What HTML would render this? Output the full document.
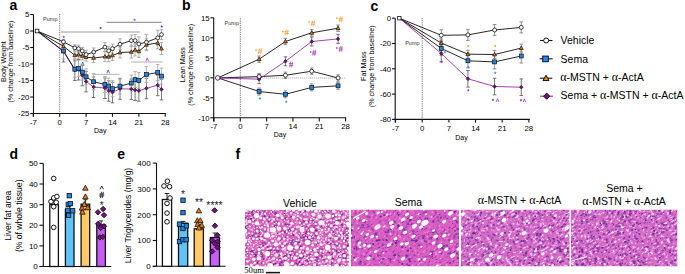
<!DOCTYPE html>
<html><head><meta charset="utf-8"><style>
html,body{margin:0;padding:0;background:#fff;font-family:"Liberation Sans",sans-serif;}
svg{display:block;}
</style></head><body>
<svg width="685" height="274" viewBox="0 0 685 274" font-family="Liberation Sans, sans-serif">
<defs><filter id="soft" x="-2%" y="-2%" width="104%" height="104%"><feGaussianBlur stdDeviation="0.3"/></filter>
<filter id="h11" x="0" y="0" width="100%" height="100%" color-interpolation-filters="sRGB"><feTurbulence type="fractalNoise" baseFrequency="0.3 0.55" numOctaves="3" seed="11"/><feColorMatrix type="matrix" values="1 0 0 0 0  1 0 0 0 0  1 0 0 0 0  0 0 0 0 1"/><feComponentTransfer><feFuncR type="table" tableValues="0.4 0.41 0.42 0.43 0.44 0.45 0.46 0.617 0.76 0.845 0.857 0.87 0.906 0.94 0.962 0.969 0.975 0.981 0.988 0.994 1"/><feFuncG type="table" tableValues="0.14 0.145 0.15 0.155 0.16 0.165 0.17 0.263 0.335 0.375 0.388 0.4 0.529 0.68 0.791 0.819 0.848 0.876 0.904 0.932 0.96"/><feFuncB type="table" tableValues="0.5 0.51 0.52 0.53 0.54 0.55 0.56 0.646 0.695 0.715 0.727 0.74 0.819 0.89 0.934 0.945 0.956 0.967 0.978 0.989 1"/></feComponentTransfer></filter>
<clipPath id="c11"><rect x="245" y="209.8" width="104" height="56.5"/></clipPath>
<filter id="h12" x="0" y="0" width="100%" height="100%" color-interpolation-filters="sRGB"><feTurbulence type="fractalNoise" baseFrequency="0.3 0.55" numOctaves="3" seed="12"/><feColorMatrix type="matrix" values="1 0 0 0 0  1 0 0 0 0  1 0 0 0 0  0 0 0 0 1"/><feComponentTransfer><feFuncR type="table" tableValues="0.42 0.434 0.449 0.463 0.477 0.491 0.557 0.7 0.8 0.845 0.852 0.86 0.867 0.888 0.918 0.949 0.98 0.985 0.99 0.995 1"/><feFuncG type="table" tableValues="0.15 0.159 0.168 0.177 0.186 0.195 0.229 0.3 0.336 0.356 0.366 0.376 0.386 0.447 0.542 0.67 0.82 0.855 0.89 0.925 0.96"/><feFuncB type="table" tableValues="0.54 0.551 0.561 0.572 0.583 0.594 0.634 0.72 0.741 0.755 0.762 0.77 0.777 0.81 0.86 0.91 0.96 0.97 0.98 0.99 1"/></feComponentTransfer></filter>
<clipPath id="c12"><rect x="351" y="209.8" width="108" height="56.5"/></clipPath>
<filter id="h13" x="0" y="0" width="100%" height="100%" color-interpolation-filters="sRGB"><feTurbulence type="fractalNoise" baseFrequency="0.3 0.55" numOctaves="3" seed="13"/><feColorMatrix type="matrix" values="1 0 0 0 0  1 0 0 0 0  1 0 0 0 0  0 0 0 0 1"/><feComponentTransfer><feFuncR type="table" tableValues="0.44 0.453 0.467 0.48 0.493 0.507 0.52 0.649 0.76 0.825 0.837 0.85 0.893 0.935 0.962 0.969 0.975 0.981 0.988 0.994 1"/><feFuncG type="table" tableValues="0.18 0.187 0.193 0.2 0.207 0.213 0.22 0.306 0.375 0.415 0.427 0.44 0.554 0.7 0.81 0.835 0.86 0.885 0.91 0.935 0.96"/><feFuncB type="table" tableValues="0.56 0.57 0.58 0.59 0.6 0.61 0.62 0.699 0.75 0.773 0.782 0.79 0.854 0.915 0.953 0.961 0.969 0.977 0.984 0.992 1"/></feComponentTransfer></filter>
<clipPath id="c13"><rect x="461" y="209.8" width="108.5" height="56.5"/></clipPath>
<filter id="h14" x="0" y="0" width="100%" height="100%" color-interpolation-filters="sRGB"><feTurbulence type="fractalNoise" baseFrequency="0.3 0.55" numOctaves="3" seed="14"/><feColorMatrix type="matrix" values="1 0 0 0 0  1 0 0 0 0  1 0 0 0 0  0 0 0 0 1"/><feComponentTransfer><feFuncR type="table" tableValues="0.44 0.453 0.467 0.48 0.493 0.507 0.52 0.649 0.76 0.825 0.837 0.85 0.893 0.935 0.962 0.969 0.975 0.981 0.988 0.994 1"/><feFuncG type="table" tableValues="0.18 0.187 0.193 0.2 0.207 0.213 0.22 0.306 0.375 0.415 0.427 0.44 0.554 0.7 0.81 0.835 0.86 0.885 0.91 0.935 0.96"/><feFuncB type="table" tableValues="0.56 0.57 0.58 0.59 0.6 0.61 0.62 0.699 0.75 0.773 0.782 0.79 0.854 0.915 0.953 0.961 0.969 0.977 0.984 0.992 1"/></feComponentTransfer></filter>
<clipPath id="c14"><rect x="571" y="209.8" width="106.3" height="56.5"/></clipPath></defs>
<text x="9.4" y="9.9" font-size="14" font-weight="bold">a</text>
<line x1="33.5" y1="14.4" x2="33.5" y2="116.8" stroke="#111" stroke-width="1.1"/>
<line x1="33" y1="113.5" x2="165.9" y2="113.5" stroke="#111" stroke-width="1.1"/>
<line x1="30.2" y1="14.5" x2="33.5" y2="14.5" stroke="#111" stroke-width="1.1"/>
<text x="29.4" y="17.3" font-size="7.8" text-anchor="end">5</text>
<line x1="30.2" y1="31" x2="33.5" y2="31" stroke="#111" stroke-width="1.1"/>
<text x="29.4" y="33.8" font-size="7.8" text-anchor="end">0</text>
<line x1="30.2" y1="47.5" x2="33.5" y2="47.5" stroke="#111" stroke-width="1.1"/>
<text x="29.4" y="50.3" font-size="7.8" text-anchor="end">-5</text>
<line x1="30.2" y1="64" x2="33.5" y2="64" stroke="#111" stroke-width="1.1"/>
<text x="29.4" y="66.8" font-size="7.8" text-anchor="end">-10</text>
<line x1="30.2" y1="80.5" x2="33.5" y2="80.5" stroke="#111" stroke-width="1.1"/>
<text x="29.4" y="83.3" font-size="7.8" text-anchor="end">-15</text>
<line x1="30.2" y1="97" x2="33.5" y2="97" stroke="#111" stroke-width="1.1"/>
<text x="29.4" y="99.8" font-size="7.8" text-anchor="end">-20</text>
<line x1="30.2" y1="113.5" x2="33.5" y2="113.5" stroke="#111" stroke-width="1.1"/>
<text x="29.4" y="116.3" font-size="7.8" text-anchor="end">-25</text>
<line x1="33.3" y1="113.5" x2="33.3" y2="116.8" stroke="#111" stroke-width="1.1"/>
<text x="33.3" y="124.9" font-size="7.8" text-anchor="middle">-7</text>
<line x1="59.69" y1="113.5" x2="59.69" y2="116.8" stroke="#111" stroke-width="1.1"/>
<text x="59.69" y="124.9" font-size="7.8" text-anchor="middle">0</text>
<line x1="86.08" y1="113.5" x2="86.08" y2="116.8" stroke="#111" stroke-width="1.1"/>
<text x="86.08" y="124.9" font-size="7.8" text-anchor="middle">7</text>
<line x1="112.47" y1="113.5" x2="112.47" y2="116.8" stroke="#111" stroke-width="1.1"/>
<text x="112.47" y="124.9" font-size="7.8" text-anchor="middle">14</text>
<line x1="138.86" y1="113.5" x2="138.86" y2="116.8" stroke="#111" stroke-width="1.1"/>
<text x="138.86" y="124.9" font-size="7.8" text-anchor="middle">21</text>
<line x1="165.25" y1="113.5" x2="165.25" y2="116.8" stroke="#111" stroke-width="1.1"/>
<text x="165.25" y="124.9" font-size="7.8" text-anchor="middle">28</text>
<text x="100.2" y="132.9" font-size="7" text-anchor="middle">Day</text>
<text x="5.6" y="61.6" font-size="7.2" text-anchor="middle" transform="rotate(-90 5.6 61.6)">Body Weight</text>
<text x="13.4" y="61.6" font-size="7.2" text-anchor="middle" transform="rotate(-90 13.4 61.6)">(% change from baseline)</text>
<line x1="59.7" y1="14" x2="59.7" y2="113.5" stroke="#333" stroke-width="0.75" stroke-dasharray="0.9 0.9"/>
<text x="43.1" y="20.9" font-size="5.5" fill="#333">Pump</text>
<line x1="60.7" y1="32" x2="140.2" y2="32" stroke="#999" stroke-width="1.1"/>
<line x1="106.6" y1="22.4" x2="161.8" y2="22.4" stroke="#999" stroke-width="1.1"/>
<line x1="92.5" y1="74.4" x2="119.7" y2="74.4" stroke="#bbb" stroke-width="1.1"/>
<line x1="131" y1="62" x2="162.6" y2="62" stroke="#bbb" stroke-width="1.1"/>
<polygon points="100.6,26.5 101.04,27.39 102.03,27.54 101.31,28.23 101.48,29.21 100.6,28.75 99.72,29.21 99.89,28.23 99.17,27.54 100.16,27.39" fill="#3d3dff"/>
<polygon points="161.7,25.1 162.14,25.99 163.13,26.14 162.41,26.83 162.58,27.81 161.7,27.35 160.82,27.81 160.99,26.83 160.27,26.14 161.26,25.99" fill="#3d3dff"/>
<polygon points="63.7,35.4 64.14,36.29 65.13,36.44 64.41,37.13 64.58,38.11 63.7,37.65 62.82,38.11 62.99,37.13 62.27,36.44 63.26,36.29" fill="#a040f0"/>
<polygon points="134.6,18.3 135.04,19.19 136.03,19.34 135.31,20.03 135.48,21.01 134.6,20.55 133.72,21.01 133.89,20.03 133.17,19.34 134.16,19.19" fill="#a040f0"/>
<path d="M81.4 65.4L82.7 62L84 65.4" fill="none" stroke="#3d55ff" stroke-width="0.9"/>
<path d="M106.9 73.3L108.2 69.9L109.5 73.3" fill="none" stroke="#3d55ff" stroke-width="0.9"/>
<path d="M145.9 61.3L147.2 57.9L148.5 61.3" fill="none" stroke="#b048f0" stroke-width="0.9"/>
<line x1="63.46" y1="41.5" x2="63.46" y2="62" stroke="#555" stroke-width="0.8"/>
<line x1="61.66" y1="41.5" x2="65.26" y2="41.5" stroke="#555" stroke-width="0.8"/>
<line x1="61.66" y1="62" x2="65.26" y2="62" stroke="#555" stroke-width="0.8"/>
<line x1="74.77" y1="60" x2="74.77" y2="80.5" stroke="#555" stroke-width="0.8"/>
<line x1="72.97" y1="60" x2="76.57" y2="60" stroke="#555" stroke-width="0.8"/>
<line x1="72.97" y1="80.5" x2="76.57" y2="80.5" stroke="#555" stroke-width="0.8"/>
<line x1="78.54" y1="59.5" x2="78.54" y2="80" stroke="#555" stroke-width="0.8"/>
<line x1="76.74" y1="59.5" x2="80.34" y2="59.5" stroke="#555" stroke-width="0.8"/>
<line x1="76.74" y1="80" x2="80.34" y2="80" stroke="#555" stroke-width="0.8"/>
<line x1="82.31" y1="65.3" x2="82.31" y2="85.8" stroke="#555" stroke-width="0.8"/>
<line x1="80.51" y1="65.3" x2="84.11" y2="65.3" stroke="#555" stroke-width="0.8"/>
<line x1="80.51" y1="85.8" x2="84.11" y2="85.8" stroke="#555" stroke-width="0.8"/>
<line x1="86.08" y1="71.4" x2="86.08" y2="91.9" stroke="#555" stroke-width="0.8"/>
<line x1="84.28" y1="71.4" x2="87.88" y2="71.4" stroke="#555" stroke-width="0.8"/>
<line x1="84.28" y1="91.9" x2="87.88" y2="91.9" stroke="#555" stroke-width="0.8"/>
<line x1="93.62" y1="77" x2="93.62" y2="97.5" stroke="#555" stroke-width="0.8"/>
<line x1="91.82" y1="77" x2="95.42" y2="77" stroke="#555" stroke-width="0.8"/>
<line x1="91.82" y1="97.5" x2="95.42" y2="97.5" stroke="#555" stroke-width="0.8"/>
<line x1="104.93" y1="78" x2="104.93" y2="98.5" stroke="#555" stroke-width="0.8"/>
<line x1="103.13" y1="78" x2="106.73" y2="78" stroke="#555" stroke-width="0.8"/>
<line x1="103.13" y1="98.5" x2="106.73" y2="98.5" stroke="#555" stroke-width="0.8"/>
<line x1="108.7" y1="80.8" x2="108.7" y2="101.3" stroke="#555" stroke-width="0.8"/>
<line x1="106.9" y1="80.8" x2="110.5" y2="80.8" stroke="#555" stroke-width="0.8"/>
<line x1="106.9" y1="101.3" x2="110.5" y2="101.3" stroke="#555" stroke-width="0.8"/>
<line x1="112.47" y1="82.3" x2="112.47" y2="102.8" stroke="#555" stroke-width="0.8"/>
<line x1="110.67" y1="82.3" x2="114.27" y2="82.3" stroke="#555" stroke-width="0.8"/>
<line x1="110.67" y1="102.8" x2="114.27" y2="102.8" stroke="#555" stroke-width="0.8"/>
<line x1="120.01" y1="78.8" x2="120.01" y2="99.3" stroke="#555" stroke-width="0.8"/>
<line x1="118.21" y1="78.8" x2="121.81" y2="78.8" stroke="#555" stroke-width="0.8"/>
<line x1="118.21" y1="99.3" x2="121.81" y2="99.3" stroke="#555" stroke-width="0.8"/>
<line x1="131.32" y1="79" x2="131.32" y2="99.5" stroke="#555" stroke-width="0.8"/>
<line x1="129.52" y1="79" x2="133.12" y2="79" stroke="#555" stroke-width="0.8"/>
<line x1="129.52" y1="99.5" x2="133.12" y2="99.5" stroke="#555" stroke-width="0.8"/>
<line x1="135.09" y1="80" x2="135.09" y2="100.5" stroke="#555" stroke-width="0.8"/>
<line x1="133.29" y1="80" x2="136.89" y2="80" stroke="#555" stroke-width="0.8"/>
<line x1="133.29" y1="100.5" x2="136.89" y2="100.5" stroke="#555" stroke-width="0.8"/>
<line x1="138.86" y1="80.7" x2="138.86" y2="101.2" stroke="#555" stroke-width="0.8"/>
<line x1="137.06" y1="80.7" x2="140.66" y2="80.7" stroke="#555" stroke-width="0.8"/>
<line x1="137.06" y1="101.2" x2="140.66" y2="101.2" stroke="#555" stroke-width="0.8"/>
<line x1="146.4" y1="78.3" x2="146.4" y2="98.8" stroke="#555" stroke-width="0.8"/>
<line x1="144.6" y1="78.3" x2="148.2" y2="78.3" stroke="#555" stroke-width="0.8"/>
<line x1="144.6" y1="98.8" x2="148.2" y2="98.8" stroke="#555" stroke-width="0.8"/>
<line x1="157.71" y1="75.2" x2="157.71" y2="95.7" stroke="#555" stroke-width="0.8"/>
<line x1="155.91" y1="75.2" x2="159.51" y2="75.2" stroke="#555" stroke-width="0.8"/>
<line x1="155.91" y1="95.7" x2="159.51" y2="95.7" stroke="#555" stroke-width="0.8"/>
<line x1="161.48" y1="79.4" x2="161.48" y2="99.9" stroke="#555" stroke-width="0.8"/>
<line x1="159.68" y1="79.4" x2="163.28" y2="79.4" stroke="#555" stroke-width="0.8"/>
<line x1="159.68" y1="99.9" x2="163.28" y2="99.9" stroke="#555" stroke-width="0.8"/>
<line x1="63.46" y1="43" x2="63.46" y2="59" stroke="#aaa" stroke-width="0.9"/>
<line x1="61.66" y1="43" x2="65.26" y2="43" stroke="#aaa" stroke-width="0.9"/>
<line x1="61.66" y1="59" x2="65.26" y2="59" stroke="#aaa" stroke-width="0.9"/>
<line x1="74.77" y1="61.2" x2="74.77" y2="77.2" stroke="#aaa" stroke-width="0.9"/>
<line x1="72.97" y1="61.2" x2="76.57" y2="61.2" stroke="#aaa" stroke-width="0.9"/>
<line x1="72.97" y1="77.2" x2="76.57" y2="77.2" stroke="#aaa" stroke-width="0.9"/>
<line x1="78.54" y1="60.3" x2="78.54" y2="76.3" stroke="#aaa" stroke-width="0.9"/>
<line x1="76.74" y1="60.3" x2="80.34" y2="60.3" stroke="#aaa" stroke-width="0.9"/>
<line x1="76.74" y1="76.3" x2="80.34" y2="76.3" stroke="#aaa" stroke-width="0.9"/>
<line x1="82.31" y1="64.1" x2="82.31" y2="80.1" stroke="#aaa" stroke-width="0.9"/>
<line x1="80.51" y1="64.1" x2="84.11" y2="64.1" stroke="#aaa" stroke-width="0.9"/>
<line x1="80.51" y1="80.1" x2="84.11" y2="80.1" stroke="#aaa" stroke-width="0.9"/>
<line x1="86.08" y1="68.8" x2="86.08" y2="84.8" stroke="#aaa" stroke-width="0.9"/>
<line x1="84.28" y1="68.8" x2="87.88" y2="68.8" stroke="#aaa" stroke-width="0.9"/>
<line x1="84.28" y1="84.8" x2="87.88" y2="84.8" stroke="#aaa" stroke-width="0.9"/>
<line x1="93.62" y1="73.7" x2="93.62" y2="89.7" stroke="#aaa" stroke-width="0.9"/>
<line x1="91.82" y1="73.7" x2="95.42" y2="73.7" stroke="#aaa" stroke-width="0.9"/>
<line x1="91.82" y1="89.7" x2="95.42" y2="89.7" stroke="#aaa" stroke-width="0.9"/>
<line x1="104.93" y1="76.5" x2="104.93" y2="92.5" stroke="#aaa" stroke-width="0.9"/>
<line x1="103.13" y1="76.5" x2="106.73" y2="76.5" stroke="#aaa" stroke-width="0.9"/>
<line x1="103.13" y1="92.5" x2="106.73" y2="92.5" stroke="#aaa" stroke-width="0.9"/>
<line x1="108.7" y1="78.1" x2="108.7" y2="94.1" stroke="#aaa" stroke-width="0.9"/>
<line x1="106.9" y1="78.1" x2="110.5" y2="78.1" stroke="#aaa" stroke-width="0.9"/>
<line x1="106.9" y1="94.1" x2="110.5" y2="94.1" stroke="#aaa" stroke-width="0.9"/>
<line x1="112.47" y1="80.7" x2="112.47" y2="96.7" stroke="#aaa" stroke-width="0.9"/>
<line x1="110.67" y1="80.7" x2="114.27" y2="80.7" stroke="#aaa" stroke-width="0.9"/>
<line x1="110.67" y1="96.7" x2="114.27" y2="96.7" stroke="#aaa" stroke-width="0.9"/>
<line x1="120.01" y1="78.1" x2="120.01" y2="94.1" stroke="#aaa" stroke-width="0.9"/>
<line x1="118.21" y1="78.1" x2="121.81" y2="78.1" stroke="#aaa" stroke-width="0.9"/>
<line x1="118.21" y1="94.1" x2="121.81" y2="94.1" stroke="#aaa" stroke-width="0.9"/>
<line x1="131.32" y1="75.1" x2="131.32" y2="91.1" stroke="#aaa" stroke-width="0.9"/>
<line x1="129.52" y1="75.1" x2="133.12" y2="75.1" stroke="#aaa" stroke-width="0.9"/>
<line x1="129.52" y1="91.1" x2="133.12" y2="91.1" stroke="#aaa" stroke-width="0.9"/>
<line x1="135.09" y1="71.6" x2="135.09" y2="87.6" stroke="#aaa" stroke-width="0.9"/>
<line x1="133.29" y1="71.6" x2="136.89" y2="71.6" stroke="#aaa" stroke-width="0.9"/>
<line x1="133.29" y1="87.6" x2="136.89" y2="87.6" stroke="#aaa" stroke-width="0.9"/>
<line x1="138.86" y1="72.5" x2="138.86" y2="88.5" stroke="#aaa" stroke-width="0.9"/>
<line x1="137.06" y1="72.5" x2="140.66" y2="72.5" stroke="#aaa" stroke-width="0.9"/>
<line x1="137.06" y1="88.5" x2="140.66" y2="88.5" stroke="#aaa" stroke-width="0.9"/>
<line x1="146.4" y1="66.5" x2="146.4" y2="82.5" stroke="#aaa" stroke-width="0.9"/>
<line x1="144.6" y1="66.5" x2="148.2" y2="66.5" stroke="#aaa" stroke-width="0.9"/>
<line x1="144.6" y1="82.5" x2="148.2" y2="82.5" stroke="#aaa" stroke-width="0.9"/>
<line x1="157.71" y1="64.5" x2="157.71" y2="80.5" stroke="#aaa" stroke-width="0.9"/>
<line x1="155.91" y1="64.5" x2="159.51" y2="64.5" stroke="#aaa" stroke-width="0.9"/>
<line x1="155.91" y1="80.5" x2="159.51" y2="80.5" stroke="#aaa" stroke-width="0.9"/>
<line x1="161.48" y1="68.1" x2="161.48" y2="84.1" stroke="#aaa" stroke-width="0.9"/>
<line x1="159.68" y1="68.1" x2="163.28" y2="68.1" stroke="#aaa" stroke-width="0.9"/>
<line x1="159.68" y1="84.1" x2="163.28" y2="84.1" stroke="#aaa" stroke-width="0.9"/>
<line x1="63.46" y1="43.8" x2="63.46" y2="48.8" stroke="#999" stroke-width="0.8"/>
<line x1="61.66" y1="43.8" x2="65.26" y2="43.8" stroke="#999" stroke-width="0.8"/>
<line x1="61.66" y1="48.8" x2="65.26" y2="48.8" stroke="#999" stroke-width="0.8"/>
<line x1="74.77" y1="51.8" x2="74.77" y2="58.8" stroke="#999" stroke-width="0.8"/>
<line x1="72.97" y1="51.8" x2="76.57" y2="51.8" stroke="#999" stroke-width="0.8"/>
<line x1="72.97" y1="58.8" x2="76.57" y2="58.8" stroke="#999" stroke-width="0.8"/>
<line x1="78.54" y1="51.2" x2="78.54" y2="58.2" stroke="#999" stroke-width="0.8"/>
<line x1="76.74" y1="51.2" x2="80.34" y2="51.2" stroke="#999" stroke-width="0.8"/>
<line x1="76.74" y1="58.2" x2="80.34" y2="58.2" stroke="#999" stroke-width="0.8"/>
<line x1="82.31" y1="52" x2="82.31" y2="60" stroke="#999" stroke-width="0.8"/>
<line x1="80.51" y1="52" x2="84.11" y2="52" stroke="#999" stroke-width="0.8"/>
<line x1="80.51" y1="60" x2="84.11" y2="60" stroke="#999" stroke-width="0.8"/>
<line x1="86.08" y1="53.1" x2="86.08" y2="61.1" stroke="#999" stroke-width="0.8"/>
<line x1="84.28" y1="53.1" x2="87.88" y2="53.1" stroke="#999" stroke-width="0.8"/>
<line x1="84.28" y1="61.1" x2="87.88" y2="61.1" stroke="#999" stroke-width="0.8"/>
<line x1="93.62" y1="53.5" x2="93.62" y2="62.5" stroke="#999" stroke-width="0.8"/>
<line x1="91.82" y1="53.5" x2="95.42" y2="53.5" stroke="#999" stroke-width="0.8"/>
<line x1="91.82" y1="62.5" x2="95.42" y2="62.5" stroke="#999" stroke-width="0.8"/>
<line x1="104.93" y1="51.6" x2="104.93" y2="61.6" stroke="#999" stroke-width="0.8"/>
<line x1="103.13" y1="51.6" x2="106.73" y2="51.6" stroke="#999" stroke-width="0.8"/>
<line x1="103.13" y1="61.6" x2="106.73" y2="61.6" stroke="#999" stroke-width="0.8"/>
<line x1="108.7" y1="51.8" x2="108.7" y2="61.8" stroke="#999" stroke-width="0.8"/>
<line x1="106.9" y1="51.8" x2="110.5" y2="51.8" stroke="#999" stroke-width="0.8"/>
<line x1="106.9" y1="61.8" x2="110.5" y2="61.8" stroke="#999" stroke-width="0.8"/>
<line x1="112.47" y1="50.5" x2="112.47" y2="60.5" stroke="#999" stroke-width="0.8"/>
<line x1="110.67" y1="50.5" x2="114.27" y2="50.5" stroke="#999" stroke-width="0.8"/>
<line x1="110.67" y1="60.5" x2="114.27" y2="60.5" stroke="#999" stroke-width="0.8"/>
<line x1="120.01" y1="47" x2="120.01" y2="58" stroke="#999" stroke-width="0.8"/>
<line x1="118.21" y1="47" x2="121.81" y2="47" stroke="#999" stroke-width="0.8"/>
<line x1="118.21" y1="58" x2="121.81" y2="58" stroke="#999" stroke-width="0.8"/>
<line x1="131.32" y1="46" x2="131.32" y2="58" stroke="#999" stroke-width="0.8"/>
<line x1="129.52" y1="46" x2="133.12" y2="46" stroke="#999" stroke-width="0.8"/>
<line x1="129.52" y1="58" x2="133.12" y2="58" stroke="#999" stroke-width="0.8"/>
<line x1="135.09" y1="43.9" x2="135.09" y2="55.9" stroke="#999" stroke-width="0.8"/>
<line x1="133.29" y1="43.9" x2="136.89" y2="43.9" stroke="#999" stroke-width="0.8"/>
<line x1="133.29" y1="55.9" x2="136.89" y2="55.9" stroke="#999" stroke-width="0.8"/>
<line x1="138.86" y1="45.4" x2="138.86" y2="57.4" stroke="#999" stroke-width="0.8"/>
<line x1="137.06" y1="45.4" x2="140.66" y2="45.4" stroke="#999" stroke-width="0.8"/>
<line x1="137.06" y1="57.4" x2="140.66" y2="57.4" stroke="#999" stroke-width="0.8"/>
<line x1="146.4" y1="38.8" x2="146.4" y2="50.8" stroke="#999" stroke-width="0.8"/>
<line x1="144.6" y1="38.8" x2="148.2" y2="38.8" stroke="#999" stroke-width="0.8"/>
<line x1="144.6" y1="50.8" x2="148.2" y2="50.8" stroke="#999" stroke-width="0.8"/>
<line x1="157.71" y1="36.9" x2="157.71" y2="48.9" stroke="#999" stroke-width="0.8"/>
<line x1="155.91" y1="36.9" x2="159.51" y2="36.9" stroke="#999" stroke-width="0.8"/>
<line x1="155.91" y1="48.9" x2="159.51" y2="48.9" stroke="#999" stroke-width="0.8"/>
<line x1="161.48" y1="42.6" x2="161.48" y2="54.6" stroke="#999" stroke-width="0.8"/>
<line x1="159.68" y1="42.6" x2="163.28" y2="42.6" stroke="#999" stroke-width="0.8"/>
<line x1="159.68" y1="54.6" x2="163.28" y2="54.6" stroke="#999" stroke-width="0.8"/>
<line x1="63.46" y1="39.3" x2="63.46" y2="44.3" stroke="#999" stroke-width="0.8"/>
<line x1="61.66" y1="39.3" x2="65.26" y2="39.3" stroke="#999" stroke-width="0.8"/>
<line x1="61.66" y1="44.3" x2="65.26" y2="44.3" stroke="#999" stroke-width="0.8"/>
<line x1="74.77" y1="44.9" x2="74.77" y2="50.9" stroke="#999" stroke-width="0.8"/>
<line x1="72.97" y1="44.9" x2="76.57" y2="44.9" stroke="#999" stroke-width="0.8"/>
<line x1="72.97" y1="50.9" x2="76.57" y2="50.9" stroke="#999" stroke-width="0.8"/>
<line x1="78.54" y1="45.2" x2="78.54" y2="52.2" stroke="#999" stroke-width="0.8"/>
<line x1="76.74" y1="45.2" x2="80.34" y2="45.2" stroke="#999" stroke-width="0.8"/>
<line x1="76.74" y1="52.2" x2="80.34" y2="52.2" stroke="#999" stroke-width="0.8"/>
<line x1="82.31" y1="47.4" x2="82.31" y2="54.4" stroke="#999" stroke-width="0.8"/>
<line x1="80.51" y1="47.4" x2="84.11" y2="47.4" stroke="#999" stroke-width="0.8"/>
<line x1="80.51" y1="54.4" x2="84.11" y2="54.4" stroke="#999" stroke-width="0.8"/>
<line x1="86.08" y1="50.6" x2="86.08" y2="58.6" stroke="#999" stroke-width="0.8"/>
<line x1="84.28" y1="50.6" x2="87.88" y2="50.6" stroke="#999" stroke-width="0.8"/>
<line x1="84.28" y1="58.6" x2="87.88" y2="58.6" stroke="#999" stroke-width="0.8"/>
<line x1="93.62" y1="48" x2="93.62" y2="56" stroke="#999" stroke-width="0.8"/>
<line x1="91.82" y1="48" x2="95.42" y2="48" stroke="#999" stroke-width="0.8"/>
<line x1="91.82" y1="56" x2="95.42" y2="56" stroke="#999" stroke-width="0.8"/>
<line x1="104.93" y1="42.6" x2="104.93" y2="51.6" stroke="#999" stroke-width="0.8"/>
<line x1="103.13" y1="42.6" x2="106.73" y2="42.6" stroke="#999" stroke-width="0.8"/>
<line x1="103.13" y1="51.6" x2="106.73" y2="51.6" stroke="#999" stroke-width="0.8"/>
<line x1="108.7" y1="46.3" x2="108.7" y2="55.3" stroke="#999" stroke-width="0.8"/>
<line x1="106.9" y1="46.3" x2="110.5" y2="46.3" stroke="#999" stroke-width="0.8"/>
<line x1="106.9" y1="55.3" x2="110.5" y2="55.3" stroke="#999" stroke-width="0.8"/>
<line x1="112.47" y1="44.1" x2="112.47" y2="53.1" stroke="#999" stroke-width="0.8"/>
<line x1="110.67" y1="44.1" x2="114.27" y2="44.1" stroke="#999" stroke-width="0.8"/>
<line x1="110.67" y1="53.1" x2="114.27" y2="53.1" stroke="#999" stroke-width="0.8"/>
<line x1="120.01" y1="38.7" x2="120.01" y2="49.7" stroke="#999" stroke-width="0.8"/>
<line x1="118.21" y1="38.7" x2="121.81" y2="38.7" stroke="#999" stroke-width="0.8"/>
<line x1="118.21" y1="49.7" x2="121.81" y2="49.7" stroke="#999" stroke-width="0.8"/>
<line x1="131.32" y1="35.1" x2="131.32" y2="46.1" stroke="#999" stroke-width="0.8"/>
<line x1="129.52" y1="35.1" x2="133.12" y2="35.1" stroke="#999" stroke-width="0.8"/>
<line x1="129.52" y1="46.1" x2="133.12" y2="46.1" stroke="#999" stroke-width="0.8"/>
<line x1="135.09" y1="34.6" x2="135.09" y2="46.6" stroke="#999" stroke-width="0.8"/>
<line x1="133.29" y1="34.6" x2="136.89" y2="34.6" stroke="#999" stroke-width="0.8"/>
<line x1="133.29" y1="46.6" x2="136.89" y2="46.6" stroke="#999" stroke-width="0.8"/>
<line x1="138.86" y1="36.9" x2="138.86" y2="50.9" stroke="#999" stroke-width="0.8"/>
<line x1="137.06" y1="36.9" x2="140.66" y2="36.9" stroke="#999" stroke-width="0.8"/>
<line x1="137.06" y1="50.9" x2="140.66" y2="50.9" stroke="#999" stroke-width="0.8"/>
<line x1="146.4" y1="34.7" x2="146.4" y2="49.7" stroke="#999" stroke-width="0.8"/>
<line x1="144.6" y1="34.7" x2="148.2" y2="34.7" stroke="#999" stroke-width="0.8"/>
<line x1="144.6" y1="49.7" x2="148.2" y2="49.7" stroke="#999" stroke-width="0.8"/>
<line x1="157.71" y1="30.3" x2="157.71" y2="45.3" stroke="#999" stroke-width="0.8"/>
<line x1="155.91" y1="30.3" x2="159.51" y2="30.3" stroke="#999" stroke-width="0.8"/>
<line x1="155.91" y1="45.3" x2="159.51" y2="45.3" stroke="#999" stroke-width="0.8"/>
<line x1="161.48" y1="29.6" x2="161.48" y2="39.6" stroke="#999" stroke-width="0.8"/>
<line x1="159.68" y1="29.6" x2="163.28" y2="29.6" stroke="#999" stroke-width="0.8"/>
<line x1="159.68" y1="39.6" x2="163.28" y2="39.6" stroke="#999" stroke-width="0.8"/>
<polyline points="37.07,31 63.46,51.5 74.77,70 78.54,69.5 82.31,75.3 86.08,81.4 93.62,87 104.93,88 108.7,90.8 112.47,92.3 120.01,88.8 131.32,89 135.09,90 138.86,90.7 146.4,88.3 157.71,85.2 161.48,89.4" fill="none" stroke="#9a2fa8" stroke-width="0.9" stroke-linejoin="round"/>
<polyline points="37.07,31 63.46,51 74.77,69.2 78.54,68.3 82.31,72.1 86.08,76.8 93.62,81.7 104.93,84.5 108.7,86.1 112.47,88.7 120.01,86.1 131.32,83.1 135.09,79.6 138.86,80.5 146.4,74.5 157.71,72.5 161.48,76.1" fill="none" stroke="#111" stroke-width="0.9" stroke-linejoin="round"/>
<polyline points="37.07,31 63.46,46.3 74.77,55.3 78.54,54.7 82.31,56 86.08,57.1 93.62,58 104.93,56.6 108.7,56.8 112.47,55.5 120.01,52.5 131.32,52 135.09,49.9 138.86,51.4 146.4,44.8 157.71,42.9 161.48,48.6" fill="none" stroke="#111" stroke-width="0.9" stroke-linejoin="round"/>
<polyline points="37.07,31 63.46,41.8 74.77,47.9 78.54,48.7 82.31,50.9 86.08,54.6 93.62,52 104.93,47.1 108.7,50.8 112.47,48.6 120.01,44.2 131.32,40.6 135.09,40.6 138.86,43.9 146.4,42.2 157.71,37.8 161.48,34.6" fill="none" stroke="#111" stroke-width="0.9" stroke-linejoin="round"/>
<polygon points="63.46,49.7 65.26,51.5 63.46,53.3 61.66,51.5" fill="#7a0a88" stroke="#111" stroke-width="0.6"/>
<polygon points="74.77,68.2 76.57,70 74.77,71.8 72.97,70" fill="#7a0a88" stroke="#111" stroke-width="0.6"/>
<polygon points="78.54,67.7 80.34,69.5 78.54,71.3 76.74,69.5" fill="#7a0a88" stroke="#111" stroke-width="0.6"/>
<polygon points="82.31,73.5 84.11,75.3 82.31,77.1 80.51,75.3" fill="#7a0a88" stroke="#111" stroke-width="0.6"/>
<polygon points="86.08,79.6 87.88,81.4 86.08,83.2 84.28,81.4" fill="#7a0a88" stroke="#111" stroke-width="0.6"/>
<polygon points="93.62,85.2 95.42,87 93.62,88.8 91.82,87" fill="#7a0a88" stroke="#111" stroke-width="0.6"/>
<polygon points="104.93,86.2 106.73,88 104.93,89.8 103.13,88" fill="#7a0a88" stroke="#111" stroke-width="0.6"/>
<polygon points="108.7,89 110.5,90.8 108.7,92.6 106.9,90.8" fill="#7a0a88" stroke="#111" stroke-width="0.6"/>
<polygon points="112.47,90.5 114.27,92.3 112.47,94.1 110.67,92.3" fill="#7a0a88" stroke="#111" stroke-width="0.6"/>
<polygon points="120.01,87 121.81,88.8 120.01,90.6 118.21,88.8" fill="#7a0a88" stroke="#111" stroke-width="0.6"/>
<polygon points="131.32,87.2 133.12,89 131.32,90.8 129.52,89" fill="#7a0a88" stroke="#111" stroke-width="0.6"/>
<polygon points="135.09,88.2 136.89,90 135.09,91.8 133.29,90" fill="#7a0a88" stroke="#111" stroke-width="0.6"/>
<polygon points="138.86,88.9 140.66,90.7 138.86,92.5 137.06,90.7" fill="#7a0a88" stroke="#111" stroke-width="0.6"/>
<polygon points="146.4,86.5 148.2,88.3 146.4,90.1 144.6,88.3" fill="#7a0a88" stroke="#111" stroke-width="0.6"/>
<polygon points="157.71,83.4 159.51,85.2 157.71,87 155.91,85.2" fill="#7a0a88" stroke="#111" stroke-width="0.6"/>
<polygon points="161.48,87.6 163.28,89.4 161.48,91.2 159.68,89.4" fill="#7a0a88" stroke="#111" stroke-width="0.6"/>
<rect x="61.51" y="49.05" width="3.9" height="3.9" fill="#1f86e8" stroke="#111" stroke-width="0.7"/>
<rect x="72.82" y="67.25" width="3.9" height="3.9" fill="#1f86e8" stroke="#111" stroke-width="0.7"/>
<rect x="76.59" y="66.35" width="3.9" height="3.9" fill="#1f86e8" stroke="#111" stroke-width="0.7"/>
<rect x="80.36" y="70.15" width="3.9" height="3.9" fill="#1f86e8" stroke="#111" stroke-width="0.7"/>
<rect x="84.13" y="74.85" width="3.9" height="3.9" fill="#1f86e8" stroke="#111" stroke-width="0.7"/>
<rect x="91.67" y="79.75" width="3.9" height="3.9" fill="#1f86e8" stroke="#111" stroke-width="0.7"/>
<rect x="102.98" y="82.55" width="3.9" height="3.9" fill="#1f86e8" stroke="#111" stroke-width="0.7"/>
<rect x="106.75" y="84.15" width="3.9" height="3.9" fill="#1f86e8" stroke="#111" stroke-width="0.7"/>
<rect x="110.52" y="86.75" width="3.9" height="3.9" fill="#1f86e8" stroke="#111" stroke-width="0.7"/>
<rect x="118.06" y="84.15" width="3.9" height="3.9" fill="#1f86e8" stroke="#111" stroke-width="0.7"/>
<rect x="129.37" y="81.15" width="3.9" height="3.9" fill="#1f86e8" stroke="#111" stroke-width="0.7"/>
<rect x="133.14" y="77.65" width="3.9" height="3.9" fill="#1f86e8" stroke="#111" stroke-width="0.7"/>
<rect x="136.91" y="78.55" width="3.9" height="3.9" fill="#1f86e8" stroke="#111" stroke-width="0.7"/>
<rect x="144.45" y="72.55" width="3.9" height="3.9" fill="#1f86e8" stroke="#111" stroke-width="0.7"/>
<rect x="155.76" y="70.55" width="3.9" height="3.9" fill="#1f86e8" stroke="#111" stroke-width="0.7"/>
<rect x="159.53" y="74.15" width="3.9" height="3.9" fill="#1f86e8" stroke="#111" stroke-width="0.7"/>
<polygon points="63.46,44.25 61.56,47.67 65.36,47.67" fill="#e8780e" stroke="#111" stroke-width="0.7"/>
<polygon points="74.77,53.25 72.87,56.67 76.67,56.67" fill="#e8780e" stroke="#111" stroke-width="0.7"/>
<polygon points="78.54,52.65 76.64,56.07 80.44,56.07" fill="#e8780e" stroke="#111" stroke-width="0.7"/>
<polygon points="82.31,53.95 80.41,57.37 84.21,57.37" fill="#e8780e" stroke="#111" stroke-width="0.7"/>
<polygon points="86.08,55.05 84.18,58.47 87.98,58.47" fill="#e8780e" stroke="#111" stroke-width="0.7"/>
<polygon points="93.62,55.95 91.72,59.37 95.52,59.37" fill="#e8780e" stroke="#111" stroke-width="0.7"/>
<polygon points="104.93,54.55 103.03,57.97 106.83,57.97" fill="#e8780e" stroke="#111" stroke-width="0.7"/>
<polygon points="108.7,54.75 106.8,58.17 110.6,58.17" fill="#e8780e" stroke="#111" stroke-width="0.7"/>
<polygon points="112.47,53.45 110.57,56.87 114.37,56.87" fill="#e8780e" stroke="#111" stroke-width="0.7"/>
<polygon points="120.01,50.45 118.11,53.87 121.91,53.87" fill="#e8780e" stroke="#111" stroke-width="0.7"/>
<polygon points="131.32,49.95 129.42,53.37 133.22,53.37" fill="#e8780e" stroke="#111" stroke-width="0.7"/>
<polygon points="135.09,47.85 133.19,51.27 136.99,51.27" fill="#e8780e" stroke="#111" stroke-width="0.7"/>
<polygon points="138.86,49.35 136.96,52.77 140.76,52.77" fill="#e8780e" stroke="#111" stroke-width="0.7"/>
<polygon points="146.4,42.75 144.5,46.17 148.3,46.17" fill="#e8780e" stroke="#111" stroke-width="0.7"/>
<polygon points="157.71,40.85 155.81,44.27 159.61,44.27" fill="#e8780e" stroke="#111" stroke-width="0.7"/>
<polygon points="161.48,46.55 159.58,49.97 163.38,49.97" fill="#e8780e" stroke="#111" stroke-width="0.7"/>
<circle cx="63.46" cy="41.8" r="1.9" fill="#fff" stroke="#111" stroke-width="0.8"/>
<circle cx="74.77" cy="47.9" r="1.9" fill="#fff" stroke="#111" stroke-width="0.8"/>
<circle cx="78.54" cy="48.7" r="1.9" fill="#fff" stroke="#111" stroke-width="0.8"/>
<circle cx="82.31" cy="50.9" r="1.9" fill="#fff" stroke="#111" stroke-width="0.8"/>
<circle cx="86.08" cy="54.6" r="1.9" fill="#fff" stroke="#111" stroke-width="0.8"/>
<circle cx="93.62" cy="52" r="1.9" fill="#fff" stroke="#111" stroke-width="0.8"/>
<circle cx="104.93" cy="47.1" r="1.9" fill="#fff" stroke="#111" stroke-width="0.8"/>
<circle cx="108.7" cy="50.8" r="1.9" fill="#fff" stroke="#111" stroke-width="0.8"/>
<circle cx="112.47" cy="48.6" r="1.9" fill="#fff" stroke="#111" stroke-width="0.8"/>
<circle cx="120.01" cy="44.2" r="1.9" fill="#fff" stroke="#111" stroke-width="0.8"/>
<circle cx="131.32" cy="40.6" r="1.9" fill="#fff" stroke="#111" stroke-width="0.8"/>
<circle cx="135.09" cy="40.6" r="1.9" fill="#fff" stroke="#111" stroke-width="0.8"/>
<circle cx="138.86" cy="43.9" r="1.9" fill="#fff" stroke="#111" stroke-width="0.8"/>
<circle cx="146.4" cy="42.2" r="1.9" fill="#fff" stroke="#111" stroke-width="0.8"/>
<circle cx="157.71" cy="37.8" r="1.9" fill="#fff" stroke="#111" stroke-width="0.8"/>
<circle cx="161.48" cy="34.6" r="1.9" fill="#fff" stroke="#111" stroke-width="0.8"/>
<rect x="35.27" y="29.2" width="3.6" height="3.6" fill="#fff" stroke="#111" stroke-width="0.8"/>
<text x="182" y="9.85" font-size="14" font-weight="bold">b</text>
<line x1="213.7" y1="17.8" x2="213.7" y2="121.5" stroke="#111" stroke-width="1.1"/>
<line x1="213.2" y1="117.8" x2="346.1" y2="117.8" stroke="#111" stroke-width="1.1"/>
<line x1="210.4" y1="17.8" x2="213.7" y2="17.8" stroke="#111" stroke-width="1.1"/>
<text x="209.6" y="20.6" font-size="7.8" text-anchor="end">15</text>
<line x1="210.4" y1="37.8" x2="213.7" y2="37.8" stroke="#111" stroke-width="1.1"/>
<text x="209.6" y="40.6" font-size="7.8" text-anchor="end">10</text>
<line x1="210.4" y1="57.8" x2="213.7" y2="57.8" stroke="#111" stroke-width="1.1"/>
<text x="209.6" y="60.6" font-size="7.8" text-anchor="end">5</text>
<line x1="210.4" y1="77.8" x2="213.7" y2="77.8" stroke="#111" stroke-width="1.1"/>
<text x="209.6" y="80.6" font-size="7.8" text-anchor="end">0</text>
<line x1="210.4" y1="97.8" x2="213.7" y2="97.8" stroke="#111" stroke-width="1.1"/>
<text x="209.6" y="100.6" font-size="7.8" text-anchor="end">-5</text>
<line x1="210.4" y1="117.8" x2="213.7" y2="117.8" stroke="#111" stroke-width="1.1"/>
<text x="209.6" y="120.6" font-size="7.8" text-anchor="end">-10</text>
<line x1="213.98" y1="117.8" x2="213.98" y2="121.5" stroke="#111" stroke-width="1.1"/>
<text x="213.98" y="129.2" font-size="7.8" text-anchor="middle">-7</text>
<line x1="240.3" y1="117.8" x2="240.3" y2="121.5" stroke="#111" stroke-width="1.1"/>
<text x="240.3" y="129.2" font-size="7.8" text-anchor="middle">0</text>
<line x1="266.62" y1="117.8" x2="266.62" y2="121.5" stroke="#111" stroke-width="1.1"/>
<text x="266.62" y="129.2" font-size="7.8" text-anchor="middle">7</text>
<line x1="292.94" y1="117.8" x2="292.94" y2="121.5" stroke="#111" stroke-width="1.1"/>
<text x="292.94" y="129.2" font-size="7.8" text-anchor="middle">14</text>
<line x1="319.26" y1="117.8" x2="319.26" y2="121.5" stroke="#111" stroke-width="1.1"/>
<text x="319.26" y="129.2" font-size="7.8" text-anchor="middle">21</text>
<line x1="345.58" y1="117.8" x2="345.58" y2="121.5" stroke="#111" stroke-width="1.1"/>
<text x="345.58" y="129.2" font-size="7.8" text-anchor="middle">28</text>
<text x="280" y="137.3" font-size="7" text-anchor="middle">Day</text>
<text x="185.4" y="64.75" font-size="7.2" text-anchor="middle" transform="rotate(-90 185.4 64.75)">Lean Mass</text>
<text x="193.2" y="64.75" font-size="7.2" text-anchor="middle" transform="rotate(-90 193.2 64.75)">(% change from baseline)</text>
<line x1="240.3" y1="17.8" x2="240.3" y2="117.8" stroke="#333" stroke-width="0.75" stroke-dasharray="0.9 0.9"/>
<text x="224.6" y="24.9" font-size="5.5" fill="#333">Pump</text>
<line x1="213.7" y1="78" x2="346" y2="78" stroke="#999" stroke-width="1" stroke-dasharray="1 1"/>
<line x1="259.1" y1="74.7" x2="259.1" y2="83.7" stroke="#555" stroke-width="0.8"/>
<line x1="257.3" y1="74.7" x2="260.9" y2="74.7" stroke="#555" stroke-width="0.8"/>
<line x1="257.3" y1="83.7" x2="260.9" y2="83.7" stroke="#555" stroke-width="0.8"/>
<line x1="259.1" y1="88" x2="259.1" y2="95" stroke="#777" stroke-width="0.8"/>
<line x1="257.3" y1="88" x2="260.9" y2="88" stroke="#777" stroke-width="0.8"/>
<line x1="257.3" y1="95" x2="260.9" y2="95" stroke="#777" stroke-width="0.8"/>
<line x1="259.1" y1="56" x2="259.1" y2="62.4" stroke="#777" stroke-width="0.8"/>
<line x1="257.3" y1="56" x2="260.9" y2="56" stroke="#777" stroke-width="0.8"/>
<line x1="257.3" y1="62.4" x2="260.9" y2="62.4" stroke="#777" stroke-width="0.8"/>
<line x1="259.1" y1="73.4" x2="259.1" y2="79.8" stroke="#777" stroke-width="0.8"/>
<line x1="257.3" y1="73.4" x2="260.9" y2="73.4" stroke="#777" stroke-width="0.8"/>
<line x1="257.3" y1="79.8" x2="260.9" y2="79.8" stroke="#777" stroke-width="0.8"/>
<line x1="285.42" y1="56.8" x2="285.42" y2="65.8" stroke="#555" stroke-width="0.8"/>
<line x1="283.62" y1="56.8" x2="287.22" y2="56.8" stroke="#555" stroke-width="0.8"/>
<line x1="283.62" y1="65.8" x2="287.22" y2="65.8" stroke="#555" stroke-width="0.8"/>
<line x1="285.42" y1="90.8" x2="285.42" y2="97.8" stroke="#777" stroke-width="0.8"/>
<line x1="283.62" y1="90.8" x2="287.22" y2="90.8" stroke="#777" stroke-width="0.8"/>
<line x1="283.62" y1="97.8" x2="287.22" y2="97.8" stroke="#777" stroke-width="0.8"/>
<line x1="285.42" y1="38.3" x2="285.42" y2="44.7" stroke="#777" stroke-width="0.8"/>
<line x1="283.62" y1="38.3" x2="287.22" y2="38.3" stroke="#777" stroke-width="0.8"/>
<line x1="283.62" y1="44.7" x2="287.22" y2="44.7" stroke="#777" stroke-width="0.8"/>
<line x1="285.42" y1="72.1" x2="285.42" y2="78.5" stroke="#777" stroke-width="0.8"/>
<line x1="283.62" y1="72.1" x2="287.22" y2="72.1" stroke="#777" stroke-width="0.8"/>
<line x1="283.62" y1="78.5" x2="287.22" y2="78.5" stroke="#777" stroke-width="0.8"/>
<line x1="311.74" y1="37" x2="311.74" y2="46" stroke="#555" stroke-width="0.8"/>
<line x1="309.94" y1="37" x2="313.54" y2="37" stroke="#555" stroke-width="0.8"/>
<line x1="309.94" y1="46" x2="313.54" y2="46" stroke="#555" stroke-width="0.8"/>
<line x1="311.74" y1="83.9" x2="311.74" y2="90.9" stroke="#777" stroke-width="0.8"/>
<line x1="309.94" y1="83.9" x2="313.54" y2="83.9" stroke="#777" stroke-width="0.8"/>
<line x1="309.94" y1="90.9" x2="313.54" y2="90.9" stroke="#777" stroke-width="0.8"/>
<line x1="311.74" y1="29.6" x2="311.74" y2="36" stroke="#777" stroke-width="0.8"/>
<line x1="309.94" y1="29.6" x2="313.54" y2="29.6" stroke="#777" stroke-width="0.8"/>
<line x1="309.94" y1="36" x2="313.54" y2="36" stroke="#777" stroke-width="0.8"/>
<line x1="311.74" y1="68" x2="311.74" y2="74.4" stroke="#777" stroke-width="0.8"/>
<line x1="309.94" y1="68" x2="313.54" y2="68" stroke="#777" stroke-width="0.8"/>
<line x1="309.94" y1="74.4" x2="313.54" y2="74.4" stroke="#777" stroke-width="0.8"/>
<line x1="338.06" y1="34.4" x2="338.06" y2="43.4" stroke="#555" stroke-width="0.8"/>
<line x1="336.26" y1="34.4" x2="339.86" y2="34.4" stroke="#555" stroke-width="0.8"/>
<line x1="336.26" y1="43.4" x2="339.86" y2="43.4" stroke="#555" stroke-width="0.8"/>
<line x1="338.06" y1="82.3" x2="338.06" y2="89.3" stroke="#777" stroke-width="0.8"/>
<line x1="336.26" y1="82.3" x2="339.86" y2="82.3" stroke="#777" stroke-width="0.8"/>
<line x1="336.26" y1="89.3" x2="339.86" y2="89.3" stroke="#777" stroke-width="0.8"/>
<line x1="338.06" y1="25" x2="338.06" y2="31.4" stroke="#777" stroke-width="0.8"/>
<line x1="336.26" y1="25" x2="339.86" y2="25" stroke="#777" stroke-width="0.8"/>
<line x1="336.26" y1="31.4" x2="339.86" y2="31.4" stroke="#777" stroke-width="0.8"/>
<line x1="338.06" y1="74.8" x2="338.06" y2="81.2" stroke="#777" stroke-width="0.8"/>
<line x1="336.26" y1="74.8" x2="339.86" y2="74.8" stroke="#777" stroke-width="0.8"/>
<line x1="336.26" y1="81.2" x2="339.86" y2="81.2" stroke="#777" stroke-width="0.8"/>
<polyline points="217.74,77.9 259.1,91.5 285.42,94.3 311.74,87.4 338.06,85.8" fill="none" stroke="#111" stroke-width="0.9" stroke-linejoin="round"/>
<polyline points="217.74,77.9 259.1,59.2 285.42,41.5 311.74,32.8 338.06,28.2" fill="none" stroke="#111" stroke-width="0.9" stroke-linejoin="round"/>
<polyline points="217.74,77.9 259.1,76.6 285.42,75.3 311.74,71.2 338.06,78" fill="none" stroke="#111" stroke-width="0.9" stroke-linejoin="round"/>
<polyline points="217.74,77.9 259.1,79.2 285.42,61.3 311.74,41.5 338.06,38.9" fill="none" stroke="#9a2fa8" stroke-width="0.9" stroke-linejoin="round"/>
<polygon points="259.1,77.4 260.9,79.2 259.1,81 257.3,79.2" fill="#7a0a88" stroke="#111" stroke-width="0.6"/>
<polygon points="285.42,59.5 287.22,61.3 285.42,63.1 283.62,61.3" fill="#7a0a88" stroke="#111" stroke-width="0.6"/>
<polygon points="311.74,39.7 313.54,41.5 311.74,43.3 309.94,41.5" fill="#7a0a88" stroke="#111" stroke-width="0.6"/>
<polygon points="338.06,37.1 339.86,38.9 338.06,40.7 336.26,38.9" fill="#7a0a88" stroke="#111" stroke-width="0.6"/>
<rect x="257.15" y="89.55" width="3.9" height="3.9" fill="#1f86e8" stroke="#111" stroke-width="0.7"/>
<rect x="283.47" y="92.35" width="3.9" height="3.9" fill="#1f86e8" stroke="#111" stroke-width="0.7"/>
<rect x="309.79" y="85.45" width="3.9" height="3.9" fill="#1f86e8" stroke="#111" stroke-width="0.7"/>
<rect x="336.11" y="83.85" width="3.9" height="3.9" fill="#1f86e8" stroke="#111" stroke-width="0.7"/>
<polygon points="259.1,57.04 257.1,60.64 261.1,60.64" fill="#e8780e" stroke="#111" stroke-width="0.7"/>
<polygon points="285.42,39.34 283.42,42.94 287.42,42.94" fill="#e8780e" stroke="#111" stroke-width="0.7"/>
<polygon points="311.74,30.64 309.74,34.24 313.74,34.24" fill="#e8780e" stroke="#111" stroke-width="0.7"/>
<polygon points="338.06,26.04 336.06,29.64 340.06,29.64" fill="#e8780e" stroke="#111" stroke-width="0.7"/>
<circle cx="259.1" cy="76.6" r="2" fill="#fff" stroke="#111" stroke-width="0.8"/>
<circle cx="285.42" cy="75.3" r="2" fill="#fff" stroke="#111" stroke-width="0.8"/>
<circle cx="311.74" cy="71.2" r="2" fill="#fff" stroke="#111" stroke-width="0.8"/>
<circle cx="338.06" cy="78" r="2" fill="#fff" stroke="#111" stroke-width="0.8"/>
<circle cx="217.74" cy="77.9" r="2.3" fill="#fff" stroke="#111" stroke-width="0.8"/>
<polygon points="256.1,49 256.45,49.71 257.24,49.83 256.67,50.39 256.81,51.17 256.1,50.8 255.39,51.17 255.53,50.39 254.96,49.83 255.75,49.71" fill="#ff9a30"/>
<path d="M259.6 48.35L258.5 54.05M261.4 48.35L260.3 54.05M257.8 50.25H262M257.8 52.15H262" fill="none" stroke="#ff9a30" stroke-width="0.7"/>
<polygon points="282.8,30.4 283.15,31.11 283.94,31.23 283.37,31.79 283.51,32.57 282.8,32.2 282.09,32.57 282.23,31.79 281.66,31.23 282.45,31.11" fill="#ff9a30"/>
<path d="M286.3 29.65L285.2 35.35M288.1 29.65L287 35.35M284.5 31.55H288.7M284.5 33.45H288.7" fill="none" stroke="#ff9a30" stroke-width="0.7"/>
<polygon points="309.1,20.8 309.45,21.51 310.24,21.63 309.67,22.19 309.81,22.97 309.1,22.6 308.39,22.97 308.53,22.19 307.96,21.63 308.75,21.51" fill="#ff9a30"/>
<path d="M312.7 20.45L311.6 26.15M314.5 20.45L313.4 26.15M310.9 22.35H315.1M310.9 24.25H315.1" fill="none" stroke="#ff9a30" stroke-width="0.7"/>
<polygon points="336.8,17 337.15,17.71 337.94,17.83 337.37,18.39 337.51,19.17 336.8,18.8 336.09,19.17 336.23,18.39 335.66,17.83 336.45,17.71" fill="#ff9a30"/>
<path d="M340.4 16.45L339.3 22.15M342.2 16.45L341.1 22.15M338.6 18.35H342.8M338.6 20.25H342.8" fill="none" stroke="#ff9a30" stroke-width="0.7"/>
<path d="M290.8 61.65L289.7 67.35M292.6 61.65L291.5 67.35M289 63.55H293.2M289 65.45H293.2" fill="none" stroke="#a030c0" stroke-width="0.7"/>
<polygon points="310.7,50.8 311.05,51.51 311.84,51.63 311.27,52.19 311.41,52.97 310.7,52.6 309.99,52.97 310.13,52.19 309.56,51.63 310.35,51.51" fill="#a030c0"/>
<path d="M313.9 50.05L312.8 55.75M315.7 50.05L314.6 55.75M312.1 51.95H316.3M312.1 53.85H316.3" fill="none" stroke="#a030c0" stroke-width="0.7"/>
<polygon points="336.8,46.9 337.15,47.61 337.94,47.73 337.37,48.29 337.51,49.07 336.8,48.7 336.09,49.07 336.23,48.29 335.66,47.73 336.45,47.61" fill="#a030c0"/>
<path d="M340.4 46.15L339.3 51.85M342.2 46.15L341.1 51.85M338.6 48.05H342.8M338.6 49.95H342.8" fill="none" stroke="#a030c0" stroke-width="0.7"/>
<polygon points="259.9,96.9 260.34,97.79 261.33,97.94 260.61,98.63 260.78,99.61 259.9,99.15 259.02,99.61 259.19,98.63 258.47,97.94 259.46,97.79" fill="#3a8cff"/>
<polygon points="286.2,100.3 286.64,101.19 287.63,101.34 286.91,102.03 287.08,103.01 286.2,102.55 285.32,103.01 285.49,102.03 284.77,101.34 285.76,101.19" fill="#3a8cff"/>
<text x="370.6" y="10.6" font-size="14" font-weight="bold">c</text>
<line x1="395.2" y1="18.2" x2="395.2" y2="122.6" stroke="#111" stroke-width="1.1"/>
<line x1="394.7" y1="119.4" x2="529.8" y2="119.4" stroke="#111" stroke-width="1.1"/>
<line x1="392" y1="18.2" x2="395.2" y2="18.2" stroke="#111" stroke-width="1.1"/>
<text x="391.2" y="21" font-size="7.8" text-anchor="end">0</text>
<line x1="392" y1="43.5" x2="395.2" y2="43.5" stroke="#111" stroke-width="1.1"/>
<text x="391.2" y="46.3" font-size="7.8" text-anchor="end">-20</text>
<line x1="392" y1="68.8" x2="395.2" y2="68.8" stroke="#111" stroke-width="1.1"/>
<text x="391.2" y="71.6" font-size="7.8" text-anchor="end">-40</text>
<line x1="392" y1="94.1" x2="395.2" y2="94.1" stroke="#111" stroke-width="1.1"/>
<text x="391.2" y="96.9" font-size="7.8" text-anchor="end">-60</text>
<line x1="392" y1="119.4" x2="395.2" y2="119.4" stroke="#111" stroke-width="1.1"/>
<text x="391.2" y="122.2" font-size="7.8" text-anchor="end">-80</text>
<line x1="395.53" y1="119.4" x2="395.53" y2="122.6" stroke="#111" stroke-width="1.1"/>
<text x="395.53" y="130.9" font-size="7.8" text-anchor="middle">-7</text>
<line x1="422.2" y1="119.4" x2="422.2" y2="122.6" stroke="#111" stroke-width="1.1"/>
<text x="422.2" y="130.9" font-size="7.8" text-anchor="middle">0</text>
<line x1="448.87" y1="119.4" x2="448.87" y2="122.6" stroke="#111" stroke-width="1.1"/>
<text x="448.87" y="130.9" font-size="7.8" text-anchor="middle">7</text>
<line x1="475.54" y1="119.4" x2="475.54" y2="122.6" stroke="#111" stroke-width="1.1"/>
<text x="475.54" y="130.9" font-size="7.8" text-anchor="middle">14</text>
<line x1="502.21" y1="119.4" x2="502.21" y2="122.6" stroke="#111" stroke-width="1.1"/>
<text x="502.21" y="130.9" font-size="7.8" text-anchor="middle">21</text>
<line x1="528.88" y1="119.4" x2="528.88" y2="122.6" stroke="#111" stroke-width="1.1"/>
<text x="528.88" y="130.9" font-size="7.8" text-anchor="middle">28</text>
<text x="461.5" y="139.6" font-size="7" text-anchor="middle">Day</text>
<text x="366.3" y="66.2" font-size="7.2" text-anchor="middle" transform="rotate(-90 366.3 66.2)">Fat Mass</text>
<text x="374.2" y="66.2" font-size="7.2" text-anchor="middle" transform="rotate(-90 374.2 66.2)">(% change from baseline)</text>
<line x1="422.2" y1="18.2" x2="422.2" y2="119.4" stroke="#333" stroke-width="0.75" stroke-dasharray="0.9 0.9"/>
<text x="405.2" y="45.4" font-size="5.5" fill="#333">Pump</text>
<line x1="441.25" y1="45.1" x2="441.25" y2="61.7" stroke="#555" stroke-width="0.8"/>
<line x1="439.45" y1="45.1" x2="443.05" y2="45.1" stroke="#555" stroke-width="0.8"/>
<line x1="439.45" y1="61.7" x2="443.05" y2="61.7" stroke="#555" stroke-width="0.8"/>
<line x1="441.25" y1="41.4" x2="441.25" y2="55.4" stroke="#777" stroke-width="0.8"/>
<line x1="439.45" y1="41.4" x2="443.05" y2="41.4" stroke="#777" stroke-width="0.8"/>
<line x1="439.45" y1="55.4" x2="443.05" y2="55.4" stroke="#777" stroke-width="0.8"/>
<line x1="441.25" y1="39" x2="441.25" y2="47" stroke="#777" stroke-width="0.8"/>
<line x1="439.45" y1="39" x2="443.05" y2="39" stroke="#777" stroke-width="0.8"/>
<line x1="439.45" y1="47" x2="443.05" y2="47" stroke="#777" stroke-width="0.8"/>
<line x1="441.25" y1="29.8" x2="441.25" y2="40.8" stroke="#777" stroke-width="0.8"/>
<line x1="439.45" y1="29.8" x2="443.05" y2="29.8" stroke="#777" stroke-width="0.8"/>
<line x1="439.45" y1="40.8" x2="443.05" y2="40.8" stroke="#777" stroke-width="0.8"/>
<line x1="467.92" y1="70.5" x2="467.92" y2="87.1" stroke="#555" stroke-width="0.8"/>
<line x1="466.12" y1="70.5" x2="469.72" y2="70.5" stroke="#555" stroke-width="0.8"/>
<line x1="466.12" y1="87.1" x2="469.72" y2="87.1" stroke="#555" stroke-width="0.8"/>
<line x1="467.92" y1="53.8" x2="467.92" y2="67.8" stroke="#777" stroke-width="0.8"/>
<line x1="466.12" y1="53.8" x2="469.72" y2="53.8" stroke="#777" stroke-width="0.8"/>
<line x1="466.12" y1="67.8" x2="469.72" y2="67.8" stroke="#777" stroke-width="0.8"/>
<line x1="467.92" y1="50.2" x2="467.92" y2="58.2" stroke="#777" stroke-width="0.8"/>
<line x1="466.12" y1="50.2" x2="469.72" y2="50.2" stroke="#777" stroke-width="0.8"/>
<line x1="466.12" y1="58.2" x2="469.72" y2="58.2" stroke="#777" stroke-width="0.8"/>
<line x1="467.92" y1="29.4" x2="467.92" y2="40.4" stroke="#777" stroke-width="0.8"/>
<line x1="466.12" y1="29.4" x2="469.72" y2="29.4" stroke="#777" stroke-width="0.8"/>
<line x1="466.12" y1="40.4" x2="469.72" y2="40.4" stroke="#777" stroke-width="0.8"/>
<line x1="494.59" y1="78.2" x2="494.59" y2="94.8" stroke="#555" stroke-width="0.8"/>
<line x1="492.79" y1="78.2" x2="496.39" y2="78.2" stroke="#555" stroke-width="0.8"/>
<line x1="492.79" y1="94.8" x2="496.39" y2="94.8" stroke="#555" stroke-width="0.8"/>
<line x1="494.59" y1="54.9" x2="494.59" y2="68.9" stroke="#777" stroke-width="0.8"/>
<line x1="492.79" y1="54.9" x2="496.39" y2="54.9" stroke="#777" stroke-width="0.8"/>
<line x1="492.79" y1="68.9" x2="496.39" y2="68.9" stroke="#777" stroke-width="0.8"/>
<line x1="494.59" y1="50.5" x2="494.59" y2="58.5" stroke="#777" stroke-width="0.8"/>
<line x1="492.79" y1="50.5" x2="496.39" y2="50.5" stroke="#777" stroke-width="0.8"/>
<line x1="492.79" y1="58.5" x2="496.39" y2="58.5" stroke="#777" stroke-width="0.8"/>
<line x1="494.59" y1="24.5" x2="494.59" y2="35.5" stroke="#777" stroke-width="0.8"/>
<line x1="492.79" y1="24.5" x2="496.39" y2="24.5" stroke="#777" stroke-width="0.8"/>
<line x1="492.79" y1="35.5" x2="496.39" y2="35.5" stroke="#777" stroke-width="0.8"/>
<line x1="521.26" y1="78.9" x2="521.26" y2="95.5" stroke="#555" stroke-width="0.8"/>
<line x1="519.46" y1="78.9" x2="523.06" y2="78.9" stroke="#555" stroke-width="0.8"/>
<line x1="519.46" y1="95.5" x2="523.06" y2="95.5" stroke="#555" stroke-width="0.8"/>
<line x1="521.26" y1="49" x2="521.26" y2="63" stroke="#777" stroke-width="0.8"/>
<line x1="519.46" y1="49" x2="523.06" y2="49" stroke="#777" stroke-width="0.8"/>
<line x1="519.46" y1="63" x2="523.06" y2="63" stroke="#777" stroke-width="0.8"/>
<line x1="521.26" y1="44.1" x2="521.26" y2="52.1" stroke="#777" stroke-width="0.8"/>
<line x1="519.46" y1="44.1" x2="523.06" y2="44.1" stroke="#777" stroke-width="0.8"/>
<line x1="519.46" y1="52.1" x2="523.06" y2="52.1" stroke="#777" stroke-width="0.8"/>
<line x1="521.26" y1="21.9" x2="521.26" y2="32.9" stroke="#777" stroke-width="0.8"/>
<line x1="519.46" y1="21.9" x2="523.06" y2="21.9" stroke="#777" stroke-width="0.8"/>
<line x1="519.46" y1="32.9" x2="523.06" y2="32.9" stroke="#777" stroke-width="0.8"/>
<polyline points="399.34,18.2 441.25,48.4 467.92,60.8 494.59,61.9 521.26,56" fill="none" stroke="#111" stroke-width="0.9" stroke-linejoin="round"/>
<polyline points="399.34,18.2 441.25,43 467.92,54.2 494.59,54.5 521.26,48.1" fill="none" stroke="#111" stroke-width="0.9" stroke-linejoin="round"/>
<polyline points="399.34,18.2 441.25,35.3 467.92,34.9 494.59,30 521.26,27.4" fill="none" stroke="#111" stroke-width="0.9" stroke-linejoin="round"/>
<polyline points="399.34,18.2 441.25,53.4 467.92,78.8 494.59,86.5 521.26,87.2" fill="none" stroke="#9a2fa8" stroke-width="0.9" stroke-linejoin="round"/>
<polygon points="441.25,51.6 443.05,53.4 441.25,55.2 439.45,53.4" fill="#7a0a88" stroke="#111" stroke-width="0.6"/>
<polygon points="467.92,77 469.72,78.8 467.92,80.6 466.12,78.8" fill="#7a0a88" stroke="#111" stroke-width="0.6"/>
<polygon points="494.59,84.7 496.39,86.5 494.59,88.3 492.79,86.5" fill="#7a0a88" stroke="#111" stroke-width="0.6"/>
<polygon points="521.26,85.4 523.06,87.2 521.26,89 519.46,87.2" fill="#7a0a88" stroke="#111" stroke-width="0.6"/>
<rect x="439.3" y="46.45" width="3.9" height="3.9" fill="#1f86e8" stroke="#111" stroke-width="0.7"/>
<rect x="465.97" y="58.85" width="3.9" height="3.9" fill="#1f86e8" stroke="#111" stroke-width="0.7"/>
<rect x="492.64" y="59.95" width="3.9" height="3.9" fill="#1f86e8" stroke="#111" stroke-width="0.7"/>
<rect x="519.31" y="54.05" width="3.9" height="3.9" fill="#1f86e8" stroke="#111" stroke-width="0.7"/>
<polygon points="441.25,40.84 439.25,44.44 443.25,44.44" fill="#e8780e" stroke="#111" stroke-width="0.7"/>
<polygon points="467.92,52.04 465.92,55.64 469.92,55.64" fill="#e8780e" stroke="#111" stroke-width="0.7"/>
<polygon points="494.59,52.34 492.59,55.94 496.59,55.94" fill="#e8780e" stroke="#111" stroke-width="0.7"/>
<polygon points="521.26,45.94 519.26,49.54 523.26,49.54" fill="#e8780e" stroke="#111" stroke-width="0.7"/>
<circle cx="441.25" cy="35.3" r="2" fill="#fff" stroke="#111" stroke-width="0.8"/>
<circle cx="467.92" cy="34.9" r="2" fill="#fff" stroke="#111" stroke-width="0.8"/>
<circle cx="494.59" cy="30" r="2" fill="#fff" stroke="#111" stroke-width="0.8"/>
<circle cx="521.26" cy="27.4" r="2" fill="#fff" stroke="#111" stroke-width="0.8"/>
<rect x="397.64" y="16.5" width="3.4" height="3.4" fill="#fff" stroke="#111" stroke-width="0.8"/>
<polygon points="468.3,44.6 468.74,45.49 469.73,45.64 469.01,46.33 469.18,47.31 468.3,46.85 467.42,47.31 467.59,46.33 466.87,45.64 467.86,45.49" fill="#ff9a30"/>
<polygon points="495.2,44.6 495.64,45.49 496.63,45.64 495.91,46.33 496.08,47.31 495.2,46.85 494.32,47.31 494.49,46.33 493.77,45.64 494.76,45.49" fill="#ff9a30"/>
<polygon points="445,50.7 445.44,51.59 446.43,51.74 445.71,52.43 445.88,53.41 445,52.95 444.12,53.41 444.29,52.43 443.57,51.74 444.56,51.59" fill="#3a8cff"/>
<polygon points="468.3,65.7 468.74,66.59 469.73,66.74 469.01,67.43 469.18,68.41 468.3,67.95 467.42,68.41 467.59,67.43 466.87,66.74 467.86,66.59" fill="#3a8cff"/>
<polygon points="495.2,71.4 495.64,72.29 496.63,72.44 495.91,73.13 496.08,74.11 495.2,73.65 494.32,74.11 494.49,73.13 493.77,72.44 494.76,72.29" fill="#3a8cff"/>
<polygon points="441.5,60.4 441.94,61.29 442.93,61.44 442.21,62.13 442.38,63.11 441.5,62.65 440.62,63.11 440.79,62.13 440.07,61.44 441.06,61.29" fill="#a030c0"/>
<polygon points="468.3,88.8 468.74,89.69 469.73,89.84 469.01,90.53 469.18,91.51 468.3,91.05 467.42,91.51 467.59,90.53 466.87,89.84 467.86,89.69" fill="#a030c0"/>
<polygon points="492.9,98.4 493.34,99.29 494.33,99.44 493.61,100.13 493.78,101.11 492.9,100.65 492.02,101.11 492.19,100.13 491.47,99.44 492.46,99.29" fill="#a030c0"/>
<path d="M496.25 101.9L497.5 98.7L498.75 101.9" fill="none" stroke="#a030c0" stroke-width="0.8"/>
<polygon points="520.9,98.7 521.34,99.59 522.33,99.74 521.61,100.43 521.78,101.41 520.9,100.95 520.02,101.41 520.19,100.43 519.47,99.74 520.46,99.59" fill="#a030c0"/>
<path d="M523.25 102L524.5 98.8L525.75 102" fill="none" stroke="#a030c0" stroke-width="0.8"/>
<line x1="540.1" y1="40.5" x2="552.5" y2="40.5" stroke="#111" stroke-width="1.1"/>
<circle cx="546.2" cy="40.5" r="2.5" fill="#fff" stroke="#111" stroke-width="1"/>
<text x="560.6" y="43.9" font-size="10.5">Vehicle</text>
<line x1="539.6" y1="58.8" x2="552.6" y2="58.8" stroke="#111" stroke-width="1.1"/>
<rect x="542.7" y="56.1" width="5.6" height="5.6" fill="#1a8cff" stroke="#111" stroke-width="1"/>
<text x="560.6" y="62.8" font-size="10.5">Sema</text>
<line x1="539.7" y1="78.2" x2="552.3" y2="78.2" stroke="#111" stroke-width="1.1"/>
<polygon points="546,75.16 543,80.56 549,80.56" fill="#f08020" stroke="#111" stroke-width="1"/>
<text x="560.2" y="80.5" font-size="10.5"><tspan font-family="Liberation Serif" font-size="12">&#945;</tspan>-MSTN + <tspan font-family="Liberation Serif" font-size="12">&#945;</tspan>-ActA</text>
<line x1="540" y1="96.2" x2="553" y2="96.2" stroke="#a020b0" stroke-width="1.1"/>
<polygon points="546.7,93.1 549.8,96.2 546.7,99.3 543.6,96.2" fill="#7a0a8a" stroke="#111" stroke-width="1"/>
<text x="560.6" y="99.3" font-size="10.5">Sema + <tspan font-family="Liberation Serif" font-size="12">&#945;</tspan>-MSTN + <tspan font-family="Liberation Serif" font-size="12">&#945;</tspan>-ActA</text>
<text x="9.5" y="158.7" font-size="14" font-weight="bold">d</text>
<line x1="43.3" y1="163.4" x2="43.3" y2="266.5" stroke="#111" stroke-width="1.1"/>
<line x1="39.5" y1="266.5" x2="111.3" y2="266.5" stroke="#111" stroke-width="1.1"/>
<line x1="39.5" y1="266.5" x2="43.3" y2="266.5" stroke="#111" stroke-width="1.1"/>
<text x="37.8" y="269.4" font-size="8" text-anchor="end">0</text>
<line x1="39.5" y1="245.88" x2="43.3" y2="245.88" stroke="#111" stroke-width="1.1"/>
<text x="37.8" y="248.78" font-size="8" text-anchor="end">10</text>
<line x1="39.5" y1="225.26" x2="43.3" y2="225.26" stroke="#111" stroke-width="1.1"/>
<text x="37.8" y="228.16" font-size="8" text-anchor="end">20</text>
<line x1="39.5" y1="204.64" x2="43.3" y2="204.64" stroke="#111" stroke-width="1.1"/>
<text x="37.8" y="207.54" font-size="8" text-anchor="end">30</text>
<line x1="39.5" y1="184.02" x2="43.3" y2="184.02" stroke="#111" stroke-width="1.1"/>
<text x="37.8" y="186.92" font-size="8" text-anchor="end">40</text>
<line x1="39.5" y1="163.4" x2="43.3" y2="163.4" stroke="#111" stroke-width="1.1"/>
<text x="37.8" y="166.3" font-size="8" text-anchor="end">50</text>
<text x="11.4" y="215.8" font-size="8.6" text-anchor="middle" transform="rotate(-90 11.4 215.8)">Liver fat area</text>
<text x="21.8" y="215.8" font-size="8.6" text-anchor="middle" transform="rotate(-90 21.8 215.8)">(% of whole tissue)</text>
<rect x="49.8" y="204.6" width="8.6" height="61.9" fill="#ffffff" stroke="#111" stroke-width="1.3"/>
<rect x="65.4" y="209.6" width="8.6" height="56.9" fill="#5ec4f9" stroke="#111" stroke-width="1.3"/>
<rect x="81.1" y="204.2" width="8.6" height="62.3" fill="#ffc966" stroke="#111" stroke-width="1.3"/>
<rect x="96.8" y="224.9" width="8.6" height="41.6" fill="#c65ef5" stroke="#111" stroke-width="1.3"/>
<line x1="54.1" y1="199.6" x2="54.1" y2="204.6" stroke="#111" stroke-width="0.9"/>
<line x1="52.1" y1="199.6" x2="56.1" y2="199.6" stroke="#111" stroke-width="0.9"/>
<line x1="69.7" y1="205.6" x2="69.7" y2="209.6" stroke="#111" stroke-width="0.9"/>
<line x1="67.7" y1="205.6" x2="71.7" y2="205.6" stroke="#111" stroke-width="0.9"/>
<line x1="85.4" y1="199.7" x2="85.4" y2="204.2" stroke="#111" stroke-width="0.9"/>
<line x1="83.4" y1="199.7" x2="87.4" y2="199.7" stroke="#111" stroke-width="0.9"/>
<line x1="101.1" y1="220.9" x2="101.1" y2="224.9" stroke="#111" stroke-width="0.9"/>
<line x1="99.1" y1="220.9" x2="103.1" y2="220.9" stroke="#111" stroke-width="0.9"/>
<circle cx="53.7" cy="178.5" r="2.3" fill="#fff" stroke="#111" stroke-width="1"/>
<circle cx="51" cy="201.6" r="2.3" fill="#fff" stroke="#111" stroke-width="1"/>
<circle cx="53.7" cy="197.9" r="2.3" fill="#fff" stroke="#111" stroke-width="1"/>
<circle cx="56.2" cy="202.3" r="2.3" fill="#fff" stroke="#111" stroke-width="1"/>
<circle cx="53.7" cy="206.7" r="2.3" fill="#fff" stroke="#111" stroke-width="1"/>
<circle cx="56.9" cy="196.5" r="2.3" fill="#fff" stroke="#111" stroke-width="1"/>
<circle cx="53.7" cy="227.4" r="2.3" fill="#fff" stroke="#111" stroke-width="1"/>
<rect x="67.1" y="193.5" width="4.4" height="4.4" fill="#1f86e8" stroke="#111" stroke-width="0.8"/>
<rect x="66.1" y="202.3" width="4.4" height="4.4" fill="#1f86e8" stroke="#111" stroke-width="0.8"/>
<rect x="68.1" y="201.4" width="4.4" height="4.4" fill="#1f86e8" stroke="#111" stroke-width="0.8"/>
<rect x="65.6" y="208.1" width="4.4" height="4.4" fill="#1f86e8" stroke="#111" stroke-width="0.8"/>
<rect x="70.5" y="208.6" width="4.4" height="4.4" fill="#1f86e8" stroke="#111" stroke-width="0.8"/>
<rect x="66.4" y="213.2" width="4.4" height="4.4" fill="#1f86e8" stroke="#111" stroke-width="0.8"/>
<polygon points="85.4,185.23 82.65,190.18 88.15,190.18" fill="#e8780e" stroke="#111" stroke-width="0.8"/>
<polygon points="85.4,193.83 82.65,198.78 88.15,198.78" fill="#e8780e" stroke="#111" stroke-width="0.8"/>
<polygon points="84.3,201.53 81.55,206.48 87.05,206.48" fill="#e8780e" stroke="#111" stroke-width="0.8"/>
<polygon points="82,205.13 79.25,210.08 84.75,210.08" fill="#e8780e" stroke="#111" stroke-width="0.8"/>
<polygon points="87.8,204.83 85.05,209.78 90.55,209.78" fill="#e8780e" stroke="#111" stroke-width="0.8"/>
<polygon points="82.4,209.23 79.65,214.18 85.15,214.18" fill="#e8780e" stroke="#111" stroke-width="0.8"/>
<polygon points="103.1,206.3 105.8,209 103.1,211.7 100.4,209" fill="#7a0a88" stroke="#111" stroke-width="0.9"/>
<polygon points="97.9,209.6 100.6,212.3 97.9,215 95.2,212.3" fill="#7a0a88" stroke="#111" stroke-width="0.9"/>
<polygon points="104,212.4 106.7,215.1 104,217.8 101.3,215.1" fill="#7a0a88" stroke="#111" stroke-width="0.9"/>
<polygon points="98.2,221.1 100.9,223.8 98.2,226.5 95.5,223.8" fill="#7a0a88" stroke="#111" stroke-width="0.9"/>
<polygon points="104,223.6 106.7,226.3 104,229 101.3,226.3" fill="#7a0a88" stroke="#111" stroke-width="0.9"/>
<polygon points="100.7,225.2 103.4,227.9 100.7,230.6 98,227.9" fill="#7a0a88" stroke="#111" stroke-width="0.9"/>
<polygon points="99.9,234.7 102.6,237.4 99.9,240.1 97.2,237.4" fill="#7a0a88" stroke="#111" stroke-width="0.9"/>
<polygon points="102.8,234.2 105.5,236.9 102.8,239.6 100.1,236.9" fill="#7a0a88" stroke="#111" stroke-width="0.9"/>
<path d="M100 189.2L101.7 186L103.4 189.2" fill="none" stroke="#222" stroke-width="0.9"/>
<path d="M101.5 191.85L100.3 198.15M103.3 191.85L102.1 198.15M99.3 194.05H104.2M99.3 195.95H104.2" fill="none" stroke="#222" stroke-width="0.9"/>
<text x="101.7" y="209.2" font-size="10" text-anchor="middle" fill="#222">*</text>
<text x="117.2" y="159" font-size="14" font-weight="bold">e</text>
<line x1="156.5" y1="163" x2="156.5" y2="266.3" stroke="#111" stroke-width="1.1"/>
<line x1="152.8" y1="266.3" x2="225.6" y2="266.3" stroke="#111" stroke-width="1.1"/>
<line x1="152.8" y1="266.3" x2="156.5" y2="266.3" stroke="#111" stroke-width="1.1"/>
<text x="150.6" y="269.2" font-size="8" text-anchor="end">0</text>
<line x1="152.8" y1="240.5" x2="156.5" y2="240.5" stroke="#111" stroke-width="1.1"/>
<text x="150.6" y="243.4" font-size="8" text-anchor="end">100</text>
<line x1="152.8" y1="214.7" x2="156.5" y2="214.7" stroke="#111" stroke-width="1.1"/>
<text x="150.6" y="217.6" font-size="8" text-anchor="end">200</text>
<line x1="152.8" y1="188.9" x2="156.5" y2="188.9" stroke="#111" stroke-width="1.1"/>
<text x="150.6" y="191.8" font-size="8" text-anchor="end">300</text>
<line x1="152.8" y1="163.1" x2="156.5" y2="163.1" stroke="#111" stroke-width="1.1"/>
<text x="150.6" y="166" font-size="8" text-anchor="end">400</text>
<text x="131" y="215.5" font-size="8.5" text-anchor="middle" transform="rotate(-90 131 215.5)">Liver Triglycerides (mg/g)</text>
<rect x="162.4" y="199.5" width="9.2" height="66.8" fill="#ffffff" stroke="#111" stroke-width="1.3"/>
<rect x="178.5" y="223.2" width="9.2" height="43.1" fill="#5ec4f9" stroke="#111" stroke-width="1.3"/>
<rect x="194.2" y="228.8" width="9.2" height="37.5" fill="#ffc966" stroke="#111" stroke-width="1.3"/>
<rect x="210.3" y="237.5" width="9.2" height="28.8" fill="#c65ef5" stroke="#111" stroke-width="1.3"/>
<line x1="167" y1="193.5" x2="167" y2="199.5" stroke="#111" stroke-width="0.9"/>
<line x1="164.7" y1="193.5" x2="169.3" y2="193.5" stroke="#111" stroke-width="0.9"/>
<line x1="183.1" y1="221.4" x2="183.1" y2="223.2" stroke="#111" stroke-width="0.9"/>
<line x1="180.8" y1="221.4" x2="185.4" y2="221.4" stroke="#111" stroke-width="0.9"/>
<line x1="198.8" y1="224.8" x2="198.8" y2="228.8" stroke="#111" stroke-width="0.9"/>
<line x1="196.5" y1="224.8" x2="201.1" y2="224.8" stroke="#111" stroke-width="0.9"/>
<line x1="214.9" y1="233" x2="214.9" y2="237.5" stroke="#111" stroke-width="0.9"/>
<line x1="212.6" y1="233" x2="217.2" y2="233" stroke="#111" stroke-width="0.9"/>
<circle cx="167.4" cy="181.2" r="2.3" fill="#fff" stroke="#111" stroke-width="1"/>
<circle cx="164" cy="186" r="2.3" fill="#fff" stroke="#111" stroke-width="1"/>
<circle cx="169.6" cy="186.7" r="2.3" fill="#fff" stroke="#111" stroke-width="1"/>
<circle cx="170" cy="198" r="2.3" fill="#fff" stroke="#111" stroke-width="1"/>
<circle cx="167" cy="203.4" r="2.3" fill="#fff" stroke="#111" stroke-width="1"/>
<circle cx="167" cy="213.1" r="2.3" fill="#fff" stroke="#111" stroke-width="1"/>
<circle cx="167" cy="221.8" r="2.3" fill="#fff" stroke="#111" stroke-width="1"/>
<rect x="180.8" y="198" width="4.4" height="4.4" fill="#1f86e8" stroke="#111" stroke-width="0.8"/>
<rect x="180.8" y="210.4" width="4.4" height="4.4" fill="#1f86e8" stroke="#111" stroke-width="0.8"/>
<rect x="177.3" y="221.9" width="4.4" height="4.4" fill="#1f86e8" stroke="#111" stroke-width="0.8"/>
<rect x="180.8" y="226.3" width="4.4" height="4.4" fill="#1f86e8" stroke="#111" stroke-width="0.8"/>
<rect x="184.2" y="223.6" width="4.4" height="4.4" fill="#1f86e8" stroke="#111" stroke-width="0.8"/>
<rect x="177.3" y="239.4" width="4.4" height="4.4" fill="#1f86e8" stroke="#111" stroke-width="0.8"/>
<rect x="180.8" y="237.5" width="4.4" height="4.4" fill="#1f86e8" stroke="#111" stroke-width="0.8"/>
<rect x="183.9" y="237.5" width="4.4" height="4.4" fill="#1f86e8" stroke="#111" stroke-width="0.8"/>
<polygon points="198.8,207.93 196.05,212.88 201.55,212.88" fill="#e8780e" stroke="#111" stroke-width="0.8"/>
<polygon points="197.3,217.73 194.55,222.68 200.05,222.68" fill="#e8780e" stroke="#111" stroke-width="0.8"/>
<polygon points="200.3,217.73 197.55,222.68 203.05,222.68" fill="#e8780e" stroke="#111" stroke-width="0.8"/>
<polygon points="197.6,221.43 194.85,226.38 200.35,226.38" fill="#e8780e" stroke="#111" stroke-width="0.8"/>
<polygon points="201.7,222.53 198.95,227.48 204.45,227.48" fill="#e8780e" stroke="#111" stroke-width="0.8"/>
<polygon points="199,225.03 196.25,229.98 201.75,229.98" fill="#e8780e" stroke="#111" stroke-width="0.8"/>
<polygon points="214.6,207.7 217.3,210.4 214.6,213.1 211.9,210.4" fill="#7a0a88" stroke="#111" stroke-width="0.9"/>
<polygon points="214.9,223.1 217.6,225.8 214.9,228.5 212.2,225.8" fill="#7a0a88" stroke="#111" stroke-width="0.9"/>
<polygon points="217.5,232.6 220.2,235.3 217.5,238 214.8,235.3" fill="#7a0a88" stroke="#111" stroke-width="0.9"/>
<polygon points="212.2,237.7 214.9,240.4 212.2,243.1 209.5,240.4" fill="#7a0a88" stroke="#111" stroke-width="0.9"/>
<polygon points="217.5,238.9 220.2,241.6 217.5,244.3 214.8,241.6" fill="#7a0a88" stroke="#111" stroke-width="0.9"/>
<polygon points="214.6,240.7 217.3,243.4 214.6,246.1 211.9,243.4" fill="#7a0a88" stroke="#111" stroke-width="0.9"/>
<polygon points="217.5,244.7 220.2,247.4 217.5,250.1 214.8,247.4" fill="#7a0a88" stroke="#111" stroke-width="0.9"/>
<polygon points="212.2,248.7 214.9,251.4 212.2,254.1 209.5,251.4" fill="#7a0a88" stroke="#111" stroke-width="0.9"/>
<text x="183.1" y="197.7" font-size="10.5" text-anchor="middle" fill="#222">*</text>
<text x="199" y="205.9" font-size="10.5" text-anchor="middle" fill="#222">**</text>
<text x="214.5" y="208.9" font-size="10.5" text-anchor="middle" fill="#222">****</text>
<text x="235.6" y="159" font-size="14" font-weight="bold">f</text>
<text x="300" y="206.6" font-size="10.5" text-anchor="middle">Vehicle</text>
<text x="408.4" y="206.2" font-size="10.5" text-anchor="middle">Sema</text>
<text x="519.4" y="204.3" font-size="10.5" text-anchor="middle"><tspan font-family="Liberation Serif" font-size="12">&#945;</tspan>-MSTN + <tspan font-family="Liberation Serif" font-size="12">&#945;</tspan>-ActA</text>
<text x="624.4" y="191.5" font-size="10.5" text-anchor="middle">Sema +</text>
<text x="624.1" y="205" font-size="10.5" text-anchor="middle"><tspan font-family="Liberation Serif" font-size="12">&#945;</tspan>-MSTN + <tspan font-family="Liberation Serif" font-size="12">&#945;</tspan>-ActA</text>
<g clip-path="url(#c11)"><g filter="url(#soft)">
<rect x="222" y="178.05" width="150" height="120" filter="url(#h11)" transform="rotate(-30 297 238.05)"/>
<ellipse cx="292.05" cy="241.43" rx="1.29" ry="1.26" fill="#8e4eae"/>
<ellipse cx="333.92" cy="220.53" rx="1.34" ry="1.2" fill="#8e4eae"/>
<ellipse cx="327.47" cy="215.12" rx="1.02" ry="0.95" fill="#74359a"/>
<ellipse cx="337.6" cy="245.65" rx="1.41" ry="1.1" fill="#8e4eae"/>
<ellipse cx="313.01" cy="244.58" rx="1.07" ry="0.88" fill="#74359a"/>
<ellipse cx="251.57" cy="211.81" rx="1.01" ry="1.24" fill="#6e3096"/>
<ellipse cx="293.25" cy="234.69" rx="1.12" ry="1.22" fill="#6e3096"/>
<ellipse cx="275.59" cy="210.06" rx="0.85" ry="0.84" fill="#8242a6"/>
<ellipse cx="302.33" cy="262.44" rx="0.81" ry="0.84" fill="#8242a6"/>
<ellipse cx="268.89" cy="226.13" rx="0.84" ry="0.84" fill="#74359a"/>
<ellipse cx="333.04" cy="231.64" rx="1.16" ry="1.28" fill="#74359a"/>
<ellipse cx="341.41" cy="212.76" rx="1" ry="0.99" fill="#8e4eae"/>
<ellipse cx="303.89" cy="221.01" rx="0.96" ry="1.14" fill="#8242a6"/>
<ellipse cx="279.59" cy="264.27" rx="1.02" ry="1.18" fill="#74359a"/>
<ellipse cx="318.53" cy="210.42" rx="0.92" ry="1.03" fill="#8e4eae"/>
<ellipse cx="303.17" cy="235.08" rx="0.9" ry="0.9" fill="#682c90"/>
<ellipse cx="284.91" cy="232.11" rx="1.21" ry="1.3" fill="#74359a"/>
<ellipse cx="345.98" cy="255.19" rx="0.86" ry="0.95" fill="#74359a"/>
<ellipse cx="286" cy="258.07" rx="0.92" ry="1.12" fill="#74359a"/>
<ellipse cx="260.22" cy="234.75" rx="0.78" ry="0.8" fill="#6e3096"/>
<ellipse cx="275.82" cy="213.95" rx="0.95" ry="0.85" fill="#6e3096"/>
<ellipse cx="246.61" cy="230.63" rx="1.42" ry="1.11" fill="#682c90"/>
<ellipse cx="295.31" cy="242.26" rx="1.37" ry="1.23" fill="#682c90"/>
<ellipse cx="277.32" cy="222.7" rx="0.97" ry="1.11" fill="#682c90"/>
<ellipse cx="310.41" cy="241.1" rx="1.42" ry="1.14" fill="#8e4eae"/>
<ellipse cx="307.77" cy="233.61" rx="0.9" ry="0.85" fill="#74359a"/>
<ellipse cx="271.54" cy="251.6" rx="1.21" ry="1" fill="#8e4eae"/>
<ellipse cx="307.03" cy="226.38" rx="0.77" ry="0.89" fill="#74359a"/>
<ellipse cx="294.85" cy="246.72" rx="1.04" ry="1.11" fill="#74359a"/>
<ellipse cx="340.41" cy="221.32" rx="0.81" ry="0.81" fill="#8242a6"/>
<ellipse cx="270.9" cy="212.43" rx="1.02" ry="0.94" fill="#6e3096"/>
<ellipse cx="258.68" cy="230.26" rx="1.41" ry="1.25" fill="#8242a6"/>
<ellipse cx="316.89" cy="242.82" rx="1.1" ry="0.87" fill="#74359a"/>
<ellipse cx="294.38" cy="230" rx="0.77" ry="0.96" fill="#74359a"/>
<ellipse cx="311.16" cy="237.05" rx="1.01" ry="1.17" fill="#8242a6"/>
<ellipse cx="252.53" cy="235.4" rx="1.23" ry="0.98" fill="#74359a"/>
<ellipse cx="321.66" cy="249.56" rx="1.17" ry="1.2" fill="#8242a6"/>
<ellipse cx="316.26" cy="260.7" rx="1.57" ry="1.24" fill="#8e4eae"/>
<ellipse cx="248.15" cy="238.05" rx="0.8" ry="0.81" fill="#8e4eae"/>
<ellipse cx="246.29" cy="213.88" rx="1.1" ry="0.85" fill="#74359a"/>
<ellipse cx="336.5" cy="250.94" rx="1.02" ry="0.99" fill="#6e3096"/>
<ellipse cx="293.11" cy="240.38" rx="0.86" ry="1.06" fill="#6e3096"/>
<ellipse cx="307.53" cy="236.97" rx="0.96" ry="0.92" fill="#74359a"/>
<ellipse cx="308.91" cy="261.81" rx="0.91" ry="0.93" fill="#74359a"/>
<ellipse cx="259.89" cy="244.36" rx="1.2" ry="1.06" fill="#8242a6"/>
<ellipse cx="290.96" cy="260.18" rx="0.87" ry="0.96" fill="#8242a6"/>
<ellipse cx="289.81" cy="255.34" rx="1.25" ry="1.26" fill="#682c90"/>
<ellipse cx="305.64" cy="227.68" rx="0.85" ry="0.87" fill="#8e4eae"/>
<ellipse cx="338.15" cy="212.09" rx="1.01" ry="0.83" fill="#8242a6"/>
<ellipse cx="256.73" cy="236.43" rx="1.25" ry="1.26" fill="#8e4eae"/>
<ellipse cx="299.08" cy="247.78" rx="1.19" ry="1.16" fill="#6e3096"/>
<ellipse cx="252.77" cy="211.58" rx="1.41" ry="1.24" fill="#74359a"/>
<ellipse cx="274.23" cy="229.81" rx="0.91" ry="1.12" fill="#6e3096"/>
<ellipse cx="259.13" cy="235.5" rx="0.75" ry="0.81" fill="#8242a6"/>
<ellipse cx="259.65" cy="212.45" rx="0.95" ry="1.11" fill="#8e4eae"/>
<ellipse cx="300.68" cy="245.96" rx="1.12" ry="0.98" fill="#74359a"/>
<ellipse cx="265.73" cy="236.65" rx="1.05" ry="0.89" fill="#74359a"/>
<ellipse cx="300.62" cy="211.84" rx="0.98" ry="0.91" fill="#8242a6"/>
<ellipse cx="343.47" cy="238.07" rx="1.29" ry="1.3" fill="#682c90"/>
<ellipse cx="327.36" cy="261" rx="0.73" ry="0.84" fill="#8e4eae"/>
<ellipse cx="292.17" cy="245.14" rx="1.35" ry="1.25" fill="#8e4eae"/>
<ellipse cx="312.88" cy="238.2" rx="1.25" ry="1.21" fill="#8242a6"/>
<ellipse cx="312.74" cy="221.38" rx="1.05" ry="1.16" fill="#74359a"/>
<ellipse cx="338.6" cy="265.2" rx="1.66" ry="1.29" fill="#6e3096"/>
<ellipse cx="341.96" cy="224.6" rx="1.13" ry="1.16" fill="#74359a"/>
<ellipse cx="253.61" cy="234.71" rx="1.12" ry="1.08" fill="#8242a6"/>
<ellipse cx="247.95" cy="255.52" rx="0.74" ry="0.83" fill="#74359a"/>
<ellipse cx="279.84" cy="254.32" rx="1.13" ry="0.87" fill="#682c90"/>
<ellipse cx="338.66" cy="239.08" rx="1.45" ry="1.14" fill="#8e4eae"/>
<ellipse cx="296.23" cy="263.43" rx="0.86" ry="0.84" fill="#682c90"/>
<ellipse cx="303.11" cy="256.76" rx="1.15" ry="1.08" fill="#682c90"/>
<ellipse cx="332.74" cy="241.44" rx="1.22" ry="0.96" fill="#8e4eae"/>
<ellipse cx="335.49" cy="244.23" rx="1.22" ry="0.95" fill="#682c90"/>
<ellipse cx="299.52" cy="242.17" rx="0.77" ry="0.9" fill="#6e3096"/>
<ellipse cx="245.51" cy="231.1" rx="1.13" ry="1.07" fill="#74359a"/>
<ellipse cx="286.66" cy="255.06" rx="0.92" ry="1.08" fill="#8e4eae"/>
<ellipse cx="262.34" cy="262.39" rx="0.96" ry="1.03" fill="#8e4eae"/>
<ellipse cx="294.21" cy="216.97" rx="1.08" ry="1.02" fill="#8e4eae"/>
<ellipse cx="256.3" cy="233.5" rx="0.7" ry="0.81" fill="#8242a6"/>
<ellipse cx="326.05" cy="211.09" rx="0.72" ry="0.9" fill="#682c90"/>
<ellipse cx="274.54" cy="250.68" rx="0.79" ry="0.92" fill="#8e4eae"/>
<ellipse cx="321.01" cy="216.74" rx="1.22" ry="1.06" fill="#8242a6"/>
<ellipse cx="317.94" cy="259.45" rx="0.98" ry="0.81" fill="#8e4eae"/>
<ellipse cx="309.04" cy="240.21" rx="1.38" ry="1.23" fill="#6e3096"/>
<ellipse cx="300.08" cy="257.9" rx="1.01" ry="1.11" fill="#682c90"/>
<ellipse cx="322.04" cy="255.59" rx="1.38" ry="1.25" fill="#8242a6"/>
<ellipse cx="337.63" cy="220.8" rx="1.48" ry="1.19" fill="#682c90"/>
<ellipse cx="258.93" cy="223.32" rx="1.16" ry="1.16" fill="#8242a6"/>
<ellipse cx="290.22" cy="262.98" rx="0.96" ry="1.07" fill="#682c90"/>
<ellipse cx="310.31" cy="254.94" rx="0.97" ry="0.85" fill="#6e3096"/>
<ellipse cx="339.78" cy="264.51" rx="0.96" ry="0.86" fill="#6e3096"/>
<ellipse cx="280.72" cy="266.22" rx="1.27" ry="1.22" fill="#74359a"/>
<ellipse cx="247.53" cy="252.85" rx="1.15" ry="1.11" fill="#6e3096"/>
<ellipse cx="264.72" cy="216.29" rx="1.15" ry="0.89" fill="#682c90"/>
<ellipse cx="341.4" cy="215.18" rx="0.7" ry="0.83" fill="#8e4eae"/>
<ellipse cx="255.06" cy="231.88" rx="1.03" ry="1.01" fill="#8242a6"/>
<ellipse cx="307.5" cy="210.55" rx="1.02" ry="1.15" fill="#682c90"/>
<ellipse cx="292.21" cy="251.57" rx="1.11" ry="1" fill="#682c90"/>
<ellipse cx="254.86" cy="254.57" rx="1.16" ry="0.96" fill="#74359a"/>
<ellipse cx="318.29" cy="258.43" rx="1.21" ry="1.11" fill="#8e4eae"/>
<ellipse cx="264.86" cy="242.83" rx="0.91" ry="0.97" fill="#8242a6"/>
<ellipse cx="257.09" cy="251.78" rx="0.76" ry="0.88" fill="#8e4eae"/>
<ellipse cx="279.31" cy="240.25" rx="1.16" ry="0.98" fill="#8e4eae"/>
<ellipse cx="287.2" cy="250.63" rx="0.79" ry="0.84" fill="#8242a6"/>
<ellipse cx="255.49" cy="259.97" rx="1.07" ry="1.3" fill="#6e3096"/>
<ellipse cx="273.39" cy="264.12" rx="1.07" ry="0.95" fill="#682c90"/>
<ellipse cx="304.24" cy="239.92" rx="1.12" ry="0.99" fill="#8e4eae"/>
<ellipse cx="317.93" cy="252.84" rx="1.11" ry="1.29" fill="#74359a"/>
<ellipse cx="256.24" cy="223.19" rx="0.84" ry="1.02" fill="#6e3096"/>
<ellipse cx="265.33" cy="231.03" rx="0.8" ry="0.85" fill="#8242a6"/>
<ellipse cx="280.45" cy="240.34" rx="1.09" ry="1.01" fill="#6e3096"/>
<ellipse cx="348.49" cy="245.85" rx="1.29" ry="1.2" fill="#74359a"/>
<ellipse cx="314.52" cy="263.78" rx="0.99" ry="0.99" fill="#682c90"/>
<ellipse cx="345.89" cy="258.15" rx="0.89" ry="1.07" fill="#6e3096"/>
<ellipse cx="343.31" cy="233.57" rx="1.02" ry="1.06" fill="#6e3096"/>
<ellipse cx="300.16" cy="237.1" rx="1.06" ry="0.93" fill="#8242a6"/>
<ellipse cx="322.77" cy="211.32" rx="0.97" ry="1.19" fill="#6e3096"/>
<ellipse cx="261.29" cy="252.44" rx="1.17" ry="0.99" fill="#8242a6"/>
<ellipse cx="250.22" cy="265.67" rx="1.53" ry="1.27" fill="#74359a"/>
<ellipse cx="268.27" cy="250.43" rx="0.76" ry="0.93" fill="#682c90"/>
<ellipse cx="255.24" cy="255.57" rx="1.62" ry="1.25" fill="#682c90"/>
<ellipse cx="329.94" cy="243.9" rx="0.86" ry="0.86" fill="#6e3096"/>
<ellipse cx="257.27" cy="258.45" rx="0.84" ry="0.98" fill="#682c90"/>
<ellipse cx="291.06" cy="247.54" rx="1.15" ry="1.03" fill="#8242a6"/>
<ellipse cx="315.93" cy="230.37" rx="1.5" ry="1.17" fill="#682c90"/>
<ellipse cx="321.37" cy="223.27" rx="1.02" ry="0.86" fill="#8242a6"/>
<ellipse cx="310" cy="230.09" rx="1.08" ry="0.94" fill="#6e3096"/>
<ellipse cx="264.76" cy="225.54" rx="0.97" ry="0.92" fill="#682c90"/>
<ellipse cx="312.91" cy="220.87" rx="0.92" ry="1.14" fill="#74359a"/>
<ellipse cx="271.99" cy="211.32" rx="0.88" ry="0.82" fill="#682c90"/>
<ellipse cx="252.54" cy="214.68" rx="1.04" ry="1.14" fill="#6e3096"/>
<ellipse cx="347.07" cy="237.15" rx="0.95" ry="0.98" fill="#8242a6"/>
<ellipse cx="322.46" cy="257.18" rx="0.86" ry="0.84" fill="#74359a"/>
<ellipse cx="330.49" cy="257.15" rx="1.2" ry="1.18" fill="#8e4eae"/>
<ellipse cx="271.84" cy="255.56" rx="0.95" ry="0.98" fill="#6e3096"/>
<ellipse cx="302.06" cy="251.95" rx="1.42" ry="1.26" fill="#8e4eae"/>
<ellipse cx="305.38" cy="235.9" rx="0.81" ry="0.96" fill="#6e3096"/>
<ellipse cx="303.68" cy="237.19" rx="1.38" ry="1.14" fill="#8242a6"/>
<ellipse cx="245.97" cy="227.32" rx="1.06" ry="1.26" fill="#6e3096"/>
<ellipse cx="276.6" cy="250.76" rx="1.42" ry="1.15" fill="#8242a6"/>
<ellipse cx="267.75" cy="246.94" rx="0.93" ry="0.96" fill="#74359a"/>
<ellipse cx="290.86" cy="243.4" rx="1.27" ry="1.25" fill="#8242a6"/>
<ellipse cx="328.52" cy="227.02" rx="1.23" ry="0.96" fill="#8e4eae"/>
<ellipse cx="320.9" cy="238.96" rx="0.68" ry="0.84" fill="#8242a6"/>
<ellipse cx="315.41" cy="242.84" rx="1.18" ry="1.2" fill="#6e3096"/>
<ellipse cx="285.59" cy="218.55" rx="0.97" ry="1.1" fill="#682c90"/>
<ellipse cx="323.93" cy="259.57" rx="0.86" ry="0.94" fill="#74359a"/>
<ellipse cx="251" cy="218.77" rx="1.07" ry="0.95" fill="#74359a"/>
<ellipse cx="328.65" cy="213.42" rx="0.9" ry="1.07" fill="#6e3096"/>
<ellipse cx="253.49" cy="251.44" rx="1.02" ry="1.25" fill="#74359a"/>
<ellipse cx="313.28" cy="214.5" rx="2.01" ry="1.7" fill="#fff8fe"/>
<ellipse cx="267.37" cy="253.57" rx="2.7" ry="2.6" fill="#fff8fe"/>
<ellipse cx="292.66" cy="229.3" rx="1.65" ry="1.4" fill="#fff8fe"/>
<ellipse cx="296.33" cy="240.23" rx="0.85" ry="0.75" fill="#fff8fe"/>
<ellipse cx="340.99" cy="232.82" rx="1.41" ry="1.4" fill="#fff8fe"/>
<ellipse cx="329.43" cy="257.58" rx="2.21" ry="2.1" fill="#fbeaf8"/>
<ellipse cx="311.87" cy="239.45" rx="0.64" ry="0.6" fill="#fff8fe"/>
<ellipse cx="288.69" cy="233.4" rx="0.92" ry="0.9" fill="#fff8fe"/>
<ellipse cx="261.2" cy="245.96" rx="1.03" ry="0.9" fill="#fbeaf8"/>
<ellipse cx="250.28" cy="226.84" rx="0.85" ry="0.75" fill="#fbeaf8"/>
<ellipse cx="245.82" cy="236.94" rx="0.66" ry="0.6" fill="#fbeaf8"/>
<ellipse cx="264.95" cy="229.82" rx="1.01" ry="1" fill="#fbeaf8"/>
<ellipse cx="273.79" cy="218.89" rx="1.3" ry="1.2" fill="#fbeaf8"/>
<ellipse cx="343.85" cy="241" rx="1.21" ry="1.2" fill="#fff8fe"/>
<ellipse cx="286.68" cy="264.71" rx="2.81" ry="2.6" fill="#fbeaf8"/>
<ellipse cx="253.8" cy="259.26" rx="1.95" ry="1.7" fill="#fff8fe"/>
<ellipse cx="344.44" cy="255.68" rx="1.83" ry="1.7" fill="#fbeaf8"/>
<ellipse cx="328.24" cy="254.09" rx="0.66" ry="0.6" fill="#fbeaf8"/>
<ellipse cx="291.7" cy="223.22" rx="1.75" ry="1.7" fill="#fbeaf8"/>
<ellipse cx="260.67" cy="217.98" rx="1.56" ry="1.4" fill="#fbeaf8"/>
<ellipse cx="340.26" cy="256.19" rx="1.02" ry="0.9" fill="#fff8fe"/>
<ellipse cx="349.27" cy="224.39" rx="2.98" ry="2.6" fill="#fff8fe"/>
<ellipse cx="304.62" cy="219.23" rx="1.16" ry="1" fill="#fff8fe"/>
<ellipse cx="333.7" cy="256.89" rx="0.78" ry="0.75" fill="#fff8fe"/>
<ellipse cx="276.18" cy="254.98" rx="1.86" ry="1.7" fill="#fbeaf8"/>
<ellipse cx="316.32" cy="254.51" rx="2.18" ry="2.1" fill="#fff8fe"/>
<ellipse cx="301.6" cy="239.55" rx="0.91" ry="0.9" fill="#fff8fe"/>
<ellipse cx="276.4" cy="236.13" rx="0.88" ry="0.75" fill="#fff8fe"/>
<ellipse cx="323.14" cy="254.69" rx="0.78" ry="0.75" fill="#fff8fe"/>
<ellipse cx="245.31" cy="230.86" rx="2.13" ry="2.1" fill="#fff8fe"/>
<ellipse cx="303.8" cy="235.6" rx="0.68" ry="0.6" fill="#fbeaf8"/>
<ellipse cx="333.52" cy="250.87" rx="1.04" ry="0.9" fill="#fff8fe"/>
<ellipse cx="324.02" cy="241.3" rx="0.78" ry="0.75" fill="#fbeaf8"/>
<ellipse cx="273.02" cy="236.28" rx="1.62" ry="1.4" fill="#fff8fe"/>
<ellipse cx="284.54" cy="214.76" rx="0.84" ry="0.75" fill="#fff8fe"/>
<ellipse cx="310.82" cy="219.29" rx="1.02" ry="1" fill="#fff8fe"/>
<ellipse cx="332.71" cy="243.48" rx="0.81" ry="0.75" fill="#fbeaf8"/>
<ellipse cx="247.43" cy="266.56" rx="1.76" ry="1.7" fill="#fbeaf8"/>
<ellipse cx="284.91" cy="228.19" rx="1.79" ry="1.7" fill="#fbeaf8"/>
<ellipse cx="321.06" cy="244.67" rx="1.59" ry="1.4" fill="#fff8fe"/>
<ellipse cx="327.71" cy="247.42" rx="2.73" ry="2.6" fill="#fff8fe"/>
<ellipse cx="279.09" cy="228.82" rx="2.18" ry="2.1" fill="#fff8fe"/>
<ellipse cx="284.03" cy="238.6" rx="1.33" ry="1.2" fill="#fff8fe"/>
<ellipse cx="302.11" cy="229.42" rx="2.6" ry="2.6" fill="#fbeaf8"/>
<ellipse cx="318.92" cy="263.55" rx="0.62" ry="0.6" fill="#fbeaf8"/>
<ellipse cx="264.98" cy="213.67" rx="1.07" ry="1" fill="#fff8fe"/>
<ellipse cx="288.25" cy="228.31" rx="0.81" ry="0.75" fill="#fff8fe"/>
<ellipse cx="282.29" cy="235.89" rx="0.75" ry="0.75" fill="#fbeaf8"/>
<ellipse cx="321.36" cy="222.76" rx="3.05" ry="2.6" fill="#fff8fe"/>
<ellipse cx="349.17" cy="256.62" rx="0.95" ry="0.9" fill="#fff8fe"/>
<ellipse cx="331.41" cy="225.68" rx="1.56" ry="1.4" fill="#fbeaf8"/>
<ellipse cx="304.8" cy="257.4" rx="1" ry="0.9" fill="#fff8fe"/>
<ellipse cx="329.99" cy="235.38" rx="1.85" ry="1.7" fill="#fff8fe"/>
<ellipse cx="348.62" cy="263.76" rx="0.95" ry="0.9" fill="#fff8fe"/>
<ellipse cx="311.87" cy="253.45" rx="1.05" ry="0.9" fill="#fff8fe"/>
<ellipse cx="293.61" cy="217.16" rx="1.75" ry="1.7" fill="#fff8fe"/>
<ellipse cx="295.49" cy="266.98" rx="1.99" ry="1.7" fill="#fff8fe"/>
<ellipse cx="256.44" cy="215.51" rx="2.64" ry="2.6" fill="#fff8fe"/>
<ellipse cx="299.19" cy="233.39" rx="0.69" ry="0.6" fill="#fff8fe"/>
<ellipse cx="307.34" cy="252.79" rx="1.36" ry="1.2" fill="#fbeaf8"/>
<ellipse cx="336.97" cy="223.09" rx="2.18" ry="2.1" fill="#fff8fe"/>
<ellipse cx="336.54" cy="265.69" rx="2.43" ry="2.1" fill="#fbeaf8"/>
<ellipse cx="299.78" cy="222.79" rx="1.22" ry="1.2" fill="#fff8fe"/>
<ellipse cx="343.67" cy="260.27" rx="1.44" ry="1.4" fill="#fff8fe"/>
<ellipse cx="288.67" cy="255.91" rx="1.1" ry="1" fill="#fff8fe"/>
<ellipse cx="288.69" cy="215.98" rx="0.78" ry="0.75" fill="#fff8fe"/>
<ellipse cx="327.99" cy="216.04" rx="2.89" ry="2.6" fill="#fbeaf8"/>
<ellipse cx="247.3" cy="261.36" rx="1.3" ry="1.2" fill="#fbeaf8"/>
<ellipse cx="265.49" cy="259.05" rx="0.64" ry="0.6" fill="#fff8fe"/>
<ellipse cx="319.59" cy="216.69" rx="2.3" ry="2.1" fill="#fff8fe"/>
<ellipse cx="264.83" cy="219.39" rx="1.02" ry="1" fill="#fff8fe"/>
<ellipse cx="306.53" cy="222.2" rx="1.43" ry="1.2" fill="#fbeaf8"/>
<ellipse cx="263.14" cy="222.02" rx="0.91" ry="0.9" fill="#fbeaf8"/>
<ellipse cx="274.16" cy="223.48" rx="0.78" ry="0.75" fill="#fff8fe"/>
<ellipse cx="348.76" cy="219.89" rx="0.94" ry="0.9" fill="#fff8fe"/>
<ellipse cx="338.51" cy="212.32" rx="0.88" ry="0.75" fill="#fff8fe"/>
<ellipse cx="312.37" cy="229.84" rx="2.47" ry="2.1" fill="#fff8fe"/>
<ellipse cx="300.36" cy="243.54" rx="0.93" ry="0.9" fill="#fff8fe"/>
<ellipse cx="290.17" cy="247.9" rx="2.97" ry="2.6" fill="#fff8fe"/>
<ellipse cx="265.47" cy="265.58" rx="0.66" ry="0.6" fill="#fff8fe"/>
<ellipse cx="336.53" cy="219.33" rx="0.93" ry="0.9" fill="#fff8fe"/>
<ellipse cx="271.87" cy="255.51" rx="0.76" ry="0.75" fill="#fff8fe"/>
<ellipse cx="296.67" cy="247.35" rx="2.27" ry="2.1" fill="#fbeaf8"/>
<ellipse cx="345.46" cy="216.31" rx="0.92" ry="0.9" fill="#fff8fe"/>
<ellipse cx="292.26" cy="252.38" rx="0.65" ry="0.6" fill="#fff8fe"/>
<ellipse cx="287.44" cy="239.55" rx="0.82" ry="0.75" fill="#fbeaf8"/>
<ellipse cx="341.86" cy="221.57" rx="1.03" ry="0.9" fill="#fff8fe"/>
<ellipse cx="285.65" cy="258.12" rx="1.8" ry="1.7" fill="#fff8fe"/>
<ellipse cx="249.22" cy="233.28" rx="1.11" ry="1" fill="#fff8fe"/>
<ellipse cx="349.29" cy="248.53" rx="2.31" ry="2.1" fill="#fff8fe"/>
<ellipse cx="273.1" cy="209.89" rx="0.91" ry="0.9" fill="#fbeaf8"/>
<ellipse cx="282.28" cy="217.78" rx="1.45" ry="1.4" fill="#fff8fe"/>
<ellipse cx="269.53" cy="257.9" rx="0.81" ry="0.75" fill="#fff8fe"/>
<ellipse cx="276.04" cy="244.36" rx="2.43" ry="2.1" fill="#fff8fe"/>
<ellipse cx="259.99" cy="243.63" rx="0.65" ry="0.6" fill="#fbeaf8"/>
<ellipse cx="287.53" cy="236.8" rx="0.96" ry="0.9" fill="#fff8fe"/>
<ellipse cx="267.96" cy="225.89" rx="1.43" ry="1.4" fill="#fbeaf8"/>
<ellipse cx="258.87" cy="258.42" rx="2.36" ry="2.1" fill="#fbeaf8"/>
<ellipse cx="329.73" cy="265.87" rx="1.34" ry="1.2" fill="#fff8fe"/>
<ellipse cx="314.66" cy="264.68" rx="1.67" ry="1.4" fill="#fff8fe"/>
<ellipse cx="325.44" cy="229.32" rx="1.05" ry="1" fill="#fff8fe"/>
<ellipse cx="322.73" cy="261.89" rx="0.98" ry="0.9" fill="#fbeaf8"/>
<ellipse cx="303.97" cy="224.12" rx="1.02" ry="0.9" fill="#fbeaf8"/>
<ellipse cx="244.37" cy="240.8" rx="2.98" ry="2.6" fill="#fff8fe"/>
<ellipse cx="309.89" cy="237.5" rx="1.44" ry="1.2" fill="#fbeaf8"/>
<ellipse cx="316" cy="211.16" rx="1.82" ry="1.7" fill="#fff8fe"/>
<ellipse cx="316.38" cy="219.54" rx="1.02" ry="1" fill="#fff8fe"/>
<ellipse cx="257.27" cy="230.85" rx="1.34" ry="1.2" fill="#fff8fe"/>
<ellipse cx="263.57" cy="209.6" rx="0.91" ry="0.9" fill="#fff8fe"/>
<ellipse cx="301.08" cy="255.7" rx="1.75" ry="1.7" fill="#fff8fe"/>
<ellipse cx="320.52" cy="232.68" rx="0.91" ry="0.9" fill="#fff8fe"/>
<ellipse cx="335.87" cy="234.67" rx="0.82" ry="0.75" fill="#fff8fe"/>
<ellipse cx="339.05" cy="260.31" rx="1.79" ry="1.7" fill="#fff8fe"/>
<ellipse cx="278.31" cy="209.93" rx="1.01" ry="0.9" fill="#fbeaf8"/>
<ellipse cx="282.78" cy="223.99" rx="0.61" ry="0.6" fill="#fff8fe"/>
<ellipse cx="244.76" cy="253.3" rx="0.84" ry="0.75" fill="#fff8fe"/>
<ellipse cx="287.31" cy="210.68" rx="1.48" ry="1.4" fill="#fbeaf8"/>
<ellipse cx="343.72" cy="211.55" rx="0.69" ry="0.6" fill="#fbeaf8"/>
<ellipse cx="301.13" cy="248.28" rx="1.28" ry="1.2" fill="#fbeaf8"/>
<ellipse cx="295.1" cy="257.94" rx="1.89" ry="1.7" fill="#fbeaf8"/>
<ellipse cx="340.42" cy="210.17" rx="1.08" ry="0.9" fill="#fbeaf8"/>
<ellipse cx="282.66" cy="246.12" rx="1.6" ry="1.4" fill="#fbeaf8"/>
<ellipse cx="251.07" cy="247.02" rx="0.76" ry="0.75" fill="#fbeaf8"/>
<ellipse cx="260.49" cy="230.61" rx="0.92" ry="0.9" fill="#fff8fe"/>
<ellipse cx="262.5" cy="212.69" rx="0.81" ry="0.75" fill="#fff8fe"/>
<ellipse cx="326.72" cy="260.73" rx="1.42" ry="1.2" fill="#fff8fe"/>
<ellipse cx="299.66" cy="209.39" rx="2.02" ry="1.7" fill="#fff8fe"/>
<ellipse cx="307.67" cy="242.31" rx="2.91" ry="2.6" fill="#fff8fe"/>
<ellipse cx="307.02" cy="263.3" rx="1.04" ry="0.9" fill="#fff8fe"/>
<ellipse cx="278.78" cy="223.77" rx="1.53" ry="1.4" fill="#fff8fe"/>
<ellipse cx="293.71" cy="241.07" rx="0.62" ry="0.6" fill="#fff8fe"/>
<ellipse cx="257.43" cy="266.72" rx="2.24" ry="2.1" fill="#fbeaf8"/>
<ellipse cx="280.97" cy="220.93" rx="0.61" ry="0.6" fill="#fff8fe"/>
<ellipse cx="264.77" cy="225.16" rx="1.02" ry="1" fill="#fff8fe"/>
<ellipse cx="302.22" cy="261.78" rx="1.03" ry="0.9" fill="#fff8fe"/>
<ellipse cx="277.54" cy="264.79" rx="1.16" ry="1" fill="#fff8fe"/>
<ellipse cx="349.41" cy="230.93" rx="1.58" ry="1.4" fill="#fff8fe"/>
<ellipse cx="322.04" cy="229.88" rx="1.29" ry="1.2" fill="#fff8fe"/>
<ellipse cx="268.92" cy="242.69" rx="1.36" ry="1.2" fill="#fbeaf8"/>
<ellipse cx="292.22" cy="263.42" rx="1.94" ry="1.7" fill="#fff8fe"/>
<ellipse cx="287.89" cy="221.69" rx="0.84" ry="0.75" fill="#fbeaf8"/>
<ellipse cx="317.66" cy="248.12" rx="1.17" ry="1" fill="#fbeaf8"/>
<ellipse cx="273.5" cy="214.77" rx="0.83" ry="0.75" fill="#fbeaf8"/>
<ellipse cx="318.31" cy="267.16" rx="0.75" ry="0.75" fill="#fff8fe"/>
<ellipse cx="305.94" cy="237.89" rx="0.91" ry="0.9" fill="#fff8fe"/>
<ellipse cx="254.17" cy="255.29" rx="0.62" ry="0.6" fill="#fff8fe"/>
<ellipse cx="312.79" cy="245.25" rx="1.3" ry="1.2" fill="#fff8fe"/>
<ellipse cx="346.81" cy="236.51" rx="0.81" ry="0.75" fill="#fff8fe"/>
<ellipse cx="303.47" cy="265.8" rx="0.78" ry="0.75" fill="#fbeaf8"/>
<ellipse cx="297.78" cy="216.09" rx="1.03" ry="1" fill="#fff8fe"/>
<ellipse cx="253.37" cy="238.76" rx="1.43" ry="1.2" fill="#fff8fe"/>
<ellipse cx="267.07" cy="235.22" rx="3.1" ry="2.6" fill="#fff8fe"/>
<ellipse cx="346.12" cy="250.5" rx="0.82" ry="0.75" fill="#fff8fe"/>
<ellipse cx="333.85" cy="211.5" rx="1.84" ry="1.7" fill="#fbeaf8"/>
<ellipse cx="299.85" cy="251.69" rx="1.4" ry="1.4" fill="#fbeaf8"/>
<ellipse cx="346.43" cy="209.21" rx="1.63" ry="1.4" fill="#fbeaf8"/>
<ellipse cx="344.04" cy="246.66" rx="1.48" ry="1.4" fill="#fff8fe"/>
<ellipse cx="274.29" cy="248.57" rx="0.76" ry="0.75" fill="#fbeaf8"/>
<ellipse cx="324.94" cy="211.61" rx="0.8" ry="0.75" fill="#fbeaf8"/>
<ellipse cx="252.85" cy="248.89" rx="0.98" ry="0.9" fill="#fff8fe"/>
<ellipse cx="291.45" cy="234.36" rx="0.86" ry="0.75" fill="#fff8fe"/>
<ellipse cx="339.11" cy="251.37" rx="0.85" ry="0.75" fill="#fff8fe"/>
<ellipse cx="281.73" cy="257.45" rx="0.88" ry="0.75" fill="#fbeaf8"/>
<ellipse cx="332.96" cy="216.02" rx="1.2" ry="1.2" fill="#fff8fe"/>
<ellipse cx="318.51" cy="237.72" rx="2.01" ry="1.7" fill="#fbeaf8"/>
<ellipse cx="285.13" cy="254.35" rx="0.76" ry="0.75" fill="#fff8fe"/>
<ellipse cx="334.62" cy="254.02" rx="1.53" ry="1.4" fill="#fbeaf8"/>
<ellipse cx="333.28" cy="229.76" rx="0.97" ry="0.9" fill="#fff8fe"/>
<ellipse cx="271.69" cy="251.53" rx="0.67" ry="0.6" fill="#fbeaf8"/>
<ellipse cx="266.61" cy="261.92" rx="0.9" ry="0.75" fill="#fff8fe"/>
<ellipse cx="327.11" cy="221.58" rx="1.16" ry="1" fill="#fbeaf8"/>
<ellipse cx="244.28" cy="263.41" rx="0.79" ry="0.75" fill="#fbeaf8"/>
<ellipse cx="343.52" cy="265.9" rx="0.93" ry="0.9" fill="#fbeaf8"/>
<ellipse cx="349.63" cy="242.23" rx="1.52" ry="1.4" fill="#fff8fe"/>
<ellipse cx="275.58" cy="226.4" rx="0.63" ry="0.6" fill="#fbeaf8"/>
<ellipse cx="268.84" cy="260.39" rx="0.99" ry="0.9" fill="#fff8fe"/>
<ellipse cx="252.33" cy="253.46" rx="1.01" ry="1" fill="#fff8fe"/>
<ellipse cx="248.76" cy="241.39" rx="0.97" ry="0.9" fill="#fff8fe"/>
<ellipse cx="342.74" cy="228.8" rx="1.05" ry="0.9" fill="#fff8fe"/>
<ellipse cx="257.05" cy="227.59" rx="0.9" ry="0.75" fill="#fff8fe"/>
<ellipse cx="299.83" cy="264.21" rx="0.8" ry="0.75" fill="#fbeaf8"/>
<ellipse cx="349.72" cy="237.37" rx="0.7" ry="0.6" fill="#fff8fe"/>
<ellipse cx="250.69" cy="210.24" rx="1.5" ry="1.4" fill="#fbeaf8"/>
<ellipse cx="344.43" cy="225.42" rx="0.81" ry="0.75" fill="#fff8fe"/>
<ellipse cx="281.43" cy="212.2" rx="0.78" ry="0.75" fill="#fbeaf8"/>
<ellipse cx="294.42" cy="250.59" rx="0.69" ry="0.6" fill="#fff8fe"/>
<ellipse cx="348.11" cy="259.77" rx="1.42" ry="1.2" fill="#fff8fe"/>
<ellipse cx="310.03" cy="216.13" rx="0.68" ry="0.6" fill="#fbeaf8"/>
<ellipse cx="319.37" cy="211.09" rx="0.99" ry="0.9" fill="#fff8fe"/>
<ellipse cx="246.85" cy="224.41" rx="0.83" ry="0.75" fill="#fbeaf8"/>
<ellipse cx="342.02" cy="238.05" rx="1.35" ry="1.2" fill="#fff8fe"/>
<ellipse cx="328.51" cy="211.23" rx="0.67" ry="0.6" fill="#fff8fe"/>
<ellipse cx="295.59" cy="243.19" rx="1.4" ry="1.4" fill="#fff8fe"/>
<ellipse cx="335.76" cy="238.57" rx="1.86" ry="1.7" fill="#fff8fe"/>
<ellipse cx="313.26" cy="222.02" rx="0.81" ry="0.75" fill="#fff8fe"/>
<ellipse cx="249.47" cy="221.4" rx="1.8" ry="1.7" fill="#fbeaf8"/>
<ellipse cx="273" cy="229.77" rx="3.11" ry="2.6" fill="#fff8fe"/>
<ellipse cx="276.98" cy="259.85" rx="1.12" ry="1" fill="#fff8fe"/>
<ellipse cx="279.73" cy="260.19" rx="1.1" ry="1" fill="#fbeaf8"/>
<ellipse cx="280.91" cy="253.84" rx="1.48" ry="1.4" fill="#fff8fe"/>
<ellipse cx="268.01" cy="230.11" rx="1.04" ry="1" fill="#fff8fe"/>
<ellipse cx="314.89" cy="258.53" rx="0.87" ry="0.75" fill="#fbeaf8"/>
<ellipse cx="314.7" cy="249.49" rx="1.41" ry="1.4" fill="#fff8fe"/>
<ellipse cx="275.91" cy="210.66" rx="0.63" ry="0.6" fill="#fff8fe"/>
<ellipse cx="270.17" cy="265.6" rx="2.8" ry="2.6" fill="#fff8fe"/>
<ellipse cx="302.95" cy="211.08" rx="1.25" ry="1.2" fill="#fbeaf8"/>
<ellipse cx="348.98" cy="213.22" rx="0.77" ry="0.75" fill="#fff8fe"/>
<ellipse cx="320.76" cy="253.16" rx="0.62" ry="0.6" fill="#fbeaf8"/>
<ellipse cx="320.97" cy="250.66" rx="1.14" ry="1" fill="#fff8fe"/>
<ellipse cx="273.56" cy="262.47" rx="0.75" ry="0.75" fill="#fff8fe"/>
<ellipse cx="245.2" cy="247.3" rx="1.1" ry="1" fill="#fff8fe"/>
<ellipse cx="261.21" cy="211" rx="0.71" ry="0.6" fill="#fff8fe"/>
<ellipse cx="280.27" cy="266.63" rx="0.71" ry="0.6" fill="#fff8fe"/>
<ellipse cx="265.26" cy="246.26" rx="0.91" ry="0.9" fill="#fbeaf8"/>
<ellipse cx="319.05" cy="230.57" rx="0.9" ry="0.75" fill="#fff8fe"/>
<ellipse cx="315.73" cy="242.55" rx="1.42" ry="1.2" fill="#fff8fe"/>
<ellipse cx="332.96" cy="247.17" rx="1.01" ry="0.9" fill="#fff8fe"/>
<ellipse cx="291.44" cy="258.95" rx="0.65" ry="0.6" fill="#fff8fe"/>
<ellipse cx="282.75" cy="249.39" rx="1.16" ry="1" fill="#fff8fe"/>
<ellipse cx="293.73" cy="238.46" rx="0.64" ry="0.6" fill="#fff8fe"/>
<ellipse cx="309.59" cy="262.32" rx="1.1" ry="1" fill="#fbeaf8"/>
<ellipse cx="307.49" cy="248.89" rx="1.88" ry="1.7" fill="#fff8fe"/>
<ellipse cx="250.18" cy="214.55" rx="0.61" ry="0.6" fill="#fff8fe"/>
<ellipse cx="315.7" cy="223.79" rx="1.29" ry="1.2" fill="#fff8fe"/>
<ellipse cx="312.7" cy="236.65" rx="0.76" ry="0.75" fill="#fff8fe"/>
<ellipse cx="302.74" cy="242.85" rx="0.67" ry="0.6" fill="#fbeaf8"/>
<ellipse cx="293.65" cy="209.43" rx="2.23" ry="2.1" fill="#fff8fe"/>
<ellipse cx="308.5" cy="233.37" rx="1.36" ry="1.2" fill="#fff8fe"/>
<ellipse cx="304.3" cy="214.54" rx="1.15" ry="1" fill="#fff8fe"/>
<ellipse cx="260.67" cy="235.58" rx="1.07" ry="0.9" fill="#fbeaf8"/>
<ellipse cx="336.72" cy="243.61" rx="1.42" ry="1.2" fill="#fbeaf8"/>
<ellipse cx="279.69" cy="233.38" rx="1.03" ry="1" fill="#fff8fe"/>
<ellipse cx="257.07" cy="223.44" rx="2.46" ry="2.1" fill="#fff8fe"/>
<ellipse cx="347.92" cy="239.86" rx="0.84" ry="0.75" fill="#fff8fe"/>
<ellipse cx="326.41" cy="237.44" rx="0.78" ry="0.75" fill="#fff8fe"/>
<ellipse cx="307.92" cy="209.68" rx="2.14" ry="2.1" fill="#fbeaf8"/>
<ellipse cx="297.41" cy="219.26" rx="1.03" ry="0.9" fill="#fbeaf8"/>
<ellipse cx="296.99" cy="254.13" rx="1.34" ry="1.2" fill="#fff8fe"/>
<ellipse cx="291.04" cy="239.55" rx="0.69" ry="0.6" fill="#fff8fe"/>
<ellipse cx="332.58" cy="261.09" rx="0.96" ry="0.9" fill="#fff8fe"/>
<ellipse cx="326.39" cy="224.89" rx="0.89" ry="0.75" fill="#fff8fe"/>
<ellipse cx="331.04" cy="241.95" rx="0.86" ry="0.75" fill="#fff8fe"/>
<ellipse cx="343.09" cy="252.33" rx="0.7" ry="0.6" fill="#fbeaf8"/>
<ellipse cx="308.89" cy="230.06" rx="0.68" ry="0.6" fill="#fbeaf8"/>
<ellipse cx="329.02" cy="228.66" rx="1.1" ry="1" fill="#fbeaf8"/>
<ellipse cx="322.55" cy="212.03" rx="1" ry="0.9" fill="#fff8fe"/>
<ellipse cx="246.42" cy="214.37" rx="1.02" ry="0.9" fill="#fbeaf8"/>
<ellipse cx="296.51" cy="235.05" rx="1.23" ry="1.2" fill="#fbeaf8"/>
<ellipse cx="262.69" cy="233.05" rx="1.01" ry="0.9" fill="#fbeaf8"/>
<ellipse cx="308.59" cy="259.95" rx="0.63" ry="0.6" fill="#fbeaf8"/>
<ellipse cx="344.49" cy="222.77" rx="1.04" ry="1" fill="#fff8fe"/>
<ellipse cx="322.38" cy="234.55" rx="0.89" ry="0.75" fill="#fbeaf8"/>
<ellipse cx="266.11" cy="209.05" rx="1.05" ry="0.9" fill="#fbeaf8"/>
<ellipse cx="252.4" cy="233.66" rx="1.06" ry="0.9" fill="#fff8fe"/>
<ellipse cx="245.68" cy="210.48" rx="1.95" ry="1.7" fill="#fbeaf8"/>
<ellipse cx="308.3" cy="225.74" rx="1.02" ry="1" fill="#fff8fe"/>
<ellipse cx="259.05" cy="252.96" rx="1.23" ry="1.2" fill="#fff8fe"/>
<ellipse cx="337.82" cy="208.86" rx="1.03" ry="0.9" fill="#fff8fe"/>
<ellipse cx="298.81" cy="267.11" rx="0.81" ry="0.75" fill="#fff8fe"/>
<ellipse cx="340.5" cy="248.19" rx="1.06" ry="1" fill="#fff8fe"/>
<ellipse cx="295.54" cy="222.39" rx="0.69" ry="0.6" fill="#fff8fe"/>
<ellipse cx="316.48" cy="233.67" rx="1.4" ry="1.4" fill="#fbeaf8"/>
<ellipse cx="289.48" cy="243.65" rx="0.87" ry="0.75" fill="#fff8fe"/>
<ellipse cx="346.24" cy="230.32" rx="0.66" ry="0.6" fill="#fbeaf8"/>
<ellipse cx="304.91" cy="261.41" rx="0.61" ry="0.6" fill="#fbeaf8"/>
<ellipse cx="325.3" cy="266.37" rx="1.9" ry="1.7" fill="#fff8fe"/>
<ellipse cx="270.82" cy="215.73" rx="0.61" ry="0.6" fill="#fff8fe"/>
<ellipse cx="262.91" cy="251.6" rx="1.07" ry="0.9" fill="#fff8fe"/>
<ellipse cx="303.01" cy="251.66" rx="0.84" ry="0.75" fill="#fff8fe"/>
<ellipse cx="339.63" cy="226.24" rx="0.6" ry="0.6" fill="#fff8fe"/>
<ellipse cx="254.94" cy="262.79" rx="1.05" ry="1" fill="#fff8fe"/>
<ellipse cx="258.89" cy="249.5" rx="1.4" ry="1.4" fill="#fff8fe"/>
<ellipse cx="270.68" cy="237.91" rx="0.64" ry="0.6" fill="#fff8fe"/>
<ellipse cx="297.12" cy="227.03" rx="1.58" ry="1.4" fill="#fbeaf8"/>
<ellipse cx="253.73" cy="244.84" rx="0.96" ry="0.9" fill="#fff8fe"/>
<ellipse cx="339.21" cy="218.33" rx="1.18" ry="1" fill="#fbeaf8"/>
<ellipse cx="257.08" cy="238.85" rx="1.38" ry="1.2" fill="#fbeaf8"/>
<ellipse cx="277.99" cy="249.02" rx="0.79" ry="0.75" fill="#fff8fe"/>
<ellipse cx="263.32" cy="263" rx="0.94" ry="0.9" fill="#fff8fe"/>
<ellipse cx="255.49" cy="210.4" rx="0.62" ry="0.6" fill="#fbeaf8"/>
<ellipse cx="323.15" cy="237.95" rx="0.76" ry="0.75" fill="#fbeaf8"/>
<ellipse cx="348.44" cy="266.37" rx="0.82" ry="0.75" fill="#fff8fe"/>
<ellipse cx="275.07" cy="251.52" rx="0.64" ry="0.6" fill="#fff8fe"/>
<ellipse cx="312.88" cy="262.03" rx="0.79" ry="0.75" fill="#fbeaf8"/>
<ellipse cx="251.21" cy="265.21" rx="1.53" ry="1.4" fill="#fff8fe"/>
<ellipse cx="247.17" cy="250.16" rx="1.06" ry="1" fill="#fff8fe"/>
<ellipse cx="318.29" cy="240.96" rx="0.88" ry="0.75" fill="#fff8fe"/>
<ellipse cx="344.96" cy="238.13" rx="0.92" ry="0.9" fill="#fff8fe"/>
<ellipse cx="285.05" cy="250.63" rx="0.76" ry="0.75" fill="#fff8fe"/>
<ellipse cx="344.79" cy="234.48" rx="0.69" ry="0.6" fill="#fbeaf8"/>
<ellipse cx="295.7" cy="231.55" rx="1.03" ry="1" fill="#fff8fe"/>
<ellipse cx="273.67" cy="258.53" rx="1.56" ry="1.4" fill="#fff8fe"/>
<ellipse cx="318.68" cy="260.19" rx="0.86" ry="0.75" fill="#fff8fe"/>
<ellipse cx="284.76" cy="243.47" rx="1.35" ry="1.2" fill="#fff8fe"/>
<ellipse cx="272.78" cy="240.95" rx="1.36" ry="1.2" fill="#fff8fe"/>
<ellipse cx="284.06" cy="209.31" rx="1.07" ry="0.9" fill="#fbeaf8"/>
<ellipse cx="322.02" cy="265.64" rx="0.84" ry="0.75" fill="#fff8fe"/>
<ellipse cx="256.13" cy="241.39" rx="0.63" ry="0.6" fill="#fff8fe"/>
<ellipse cx="308.93" cy="266.71" rx="1.43" ry="1.2" fill="#fff8fe"/>
<ellipse cx="287.26" cy="252.12" rx="1.01" ry="1" fill="#fff8fe"/>
<ellipse cx="338.89" cy="254.13" rx="0.61" ry="0.6" fill="#fff8fe"/>
<ellipse cx="325.57" cy="256.64" rx="0.88" ry="0.75" fill="#fbeaf8"/>
<ellipse cx="291.92" cy="256.59" rx="1.06" ry="0.9" fill="#fbeaf8"/>
<ellipse cx="251.14" cy="217.13" rx="0.86" ry="0.75" fill="#fbeaf8"/>
<ellipse cx="336.86" cy="227.03" rx="1.06" ry="1" fill="#fff8fe"/>
<ellipse cx="348.38" cy="252.67" rx="1.04" ry="0.9" fill="#fbeaf8"/>
<ellipse cx="271.21" cy="211.89" rx="1.01" ry="0.9" fill="#fff8fe"/>
<ellipse cx="312.43" cy="242.33" rx="0.71" ry="0.6" fill="#fbeaf8"/>
<ellipse cx="282.41" cy="232.62" rx="1.09" ry="1" fill="#fff8fe"/>
<ellipse cx="331.01" cy="220.32" rx="1.17" ry="1" fill="#fbeaf8"/>
<ellipse cx="267.31" cy="217.4" rx="1.04" ry="1" fill="#fff8fe"/>
<ellipse cx="257.92" cy="211.41" rx="0.65" ry="0.6" fill="#fbeaf8"/>
<ellipse cx="278.93" cy="239.09" rx="1.82" ry="1.7" fill="#fbeaf8"/>
<ellipse cx="262.04" cy="227.18" rx="0.95" ry="0.9" fill="#fff8fe"/>
<ellipse cx="299.16" cy="259.9" rx="0.82" ry="0.75" fill="#fbeaf8"/>
<ellipse cx="247.48" cy="255.25" rx="0.78" ry="0.75" fill="#fff8fe"/>
<ellipse cx="269.45" cy="219.75" rx="1" ry="0.9" fill="#fbeaf8"/>
<ellipse cx="253.56" cy="211.85" rx="0.66" ry="0.6" fill="#fbeaf8"/>
<ellipse cx="270.73" cy="248.17" rx="1.18" ry="1" fill="#fff8fe"/>
<ellipse cx="333.85" cy="233.65" rx="0.89" ry="0.75" fill="#fbeaf8"/>
<ellipse cx="347.99" cy="215.2" rx="0.68" ry="0.6" fill="#fbeaf8"/>
<ellipse cx="341.3" cy="265.47" rx="0.69" ry="0.6" fill="#fff8fe"/>
<ellipse cx="250.76" cy="256.32" rx="1.04" ry="1" fill="#fbeaf8"/>
<ellipse cx="301.69" cy="225.22" rx="0.67" ry="0.6" fill="#fbeaf8"/>
<ellipse cx="279.92" cy="243.58" rx="1.12" ry="1" fill="#fff8fe"/>
<ellipse cx="336.18" cy="214.96" rx="1.21" ry="1.2" fill="#fff8fe"/>
<ellipse cx="290.92" cy="214.11" rx="0.72" ry="0.6" fill="#fbeaf8"/>
<ellipse cx="287.5" cy="225.44" rx="0.86" ry="0.75" fill="#fff8fe"/>
<ellipse cx="325.7" cy="232.02" rx="1.06" ry="0.9" fill="#fbeaf8"/>
<ellipse cx="300.69" cy="218.12" rx="1.34" ry="1.2" fill="#fff8fe"/>
<ellipse cx="253.08" cy="220.22" rx="0.92" ry="0.9" fill="#fbeaf8"/>
<ellipse cx="246.89" cy="226.97" rx="0.76" ry="0.75" fill="#fbeaf8"/>
<ellipse cx="324.82" cy="262.92" rx="0.62" ry="0.6" fill="#fbeaf8"/>
<ellipse cx="251.5" cy="241.21" rx="0.84" ry="0.75" fill="#fff8fe"/>
<ellipse cx="288.55" cy="259.73" rx="0.77" ry="0.75" fill="#fff8fe"/>
<ellipse cx="321.5" cy="240.12" rx="1.03" ry="0.9" fill="#fbeaf8"/>
<ellipse cx="337.22" cy="231.67" rx="0.94" ry="0.9" fill="#fff8fe"/>
<ellipse cx="304.65" cy="246.45" rx="0.69" ry="0.6" fill="#fff8fe"/>
<ellipse cx="249.62" cy="237.27" rx="0.61" ry="0.6" fill="#fff8fe"/>
<ellipse cx="345.79" cy="219.51" rx="0.85" ry="0.75" fill="#fbeaf8"/>
<ellipse cx="307.31" cy="257.9" rx="0.94" ry="0.9" fill="#fff8fe"/>
<ellipse cx="244.06" cy="227.09" rx="0.9" ry="0.9" fill="#fbeaf8"/>
<ellipse cx="335.35" cy="262.16" rx="0.76" ry="0.75" fill="#fff8fe"/>
<ellipse cx="254.81" cy="231.69" rx="0.61" ry="0.6" fill="#fbeaf8"/>
<ellipse cx="341.01" cy="242.13" rx="0.83" ry="0.75" fill="#fbeaf8"/>
<ellipse cx="326.19" cy="251.59" rx="0.87" ry="0.75" fill="#fbeaf8"/>
<ellipse cx="272.71" cy="225.48" rx="0.8" ry="0.75" fill="#fff8fe"/>
<ellipse cx="264.57" cy="239.85" rx="1.15" ry="1" fill="#fbeaf8"/>
<ellipse cx="261.55" cy="238.8" rx="1.45" ry="1.4" fill="#fff8fe"/>
<ellipse cx="328.92" cy="239.93" rx="1.15" ry="1" fill="#fff8fe"/>
<ellipse cx="252.69" cy="223.42" rx="1.16" ry="1" fill="#fff8fe"/>
<ellipse cx="284.57" cy="220.32" rx="0.77" ry="0.75" fill="#fff8fe"/>
<ellipse cx="328.6" cy="224.43" rx="0.86" ry="0.75" fill="#fff8fe"/>
<ellipse cx="244.23" cy="217.17" rx="0.99" ry="0.9" fill="#fbeaf8"/>
<ellipse cx="322.75" cy="258.44" rx="0.99" ry="0.9" fill="#fff8fe"/>
<ellipse cx="293.29" cy="254.43" rx="0.63" ry="0.6" fill="#fff8fe"/>
<ellipse cx="342.9" cy="217.67" rx="1.27" ry="1.2" fill="#fbeaf8"/>
<ellipse cx="341.68" cy="213.08" rx="0.88" ry="0.75" fill="#fff8fe"/>
<ellipse cx="346.07" cy="213.14" rx="0.62" ry="0.6" fill="#fff8fe"/>
<ellipse cx="320.08" cy="257.86" rx="0.88" ry="0.75" fill="#fff8fe"/>
<ellipse cx="276.34" cy="222.41" rx="0.7" ry="0.6" fill="#fbeaf8"/>
<ellipse cx="317.86" cy="244.61" rx="0.64" ry="0.6" fill="#fff8fe"/>
<ellipse cx="339.53" cy="245.6" rx="1.02" ry="1" fill="#fff8fe"/>
<ellipse cx="247.86" cy="244.15" rx="1.2" ry="1" fill="#fff8fe"/>
<ellipse cx="257.97" cy="244.7" rx="0.71" ry="0.6" fill="#fff8fe"/>
<ellipse cx="290.82" cy="267.28" rx="1.55" ry="1.4" fill="#fff8fe"/>
<ellipse cx="327.63" cy="208.97" rx="1.19" ry="1" fill="#fbeaf8"/>
<ellipse cx="335.53" cy="248.46" rx="0.82" ry="0.75" fill="#fff8fe"/>
<ellipse cx="346.54" cy="243.08" rx="0.67" ry="0.6" fill="#fff8fe"/>
<ellipse cx="256.07" cy="235.65" rx="1.09" ry="1" fill="#fbeaf8"/>
<ellipse cx="277.67" cy="215.42" rx="2.01" ry="1.7" fill="#fbeaf8"/>
<ellipse cx="301.27" cy="266.92" rx="0.92" ry="0.9" fill="#fbeaf8"/>
<ellipse cx="311.21" cy="234.65" rx="0.92" ry="0.9" fill="#fff8fe"/>
<ellipse cx="290.43" cy="241.51" rx="0.68" ry="0.6" fill="#fff8fe"/>
<ellipse cx="244.07" cy="267.1" rx="0.88" ry="0.75" fill="#fff8fe"/>
<ellipse cx="254.3" cy="228.46" rx="0.64" ry="0.6" fill="#fff8fe"/>
<ellipse cx="339.64" cy="215.34" rx="1.4" ry="1.2" fill="#fff8fe"/>
<ellipse cx="314.89" cy="239.84" rx="0.62" ry="0.6" fill="#fff8fe"/>
<ellipse cx="247.52" cy="252.55" rx="0.62" ry="0.6" fill="#fff8fe"/>
<ellipse cx="341.32" cy="253.86" rx="0.76" ry="0.75" fill="#fbeaf8"/>
<ellipse cx="293.74" cy="213.78" rx="0.64" ry="0.6" fill="#fff8fe"/>
<ellipse cx="263.93" cy="260.79" rx="0.66" ry="0.6" fill="#fbeaf8"/>
<ellipse cx="276.12" cy="233.12" rx="0.61" ry="0.6" fill="#fff8fe"/>
<ellipse cx="293.76" cy="233.28" rx="0.77" ry="0.75" fill="#fff8fe"/>
<ellipse cx="329.72" cy="251.12" rx="0.75" ry="0.75" fill="#fbeaf8"/>
<ellipse cx="263.31" cy="248.38" rx="1.03" ry="1" fill="#fff8fe"/>
<ellipse cx="322.88" cy="218.06" rx="0.62" ry="0.6" fill="#fff8fe"/>
<ellipse cx="311.16" cy="250.38" rx="0.82" ry="0.75" fill="#fff8fe"/>
<ellipse cx="346.36" cy="232.77" rx="0.8" ry="0.75" fill="#fff8fe"/>
<ellipse cx="277.08" cy="218.91" rx="0.88" ry="0.75" fill="#fff8fe"/>
<ellipse cx="260.83" cy="255.13" rx="0.79" ry="0.75" fill="#fff8fe"/>
<ellipse cx="286.7" cy="231.77" rx="1.04" ry="0.9" fill="#fff8fe"/>
<ellipse cx="267.45" cy="249.03" rx="1.02" ry="0.9" fill="#fff8fe"/>
<ellipse cx="306.54" cy="213.01" rx="0.65" ry="0.6" fill="#fff8fe"/>
<ellipse cx="277.82" cy="267.28" rx="0.66" ry="0.6" fill="#fff8fe"/>
<ellipse cx="244.02" cy="224.04" rx="0.67" ry="0.6" fill="#fbeaf8"/>
<ellipse cx="301.08" cy="235.94" rx="0.7" ry="0.6" fill="#fff8fe"/>
<ellipse cx="289.43" cy="230.31" rx="0.64" ry="0.6" fill="#fff8fe"/>
<ellipse cx="245.19" cy="257.51" rx="1.04" ry="0.9" fill="#fff8fe"/>
<ellipse cx="290.23" cy="210.15" rx="0.64" ry="0.6" fill="#fff8fe"/>
<ellipse cx="286.85" cy="218.67" rx="0.7" ry="0.6" fill="#fff8fe"/>
<ellipse cx="334.04" cy="220.49" rx="0.98" ry="0.9" fill="#fbeaf8"/>
<ellipse cx="251.99" cy="230" rx="0.76" ry="0.75" fill="#fff8fe"/>
<ellipse cx="345.75" cy="264.2" rx="0.76" ry="0.75" fill="#fbeaf8"/>
<ellipse cx="270.69" cy="245.04" rx="0.62" ry="0.6" fill="#fbeaf8"/>
<ellipse cx="295.66" cy="214.7" rx="0.89" ry="0.75" fill="#fff8fe"/>
<ellipse cx="310.85" cy="255.77" rx="0.88" ry="0.75" fill="#fff8fe"/>
<ellipse cx="329.31" cy="243.61" rx="0.84" ry="0.75" fill="#fbeaf8"/>
<ellipse cx="297.78" cy="213.34" rx="1.19" ry="1" fill="#fff8fe"/>
<ellipse cx="318.09" cy="227.55" rx="1.21" ry="1.2" fill="#fff8fe"/>
<ellipse cx="323.6" cy="251.84" rx="1.01" ry="1" fill="#fff8fe"/>
<ellipse cx="313.74" cy="218.56" rx="1.04" ry="0.9" fill="#fff8fe"/>
<ellipse cx="331.52" cy="231.8" rx="1.01" ry="1" fill="#fff8fe"/>
<ellipse cx="310.17" cy="222.03" rx="0.81" ry="0.75" fill="#fff8fe"/>
<ellipse cx="286.97" cy="241.9" rx="0.67" ry="0.6" fill="#fff8fe"/>
<ellipse cx="307.15" cy="215.04" rx="0.68" ry="0.6" fill="#fff8fe"/>
<ellipse cx="250.96" cy="244.12" rx="0.91" ry="0.9" fill="#fbeaf8"/>
<ellipse cx="312.01" cy="210.3" rx="0.81" ry="0.75" fill="#fff8fe"/>
<ellipse cx="348.94" cy="234.61" rx="0.92" ry="0.9" fill="#fff8fe"/>
<ellipse cx="266.78" cy="211.54" rx="0.69" ry="0.6" fill="#fff8fe"/>
<ellipse cx="286.99" cy="214.35" rx="0.65" ry="0.6" fill="#fff8fe"/>
<ellipse cx="311.89" cy="259.08" rx="1.61" ry="1.4" fill="#fbeaf8"/>
<ellipse cx="274.83" cy="238.8" rx="0.61" ry="0.6" fill="#fff8fe"/>
<ellipse cx="298.92" cy="237.3" rx="1.01" ry="1" fill="#fff8fe"/>
<ellipse cx="323.36" cy="209.66" rx="0.77" ry="0.75" fill="#fff8fe"/>
<ellipse cx="332.48" cy="237.19" rx="0.71" ry="0.6" fill="#fff8fe"/>
<ellipse cx="289.99" cy="253.4" rx="0.79" ry="0.75" fill="#fbeaf8"/>
<ellipse cx="259.41" cy="227.25" rx="0.79" ry="0.75" fill="#fff8fe"/>
<ellipse cx="272.97" cy="253.35" rx="0.65" ry="0.6" fill="#fff8fe"/>
<ellipse cx="306.24" cy="228.34" rx="0.79" ry="0.75" fill="#fbeaf8"/>
<ellipse cx="246.45" cy="220.28" rx="0.78" ry="0.75" fill="#fbeaf8"/>
<ellipse cx="323.11" cy="226.59" rx="0.66" ry="0.6" fill="#fff8fe"/>
<ellipse cx="338.91" cy="235.64" rx="1.3" ry="1.2" fill="#fff8fe"/>
<ellipse cx="314.96" cy="261.44" rx="0.71" ry="0.6" fill="#fff8fe"/>
<ellipse cx="304.63" cy="254.44" rx="0.95" ry="0.9" fill="#fff8fe"/>
<ellipse cx="254.12" cy="251.37" rx="0.7" ry="0.6" fill="#fff8fe"/>
<ellipse cx="325.82" cy="239.63" rx="0.87" ry="0.75" fill="#fff8fe"/>
<ellipse cx="330.04" cy="262.92" rx="0.89" ry="0.75" fill="#fff8fe"/>
<ellipse cx="266.48" cy="222.77" rx="0.98" ry="0.9" fill="#fff8fe"/>
<ellipse cx="337.4" cy="256.6" rx="0.66" ry="0.6" fill="#fff8fe"/>
</g></g>
<g clip-path="url(#c12)"><g filter="url(#soft)">
<rect x="330" y="178.05" width="150" height="120" filter="url(#h12)" transform="rotate(-30 405 238.05)"/>
<ellipse cx="402.25" cy="246.95" rx="1.11" ry="1.12" fill="#682c90"/>
<ellipse cx="458.64" cy="237.06" rx="1.27" ry="1.11" fill="#8e4eae"/>
<ellipse cx="415.96" cy="241.34" rx="1.44" ry="1.11" fill="#682c90"/>
<ellipse cx="390.71" cy="228.99" rx="1.13" ry="0.93" fill="#6e3096"/>
<ellipse cx="359.06" cy="248.61" rx="1.18" ry="0.98" fill="#8e4eae"/>
<ellipse cx="360.43" cy="261.72" rx="1.07" ry="1.18" fill="#6e3096"/>
<ellipse cx="457.86" cy="233.75" rx="1.32" ry="1.03" fill="#8e4eae"/>
<ellipse cx="409.26" cy="259.63" rx="1.16" ry="1.07" fill="#74359a"/>
<ellipse cx="405.78" cy="214.52" rx="1.13" ry="1.09" fill="#6e3096"/>
<ellipse cx="416.8" cy="240.37" rx="1.42" ry="1.11" fill="#74359a"/>
<ellipse cx="456.44" cy="247.29" rx="1.22" ry="0.99" fill="#8242a6"/>
<ellipse cx="392.64" cy="227.31" rx="0.93" ry="0.95" fill="#8242a6"/>
<ellipse cx="406.23" cy="255.57" rx="1.04" ry="1.05" fill="#74359a"/>
<ellipse cx="443.78" cy="211.65" rx="0.71" ry="0.86" fill="#8e4eae"/>
<ellipse cx="373.08" cy="244.11" rx="1.02" ry="1.15" fill="#682c90"/>
<ellipse cx="426.16" cy="211.88" rx="1.06" ry="0.96" fill="#8242a6"/>
<ellipse cx="429.39" cy="238.84" rx="0.94" ry="1" fill="#8242a6"/>
<ellipse cx="402.44" cy="263.97" rx="1.08" ry="1.04" fill="#682c90"/>
<ellipse cx="410.28" cy="220.08" rx="1.45" ry="1.16" fill="#682c90"/>
<ellipse cx="351.72" cy="224.96" rx="1.03" ry="1.16" fill="#8242a6"/>
<ellipse cx="436.85" cy="238.13" rx="1.23" ry="0.95" fill="#74359a"/>
<ellipse cx="458.84" cy="238.25" rx="1.07" ry="0.86" fill="#8242a6"/>
<ellipse cx="423.21" cy="225.59" rx="0.94" ry="0.9" fill="#6e3096"/>
<ellipse cx="403.89" cy="229.79" rx="1.4" ry="1.12" fill="#8e4eae"/>
<ellipse cx="368.51" cy="226.26" rx="1.16" ry="1.2" fill="#8242a6"/>
<ellipse cx="444.11" cy="245.97" rx="1.2" ry="1.03" fill="#682c90"/>
<ellipse cx="407.27" cy="211.41" rx="0.74" ry="0.85" fill="#74359a"/>
<ellipse cx="446.74" cy="233.55" rx="0.98" ry="0.95" fill="#8e4eae"/>
<ellipse cx="357.35" cy="242.02" rx="1.34" ry="1.14" fill="#8242a6"/>
<ellipse cx="396.11" cy="243.05" rx="1.32" ry="1.21" fill="#682c90"/>
<ellipse cx="388.53" cy="230.62" rx="1.01" ry="1.14" fill="#6e3096"/>
<ellipse cx="425.39" cy="218.58" rx="1.08" ry="0.86" fill="#74359a"/>
<ellipse cx="449.34" cy="240.02" rx="1.39" ry="1.17" fill="#8e4eae"/>
<ellipse cx="427.71" cy="220.48" rx="1" ry="0.96" fill="#6e3096"/>
<ellipse cx="417" cy="221.77" rx="1.19" ry="1.09" fill="#8e4eae"/>
<ellipse cx="358.75" cy="229.9" rx="0.77" ry="0.88" fill="#8242a6"/>
<ellipse cx="360.78" cy="227.45" rx="1.11" ry="1.13" fill="#8e4eae"/>
<ellipse cx="354.21" cy="237.36" rx="0.85" ry="1.03" fill="#682c90"/>
<ellipse cx="415.17" cy="235.62" rx="1.53" ry="1.2" fill="#74359a"/>
<ellipse cx="351.83" cy="230.16" rx="1.1" ry="0.96" fill="#682c90"/>
<ellipse cx="382.97" cy="238.98" rx="0.8" ry="0.91" fill="#8242a6"/>
<ellipse cx="401.18" cy="244.07" rx="1.22" ry="1.19" fill="#682c90"/>
<ellipse cx="435.83" cy="212.58" rx="1.24" ry="1.16" fill="#8e4eae"/>
<ellipse cx="433.22" cy="232.13" rx="1.44" ry="1.12" fill="#74359a"/>
<ellipse cx="410.82" cy="248.26" rx="0.95" ry="0.99" fill="#74359a"/>
<ellipse cx="404.99" cy="230.19" rx="1.01" ry="0.97" fill="#682c90"/>
<ellipse cx="437.5" cy="217.4" rx="1.26" ry="1.05" fill="#8e4eae"/>
<ellipse cx="381.85" cy="262.69" rx="1.31" ry="1.09" fill="#8e4eae"/>
<ellipse cx="436.26" cy="244.11" rx="1.02" ry="0.91" fill="#8242a6"/>
<ellipse cx="442.01" cy="244.18" rx="1.18" ry="1.16" fill="#8e4eae"/>
<ellipse cx="422.12" cy="229" rx="1.15" ry="1.16" fill="#8e4eae"/>
<ellipse cx="394.15" cy="255.41" rx="1.12" ry="0.92" fill="#682c90"/>
<ellipse cx="362.84" cy="224.94" rx="1.55" ry="1.21" fill="#8242a6"/>
<ellipse cx="449.82" cy="253.35" rx="1.45" ry="1.19" fill="#8242a6"/>
<ellipse cx="373.81" cy="259.51" rx="0.71" ry="0.86" fill="#8242a6"/>
<ellipse cx="438.51" cy="220.84" rx="1.17" ry="0.93" fill="#8242a6"/>
<ellipse cx="457.01" cy="253.5" rx="1.18" ry="1.07" fill="#74359a"/>
<ellipse cx="362.05" cy="248.5" rx="0.9" ry="1.06" fill="#8e4eae"/>
<ellipse cx="351.67" cy="216.95" rx="1.13" ry="1.01" fill="#8e4eae"/>
<ellipse cx="401.47" cy="245.62" rx="1.25" ry="1.01" fill="#8e4eae"/>
<ellipse cx="354.04" cy="257.54" rx="0.9" ry="0.86" fill="#682c90"/>
<ellipse cx="443.39" cy="248.81" rx="1.32" ry="1.23" fill="#8e4eae"/>
<ellipse cx="454.97" cy="230.99" rx="0.86" ry="0.88" fill="#682c90"/>
<ellipse cx="376.02" cy="233.7" rx="1.48" ry="1.17" fill="#74359a"/>
<ellipse cx="354.35" cy="248.59" rx="1.18" ry="1.08" fill="#74359a"/>
<ellipse cx="414.4" cy="255.19" rx="1.3" ry="1.1" fill="#8e4eae"/>
<ellipse cx="396.74" cy="240.48" rx="0.97" ry="0.98" fill="#682c90"/>
<ellipse cx="421.85" cy="228.86" rx="0.76" ry="0.87" fill="#8242a6"/>
<ellipse cx="364.23" cy="237.24" rx="0.73" ry="0.9" fill="#8242a6"/>
<ellipse cx="375.68" cy="237.06" rx="1.35" ry="1.14" fill="#8e4eae"/>
<ellipse cx="387.69" cy="231.36" rx="1.16" ry="1.19" fill="#8e4eae"/>
<ellipse cx="447.06" cy="245.71" rx="1" ry="1.1" fill="#74359a"/>
<ellipse cx="392.62" cy="244.4" rx="1.02" ry="0.9" fill="#6e3096"/>
<ellipse cx="398.56" cy="225.57" rx="0.85" ry="0.99" fill="#74359a"/>
<ellipse cx="414.38" cy="237.62" rx="1.09" ry="1" fill="#682c90"/>
<ellipse cx="413.34" cy="231.18" rx="1.22" ry="0.97" fill="#8242a6"/>
<ellipse cx="449.95" cy="263.11" rx="0.97" ry="1.09" fill="#74359a"/>
<ellipse cx="394.17" cy="221.38" rx="1.08" ry="0.98" fill="#8242a6"/>
<ellipse cx="443.7" cy="217.81" rx="0.81" ry="0.98" fill="#8e4eae"/>
<ellipse cx="386.49" cy="240.16" rx="1.01" ry="1.18" fill="#6e3096"/>
<ellipse cx="378.02" cy="255.55" rx="1.1" ry="1.25" fill="#8242a6"/>
<ellipse cx="398.33" cy="225.77" rx="1.06" ry="1.19" fill="#682c90"/>
<ellipse cx="380.59" cy="216.69" rx="0.97" ry="0.93" fill="#682c90"/>
<ellipse cx="454.58" cy="235.7" rx="1.25" ry="1.22" fill="#8e4eae"/>
<ellipse cx="392.98" cy="225.22" rx="1.11" ry="1.21" fill="#682c90"/>
<ellipse cx="407.81" cy="250.85" rx="1.29" ry="1.05" fill="#6e3096"/>
<ellipse cx="387.68" cy="232.34" rx="1.13" ry="0.9" fill="#74359a"/>
<ellipse cx="436.31" cy="231.85" rx="1.08" ry="1.24" fill="#8e4eae"/>
<ellipse cx="441.36" cy="233.58" rx="0.99" ry="0.98" fill="#8242a6"/>
<ellipse cx="440.75" cy="217.83" rx="0.98" ry="1.03" fill="#6e3096"/>
<ellipse cx="368.12" cy="216.68" rx="1.25" ry="1.18" fill="#8e4eae"/>
<ellipse cx="384.21" cy="215.06" rx="0.92" ry="0.93" fill="#682c90"/>
<ellipse cx="408.11" cy="224.29" rx="1.47" ry="1.23" fill="#8242a6"/>
<ellipse cx="364.59" cy="221.52" rx="1.42" ry="1.19" fill="#74359a"/>
<ellipse cx="379.16" cy="239.96" rx="1.27" ry="1.21" fill="#74359a"/>
<ellipse cx="407.14" cy="264.28" rx="1.1" ry="1.08" fill="#74359a"/>
<ellipse cx="353.32" cy="237.71" rx="0.84" ry="0.99" fill="#8e4eae"/>
<ellipse cx="410" cy="261.25" rx="1.03" ry="1.03" fill="#6e3096"/>
<ellipse cx="351.88" cy="238.3" rx="0.83" ry="1.02" fill="#682c90"/>
<ellipse cx="436.98" cy="239.62" rx="1" ry="1.1" fill="#8242a6"/>
<ellipse cx="395" cy="254.98" rx="0.97" ry="1.15" fill="#6e3096"/>
<ellipse cx="424.4" cy="212.34" rx="1.11" ry="0.96" fill="#8242a6"/>
<ellipse cx="388.44" cy="246.76" rx="1.52" ry="1.18" fill="#74359a"/>
<ellipse cx="366.2" cy="243.86" rx="0.96" ry="0.9" fill="#6e3096"/>
<ellipse cx="370.12" cy="256.5" rx="1.45" ry="1.19" fill="#682c90"/>
<ellipse cx="353.11" cy="217.97" rx="1.19" ry="1.03" fill="#8e4eae"/>
<ellipse cx="432.17" cy="256.35" rx="1.17" ry="1.15" fill="#8242a6"/>
<ellipse cx="433.49" cy="221.44" rx="1.2" ry="1.23" fill="#6e3096"/>
<ellipse cx="382.6" cy="244.44" rx="0.96" ry="1" fill="#8242a6"/>
<ellipse cx="412.15" cy="240.24" rx="1.33" ry="1.06" fill="#6e3096"/>
<ellipse cx="383.26" cy="259.07" rx="1.23" ry="0.98" fill="#74359a"/>
<ellipse cx="376.84" cy="240.61" rx="1.44" ry="1.16" fill="#682c90"/>
<ellipse cx="360.44" cy="263.96" rx="1.42" ry="1.09" fill="#8e4eae"/>
<ellipse cx="457.57" cy="229.04" rx="0.97" ry="0.96" fill="#74359a"/>
<ellipse cx="449.44" cy="227.69" rx="0.98" ry="0.87" fill="#8242a6"/>
<ellipse cx="402.84" cy="221.31" rx="1.14" ry="0.94" fill="#74359a"/>
<ellipse cx="423.23" cy="237.68" rx="1.24" ry="1.17" fill="#682c90"/>
<ellipse cx="423.74" cy="236.24" rx="1.5" ry="1.16" fill="#8242a6"/>
<ellipse cx="442.33" cy="248.1" rx="1.16" ry="1.09" fill="#682c90"/>
<ellipse cx="428.46" cy="265.5" rx="0.81" ry="0.9" fill="#8e4eae"/>
<ellipse cx="378.2" cy="212.93" rx="1.95" ry="1.3" fill="#fff8fe" transform="rotate(-30 378.2 212.93)"/>
<ellipse cx="458.67" cy="248.82" rx="2.4" ry="1.6" fill="#fff8fe" transform="rotate(-30 458.67 248.82)"/>
<ellipse cx="359.97" cy="247.13" rx="1.35" ry="0.9" fill="#fff8fe" transform="rotate(-30 359.97 247.13)"/>
<ellipse cx="368.58" cy="258.25" rx="2.4" ry="1.6" fill="#fff8fe" transform="rotate(-30 368.58 258.25)"/>
<ellipse cx="421.51" cy="246.83" rx="1.35" ry="0.9" fill="#fff8fe" transform="rotate(-30 421.51 246.83)"/>
<ellipse cx="375.65" cy="251.53" rx="1.95" ry="1.3" fill="#fff8fe" transform="rotate(-30 375.65 251.53)"/>
<ellipse cx="431.56" cy="216.98" rx="1.05" ry="0.7" fill="#fff8fe" transform="rotate(-30 431.56 216.98)"/>
<ellipse cx="444.33" cy="235.73" rx="2.4" ry="1.6" fill="#fff8fe" transform="rotate(-30 444.33 235.73)"/>
<ellipse cx="411.19" cy="217.49" rx="1.95" ry="1.3" fill="#fff8fe" transform="rotate(-30 411.19 217.49)"/>
<ellipse cx="437.26" cy="265.59" rx="1.65" ry="1.1" fill="#fff8fe" transform="rotate(-30 437.26 265.59)"/>
<ellipse cx="406.82" cy="243.58" rx="2.4" ry="1.6" fill="#fff8fe" transform="rotate(-30 406.82 243.58)"/>
<ellipse cx="363.86" cy="220.5" rx="1.95" ry="1.3" fill="#fff8fe" transform="rotate(-30 363.86 220.5)"/>
<ellipse cx="423.96" cy="209.88" rx="1.05" ry="0.7" fill="#fff8fe" transform="rotate(-30 423.96 209.88)"/>
<ellipse cx="357.6" cy="218.36" rx="1.95" ry="1.3" fill="#fff8fe" transform="rotate(-30 357.6 218.36)"/>
<ellipse cx="352.8" cy="228.36" rx="1.05" ry="0.7" fill="#fff8fe" transform="rotate(-30 352.8 228.36)"/>
<ellipse cx="366.6" cy="213.47" rx="1.65" ry="1.1" fill="#fff8fe" transform="rotate(-30 366.6 213.47)"/>
<ellipse cx="433.57" cy="230.51" rx="1.65" ry="1.1" fill="#fff8fe" transform="rotate(-30 433.57 230.51)"/>
<ellipse cx="459.85" cy="214.99" rx="1.65" ry="1.1" fill="#fff8fe" transform="rotate(-30 459.85 214.99)"/>
<ellipse cx="350.44" cy="213.78" rx="1.05" ry="0.7" fill="#fff8fe" transform="rotate(-30 350.44 213.78)"/>
<ellipse cx="367.4" cy="234.43" rx="1.95" ry="1.3" fill="#fff8fe" transform="rotate(-30 367.4 234.43)"/>
<ellipse cx="424.73" cy="259.29" rx="1.95" ry="1.3" fill="#fff8fe" transform="rotate(-30 424.73 259.29)"/>
<ellipse cx="426.11" cy="214.22" rx="1.35" ry="0.9" fill="#fff8fe" transform="rotate(-30 426.11 214.22)"/>
<ellipse cx="384.35" cy="226.23" rx="1.35" ry="0.9" fill="#fff8fe" transform="rotate(-30 384.35 226.23)"/>
<ellipse cx="355.17" cy="259.9" rx="1.65" ry="1.1" fill="#fff8fe" transform="rotate(-30 355.17 259.9)"/>
<ellipse cx="364.4" cy="245.25" rx="1.95" ry="1.3" fill="#fff8fe" transform="rotate(-30 364.4 245.25)"/>
<ellipse cx="350.65" cy="235.84" rx="1.65" ry="1.1" fill="#fff8fe" transform="rotate(-30 350.65 235.84)"/>
<ellipse cx="358.34" cy="228.58" rx="1.05" ry="0.7" fill="#fff8fe" transform="rotate(-30 358.34 228.58)"/>
<ellipse cx="361.88" cy="233.59" rx="1.65" ry="1.1" fill="#fff8fe" transform="rotate(-30 361.88 233.59)"/>
<ellipse cx="439.53" cy="252" rx="1.35" ry="0.9" fill="#fff8fe" transform="rotate(-30 439.53 252)"/>
<ellipse cx="381.89" cy="211.8" rx="1.35" ry="0.9" fill="#fff8fe" transform="rotate(-30 381.89 211.8)"/>
<ellipse cx="418.5" cy="214.12" rx="1.05" ry="0.7" fill="#fff8fe" transform="rotate(-30 418.5 214.12)"/>
<ellipse cx="451.44" cy="241.54" rx="1.95" ry="1.3" fill="#fff8fe" transform="rotate(-30 451.44 241.54)"/>
<ellipse cx="387.11" cy="214.71" rx="1.35" ry="0.9" fill="#fff8fe" transform="rotate(-30 387.11 214.71)"/>
<ellipse cx="383.55" cy="252.97" rx="1.05" ry="0.7" fill="#fff8fe" transform="rotate(-30 383.55 252.97)"/>
<ellipse cx="430.76" cy="253.72" rx="1.05" ry="0.7" fill="#fff8fe" transform="rotate(-30 430.76 253.72)"/>
<ellipse cx="454.66" cy="218.49" rx="1.95" ry="1.3" fill="#fff8fe" transform="rotate(-30 454.66 218.49)"/>
<ellipse cx="419.03" cy="259.33" rx="1.65" ry="1.1" fill="#fff8fe" transform="rotate(-30 419.03 259.33)"/>
<ellipse cx="444.57" cy="211.18" rx="1.05" ry="0.7" fill="#fff8fe" transform="rotate(-30 444.57 211.18)"/>
<ellipse cx="403" cy="258.71" rx="2.4" ry="1.6" fill="#fff8fe" transform="rotate(-30 403 258.71)"/>
<ellipse cx="376.75" cy="236.65" rx="1.35" ry="0.9" fill="#fff8fe" transform="rotate(-30 376.75 236.65)"/>
<ellipse cx="377.5" cy="227" rx="3.38" ry="2.1" fill="#fff8fe" transform="rotate(-30 377.5 227)"/>
<ellipse cx="391.3" cy="222.8" rx="2.6" ry="1.68" fill="#fff8fe" transform="rotate(-30 391.3 222.8)"/>
<ellipse cx="392.3" cy="227" rx="2.34" ry="1.58" fill="#fff8fe" transform="rotate(-30 392.3 227)"/>
<ellipse cx="400.8" cy="228" rx="2.6" ry="1.68" fill="#fff8fe" transform="rotate(-30 400.8 228)"/>
<ellipse cx="405" cy="232.3" rx="2.34" ry="1.58" fill="#fff8fe" transform="rotate(-30 405 232.3)"/>
<ellipse cx="403" cy="219.6" rx="2.6" ry="1.68" fill="#fff8fe" transform="rotate(-30 403 219.6)"/>
<ellipse cx="407" cy="214.3" rx="2.34" ry="1.47" fill="#fff8fe" transform="rotate(-30 407 214.3)"/>
<ellipse cx="414.5" cy="226" rx="2.86" ry="1.89" fill="#fff8fe" transform="rotate(-30 414.5 226)"/>
<ellipse cx="418.8" cy="221.7" rx="2.34" ry="1.58" fill="#fff8fe" transform="rotate(-30 418.8 221.7)"/>
<ellipse cx="425" cy="222.8" rx="3.9" ry="2.52" fill="#fff8fe" transform="rotate(-30 425 222.8)"/>
<ellipse cx="421" cy="227" rx="2.34" ry="1.58" fill="#fff8fe" transform="rotate(-30 421 227)"/>
<ellipse cx="413.5" cy="236.5" rx="2.34" ry="1.58" fill="#fff8fe" transform="rotate(-30 413.5 236.5)"/>
<ellipse cx="395.5" cy="238.7" rx="2.08" ry="1.47" fill="#fff8fe" transform="rotate(-30 395.5 238.7)"/>
<ellipse cx="389" cy="245" rx="2.34" ry="1.58" fill="#fff8fe" transform="rotate(-30 389 245)"/>
<ellipse cx="369" cy="246" rx="2.08" ry="1.37" fill="#fff8fe" transform="rotate(-30 369 246)"/>
<ellipse cx="372.2" cy="236.5" rx="2.08" ry="1.47" fill="#fff8fe" transform="rotate(-30 372.2 236.5)"/>
<ellipse cx="359.5" cy="243" rx="1.95" ry="1.37" fill="#fff8fe" transform="rotate(-30 359.5 243)"/>
<ellipse cx="435.7" cy="236.5" rx="2.6" ry="1.68" fill="#fff8fe" transform="rotate(-30 435.7 236.5)"/>
<ellipse cx="440" cy="246" rx="2.86" ry="1.89" fill="#fff8fe" transform="rotate(-30 440 246)"/>
<ellipse cx="446.3" cy="249.3" rx="2.34" ry="1.58" fill="#fff8fe" transform="rotate(-30 446.3 249.3)"/>
<ellipse cx="452.7" cy="255.6" rx="2.86" ry="1.89" fill="#fff8fe" transform="rotate(-30 452.7 255.6)"/>
<ellipse cx="450.6" cy="213.2" rx="2.86" ry="1.89" fill="#fff8fe" transform="rotate(-30 450.6 213.2)"/>
<ellipse cx="444.2" cy="221.7" rx="2.34" ry="1.58" fill="#fff8fe" transform="rotate(-30 444.2 221.7)"/>
<ellipse cx="433.6" cy="243" rx="2.08" ry="1.37" fill="#fff8fe" transform="rotate(-30 433.6 243)"/>
<ellipse cx="401.8" cy="244" rx="2.08" ry="1.37" fill="#fff8fe" transform="rotate(-30 401.8 244)"/>
</g></g>
<line x1="353" y1="218.5" x2="366" y2="211" stroke="#fff6fd" stroke-width="1.4"/>
<g clip-path="url(#c13)"><g filter="url(#soft)">
<rect x="440.25" y="178.05" width="150" height="120" filter="url(#h13)" transform="rotate(-30 515.25 238.05)"/>
<ellipse cx="489.1" cy="248.52" rx="1.15" ry="1.02" fill="#682c90"/>
<ellipse cx="533.28" cy="258.91" rx="0.87" ry="1.01" fill="#682c90"/>
<ellipse cx="518.65" cy="221.89" rx="0.75" ry="0.87" fill="#8e4eae"/>
<ellipse cx="535.23" cy="266.19" rx="0.97" ry="1.15" fill="#682c90"/>
<ellipse cx="547.16" cy="259.99" rx="1" ry="0.85" fill="#8e4eae"/>
<ellipse cx="564" cy="254.65" rx="0.89" ry="0.85" fill="#682c90"/>
<ellipse cx="542.92" cy="241.67" rx="1.15" ry="0.92" fill="#8242a6"/>
<ellipse cx="530.29" cy="246.82" rx="1.07" ry="0.89" fill="#6e3096"/>
<ellipse cx="567.95" cy="248.84" rx="0.99" ry="0.97" fill="#682c90"/>
<ellipse cx="540.09" cy="240.08" rx="0.92" ry="0.87" fill="#682c90"/>
<ellipse cx="488.48" cy="235.76" rx="1.23" ry="0.99" fill="#8e4eae"/>
<ellipse cx="523.63" cy="240.88" rx="1.12" ry="0.98" fill="#682c90"/>
<ellipse cx="475.22" cy="234.12" rx="1" ry="1" fill="#8e4eae"/>
<ellipse cx="539" cy="262.51" rx="0.8" ry="0.77" fill="#682c90"/>
<ellipse cx="536.75" cy="234.95" rx="0.99" ry="0.85" fill="#8e4eae"/>
<ellipse cx="488.26" cy="252.74" rx="0.94" ry="0.89" fill="#8242a6"/>
<ellipse cx="532.27" cy="260.73" rx="1.2" ry="1.03" fill="#682c90"/>
<ellipse cx="483.97" cy="244.67" rx="0.8" ry="0.98" fill="#6e3096"/>
<ellipse cx="524.26" cy="242" rx="0.73" ry="0.82" fill="#682c90"/>
<ellipse cx="535.22" cy="216.14" rx="0.85" ry="0.84" fill="#74359a"/>
<ellipse cx="525.57" cy="255.4" rx="1.25" ry="1.03" fill="#8e4eae"/>
<ellipse cx="530.99" cy="239.55" rx="0.69" ry="0.8" fill="#8242a6"/>
<ellipse cx="493.71" cy="225" rx="1.26" ry="0.99" fill="#74359a"/>
<ellipse cx="517.64" cy="257.92" rx="0.74" ry="0.76" fill="#8242a6"/>
<ellipse cx="514.88" cy="264.59" rx="0.87" ry="0.96" fill="#8e4eae"/>
<ellipse cx="483.48" cy="254.93" rx="1.05" ry="0.9" fill="#682c90"/>
<ellipse cx="489.03" cy="248.45" rx="1.1" ry="1.09" fill="#8242a6"/>
<ellipse cx="486.58" cy="253.47" rx="0.89" ry="0.99" fill="#8e4eae"/>
<ellipse cx="499.06" cy="211.95" rx="0.76" ry="0.91" fill="#74359a"/>
<ellipse cx="465.95" cy="261.85" rx="0.91" ry="1.01" fill="#8242a6"/>
<ellipse cx="513.16" cy="241.14" rx="0.94" ry="0.88" fill="#8242a6"/>
<ellipse cx="564.24" cy="218.18" rx="0.93" ry="0.77" fill="#8242a6"/>
<ellipse cx="484.68" cy="226.94" rx="0.88" ry="0.91" fill="#74359a"/>
<ellipse cx="471.81" cy="237.54" rx="1.27" ry="0.98" fill="#6e3096"/>
<ellipse cx="465.73" cy="240.03" rx="0.77" ry="0.8" fill="#74359a"/>
<ellipse cx="557.88" cy="240.62" rx="1" ry="0.8" fill="#74359a"/>
<ellipse cx="559.99" cy="248.31" rx="0.66" ry="0.79" fill="#8242a6"/>
<ellipse cx="489.65" cy="256.22" rx="0.87" ry="0.77" fill="#682c90"/>
<ellipse cx="562.49" cy="239.17" rx="1" ry="1.12" fill="#8e4eae"/>
<ellipse cx="503.65" cy="212.86" rx="0.83" ry="0.97" fill="#74359a"/>
<ellipse cx="475.88" cy="239.96" rx="1.07" ry="1.07" fill="#6e3096"/>
<ellipse cx="477.17" cy="240.62" rx="0.71" ry="0.85" fill="#8242a6"/>
<ellipse cx="464.3" cy="250.87" rx="0.98" ry="0.79" fill="#8242a6"/>
<ellipse cx="569.46" cy="255.51" rx="1.19" ry="0.92" fill="#6e3096"/>
<ellipse cx="534.16" cy="249.4" rx="0.95" ry="1.12" fill="#74359a"/>
<ellipse cx="494.47" cy="266.08" rx="0.82" ry="0.94" fill="#8242a6"/>
<ellipse cx="477.22" cy="226.8" rx="0.89" ry="0.96" fill="#6e3096"/>
<ellipse cx="497.02" cy="262.75" rx="0.86" ry="0.85" fill="#8242a6"/>
<ellipse cx="568.77" cy="252.84" rx="0.83" ry="0.94" fill="#8242a6"/>
<ellipse cx="523.74" cy="263.93" rx="1.08" ry="0.94" fill="#8e4eae"/>
<ellipse cx="551.21" cy="211.44" rx="1.35" ry="1.11" fill="#8e4eae"/>
<ellipse cx="480.39" cy="215.61" rx="0.83" ry="0.99" fill="#8242a6"/>
<ellipse cx="559.04" cy="242.07" rx="0.94" ry="1.04" fill="#74359a"/>
<ellipse cx="541.87" cy="246.47" rx="0.75" ry="0.92" fill="#6e3096"/>
<ellipse cx="554.56" cy="217.9" rx="1.22" ry="1.09" fill="#682c90"/>
<ellipse cx="540.42" cy="233.98" rx="1.1" ry="1.05" fill="#682c90"/>
<ellipse cx="526.97" cy="223.57" rx="1.04" ry="0.96" fill="#74359a"/>
<ellipse cx="557.78" cy="261.05" rx="0.83" ry="1.01" fill="#6e3096"/>
<ellipse cx="537.02" cy="233.94" rx="0.95" ry="1.12" fill="#74359a"/>
<ellipse cx="560.19" cy="262.45" rx="1.23" ry="1.08" fill="#682c90"/>
<ellipse cx="539.21" cy="247.5" rx="1.14" ry="0.99" fill="#8242a6"/>
<ellipse cx="474.6" cy="219.88" rx="0.89" ry="0.79" fill="#6e3096"/>
<ellipse cx="527.19" cy="238.7" rx="1.05" ry="1.06" fill="#8242a6"/>
<ellipse cx="549.4" cy="238.01" rx="0.82" ry="0.98" fill="#8e4eae"/>
<ellipse cx="554.21" cy="239.59" rx="0.98" ry="0.86" fill="#8e4eae"/>
<ellipse cx="560.02" cy="248.43" rx="1.06" ry="0.9" fill="#74359a"/>
<ellipse cx="562.09" cy="226.76" rx="1.45" ry="1.12" fill="#74359a"/>
<ellipse cx="509.58" cy="232.99" rx="0.82" ry="0.98" fill="#74359a"/>
<ellipse cx="484.38" cy="218.04" rx="1.07" ry="0.88" fill="#8242a6"/>
<ellipse cx="518.6" cy="234.18" rx="0.88" ry="0.97" fill="#74359a"/>
<ellipse cx="566.72" cy="214.83" rx="1.02" ry="0.8" fill="#682c90"/>
<ellipse cx="521.17" cy="245.28" rx="0.77" ry="0.88" fill="#74359a"/>
<ellipse cx="481.1" cy="212.94" rx="1.04" ry="0.92" fill="#682c90"/>
<ellipse cx="537.91" cy="249.38" rx="0.94" ry="1.07" fill="#6e3096"/>
<ellipse cx="466.86" cy="244.88" rx="1.14" ry="0.96" fill="#6e3096"/>
<ellipse cx="542.37" cy="214.97" rx="1.07" ry="1.06" fill="#8242a6"/>
<ellipse cx="487.55" cy="225.71" rx="0.99" ry="0.98" fill="#6e3096"/>
<ellipse cx="491.7" cy="251.79" rx="0.73" ry="0.83" fill="#74359a"/>
<ellipse cx="554.05" cy="264.34" rx="0.95" ry="0.85" fill="#682c90"/>
<ellipse cx="471.87" cy="237.66" rx="1.14" ry="0.99" fill="#74359a"/>
<ellipse cx="523.44" cy="233.54" rx="1.07" ry="1.03" fill="#682c90"/>
<ellipse cx="552.27" cy="216.86" rx="0.87" ry="1.03" fill="#8e4eae"/>
<ellipse cx="471.97" cy="254.88" rx="0.87" ry="1.08" fill="#8e4eae"/>
<ellipse cx="560.86" cy="249.7" rx="0.92" ry="1" fill="#682c90"/>
<ellipse cx="477.39" cy="260.97" rx="0.73" ry="0.76" fill="#8242a6"/>
<ellipse cx="498.86" cy="220.7" rx="0.88" ry="0.81" fill="#682c90"/>
<ellipse cx="529.35" cy="263.1" rx="1.09" ry="1.07" fill="#6e3096"/>
<ellipse cx="474.37" cy="232.98" rx="0.92" ry="0.83" fill="#682c90"/>
<ellipse cx="501.85" cy="210.95" rx="1.34" ry="1.07" fill="#8242a6"/>
<ellipse cx="504.42" cy="214.34" rx="1.03" ry="0.85" fill="#682c90"/>
<ellipse cx="525.46" cy="241.35" rx="0.91" ry="1.06" fill="#8e4eae"/>
<ellipse cx="553.48" cy="238.75" rx="1.16" ry="0.93" fill="#682c90"/>
<ellipse cx="521.54" cy="241.17" rx="1.06" ry="0.83" fill="#682c90"/>
<ellipse cx="465.85" cy="225.22" rx="0.82" ry="0.92" fill="#8242a6"/>
<ellipse cx="559.54" cy="232.42" rx="1.18" ry="1" fill="#8e4eae"/>
<ellipse cx="507.79" cy="241.87" rx="0.7" ry="0.77" fill="#8e4eae"/>
<ellipse cx="532.86" cy="220.61" rx="0.9" ry="1.1" fill="#682c90"/>
<ellipse cx="536.86" cy="235.02" rx="1.04" ry="1.04" fill="#6e3096"/>
<ellipse cx="560.38" cy="238.31" rx="0.92" ry="1.1" fill="#8e4eae"/>
<ellipse cx="566.15" cy="242.96" rx="0.98" ry="0.93" fill="#6e3096"/>
<ellipse cx="516.16" cy="213.19" rx="0.98" ry="1.07" fill="#682c90"/>
<ellipse cx="473.33" cy="233.53" rx="1.16" ry="1.12" fill="#682c90"/>
<ellipse cx="464.88" cy="256.64" rx="0.88" ry="0.83" fill="#8e4eae"/>
<ellipse cx="477.11" cy="218.57" rx="0.96" ry="1.08" fill="#74359a"/>
<ellipse cx="468.24" cy="219.34" rx="1.07" ry="0.94" fill="#682c90"/>
<ellipse cx="514.6" cy="243.91" rx="1.01" ry="0.85" fill="#8e4eae"/>
<ellipse cx="468.01" cy="243.43" rx="0.81" ry="0.91" fill="#682c90"/>
<ellipse cx="560.25" cy="251.16" rx="1.05" ry="0.9" fill="#682c90"/>
<ellipse cx="557.38" cy="248.07" rx="1.18" ry="1.15" fill="#682c90"/>
<ellipse cx="526.12" cy="253.15" rx="1.2" ry="1.1" fill="#682c90"/>
<ellipse cx="562.75" cy="249.48" rx="1.12" ry="1.07" fill="#74359a"/>
<ellipse cx="507.62" cy="255.7" rx="0.84" ry="0.91" fill="#8e4eae"/>
<ellipse cx="494.51" cy="235.3" rx="1.24" ry="1.05" fill="#74359a"/>
<ellipse cx="510.63" cy="250.09" rx="1" ry="1.07" fill="#682c90"/>
<ellipse cx="539.09" cy="236.02" rx="0.92" ry="0.84" fill="#8242a6"/>
<ellipse cx="559.89" cy="249.65" rx="0.96" ry="1.11" fill="#6e3096"/>
<ellipse cx="496.82" cy="265.37" rx="0.71" ry="0.76" fill="#8e4eae"/>
<ellipse cx="476.02" cy="259.45" rx="1.13" ry="0.93" fill="#74359a"/>
<ellipse cx="469.2" cy="262.75" rx="0.92" ry="0.78" fill="#682c90"/>
<ellipse cx="513.73" cy="242.1" rx="1.01" ry="0.98" fill="#74359a"/>
<ellipse cx="538.73" cy="263.93" rx="0.74" ry="0.89" fill="#8242a6"/>
<ellipse cx="505.1" cy="232.92" rx="1.22" ry="1.11" fill="#74359a"/>
<ellipse cx="564.12" cy="218.58" rx="0.97" ry="0.98" fill="#74359a"/>
<ellipse cx="492.71" cy="237.82" rx="1.27" ry="1.05" fill="#8e4eae"/>
<ellipse cx="514.91" cy="215.64" rx="0.79" ry="0.96" fill="#8242a6"/>
<ellipse cx="494.18" cy="264.86" rx="0.95" ry="0.94" fill="#74359a"/>
<ellipse cx="468.72" cy="244.39" rx="0.92" ry="0.83" fill="#74359a"/>
<ellipse cx="535.82" cy="228.05" rx="0.71" ry="0.87" fill="#8e4eae"/>
<ellipse cx="479.01" cy="228.37" rx="0.86" ry="1.07" fill="#8e4eae"/>
<ellipse cx="506.92" cy="248.42" rx="0.81" ry="0.92" fill="#8242a6"/>
<ellipse cx="542.98" cy="253.83" rx="1.82" ry="1.3" fill="#fff8fe" transform="rotate(-30 542.98 253.83)"/>
<ellipse cx="487.46" cy="259.51" rx="2.52" ry="1.8" fill="#fff8fe" transform="rotate(-30 487.46 259.51)"/>
<ellipse cx="513.04" cy="210.14" rx="1.4" ry="1" fill="#fff8fe" transform="rotate(-30 513.04 210.14)"/>
<ellipse cx="569.28" cy="212.07" rx="1.12" ry="0.8" fill="#fff8fe" transform="rotate(-30 569.28 212.07)"/>
<ellipse cx="491.09" cy="255.22" rx="2.52" ry="1.8" fill="#fff8fe" transform="rotate(-30 491.09 255.22)"/>
<ellipse cx="551.79" cy="258.04" rx="1.4" ry="1" fill="#fff8fe" transform="rotate(-30 551.79 258.04)"/>
<ellipse cx="461.28" cy="251.98" rx="1.12" ry="0.8" fill="#fff8fe" transform="rotate(-30 461.28 251.98)"/>
<ellipse cx="543.51" cy="223.92" rx="0.84" ry="0.6" fill="#fff8fe" transform="rotate(-30 543.51 223.92)"/>
<ellipse cx="520.79" cy="251.61" rx="1.12" ry="0.8" fill="#fff8fe" transform="rotate(-30 520.79 251.61)"/>
<ellipse cx="471.54" cy="259.98" rx="1.82" ry="1.3" fill="#fff8fe" transform="rotate(-30 471.54 259.98)"/>
<ellipse cx="550.08" cy="227.2" rx="1.4" ry="1" fill="#fff8fe" transform="rotate(-30 550.08 227.2)"/>
<ellipse cx="467.12" cy="233.59" rx="1.12" ry="0.8" fill="#fff8fe" transform="rotate(-30 467.12 233.59)"/>
<ellipse cx="555.52" cy="215.97" rx="1.12" ry="0.8" fill="#fff8fe" transform="rotate(-30 555.52 215.97)"/>
<ellipse cx="471.64" cy="220.88" rx="1.4" ry="1" fill="#fff8fe" transform="rotate(-30 471.64 220.88)"/>
<ellipse cx="484.12" cy="248.45" rx="1.4" ry="1" fill="#fff8fe" transform="rotate(-30 484.12 248.45)"/>
<ellipse cx="504.06" cy="219.9" rx="2.52" ry="1.8" fill="#fff8fe" transform="rotate(-30 504.06 219.9)"/>
<ellipse cx="495.26" cy="213.42" rx="1.4" ry="1" fill="#fff8fe" transform="rotate(-30 495.26 213.42)"/>
<ellipse cx="566.55" cy="236.13" rx="1.82" ry="1.3" fill="#fff8fe" transform="rotate(-30 566.55 236.13)"/>
<ellipse cx="502.82" cy="213.21" rx="2.52" ry="1.8" fill="#fff8fe" transform="rotate(-30 502.82 213.21)"/>
<ellipse cx="546.38" cy="230.75" rx="2.52" ry="1.8" fill="#fff8fe" transform="rotate(-30 546.38 230.75)"/>
<ellipse cx="467.51" cy="217.3" rx="0.84" ry="0.6" fill="#fff8fe" transform="rotate(-30 467.51 217.3)"/>
<ellipse cx="499.02" cy="257.36" rx="2.52" ry="1.8" fill="#fff8fe" transform="rotate(-30 499.02 257.36)"/>
<ellipse cx="461.43" cy="228.25" rx="1.82" ry="1.3" fill="#fff8fe" transform="rotate(-30 461.43 228.25)"/>
<ellipse cx="524.06" cy="233.07" rx="2.52" ry="1.8" fill="#fff8fe" transform="rotate(-30 524.06 233.07)"/>
<ellipse cx="565.5" cy="250.95" rx="1.82" ry="1.3" fill="#fff8fe" transform="rotate(-30 565.5 250.95)"/>
<ellipse cx="527.06" cy="220.87" rx="1.82" ry="1.3" fill="#fff8fe" transform="rotate(-30 527.06 220.87)"/>
<ellipse cx="505.3" cy="248.16" rx="1.12" ry="0.8" fill="#fff8fe" transform="rotate(-30 505.3 248.16)"/>
<ellipse cx="509.6" cy="234.47" rx="1.4" ry="1" fill="#fff8fe" transform="rotate(-30 509.6 234.47)"/>
<ellipse cx="552.58" cy="265.25" rx="1.4" ry="1" fill="#fff8fe" transform="rotate(-30 552.58 265.25)"/>
<ellipse cx="535.35" cy="251.08" rx="1.4" ry="1" fill="#fff8fe" transform="rotate(-30 535.35 251.08)"/>
<ellipse cx="550.88" cy="211.36" rx="0.84" ry="0.6" fill="#fff8fe" transform="rotate(-30 550.88 211.36)"/>
<ellipse cx="543.87" cy="265.37" rx="1.4" ry="1" fill="#fff8fe" transform="rotate(-30 543.87 265.37)"/>
<ellipse cx="560.31" cy="259.25" rx="1.4" ry="1" fill="#fff8fe" transform="rotate(-30 560.31 259.25)"/>
<ellipse cx="463.29" cy="214.01" rx="2.52" ry="1.8" fill="#fff8fe" transform="rotate(-30 463.29 214.01)"/>
<ellipse cx="501.98" cy="233.56" rx="1.82" ry="1.3" fill="#fff8fe" transform="rotate(-30 501.98 233.56)"/>
<ellipse cx="470.86" cy="264.24" rx="1.12" ry="0.8" fill="#fff8fe" transform="rotate(-30 470.86 264.24)"/>
<ellipse cx="567.92" cy="255.19" rx="0.84" ry="0.6" fill="#fff8fe" transform="rotate(-30 567.92 255.19)"/>
<ellipse cx="461.8" cy="233.05" rx="1.12" ry="0.8" fill="#fff8fe" transform="rotate(-30 461.8 233.05)"/>
<ellipse cx="570.02" cy="235.35" rx="1.12" ry="0.8" fill="#fff8fe" transform="rotate(-30 570.02 235.35)"/>
<ellipse cx="566.68" cy="228.17" rx="2.52" ry="1.8" fill="#fff8fe" transform="rotate(-30 566.68 228.17)"/>
<ellipse cx="547.45" cy="239.53" rx="0.84" ry="0.6" fill="#fff8fe" transform="rotate(-30 547.45 239.53)"/>
<ellipse cx="506.73" cy="244.57" rx="1.82" ry="1.3" fill="#fff8fe" transform="rotate(-30 506.73 244.57)"/>
<ellipse cx="467.01" cy="245.58" rx="1.4" ry="1" fill="#fff8fe" transform="rotate(-30 467.01 245.58)"/>
<ellipse cx="554.9" cy="251.6" rx="1.82" ry="1.3" fill="#fff8fe" transform="rotate(-30 554.9 251.6)"/>
<ellipse cx="478.72" cy="237.88" rx="1.12" ry="0.8" fill="#fff8fe" transform="rotate(-30 478.72 237.88)"/>
</g></g>
<g clip-path="url(#c14)"><g filter="url(#soft)">
<rect x="549.15" y="178.05" width="150" height="120" filter="url(#h14)" transform="rotate(-30 624.15 238.05)"/>
<ellipse cx="582.36" cy="249.5" rx="0.95" ry="1.01" fill="#682c90"/>
<ellipse cx="598.19" cy="251.27" rx="1.05" ry="1.01" fill="#8242a6"/>
<ellipse cx="663.78" cy="232.05" rx="1.02" ry="1.11" fill="#8242a6"/>
<ellipse cx="666.83" cy="230.03" rx="0.75" ry="0.85" fill="#6e3096"/>
<ellipse cx="629.61" cy="247.32" rx="0.7" ry="0.82" fill="#74359a"/>
<ellipse cx="606.83" cy="214.5" rx="0.83" ry="0.83" fill="#8e4eae"/>
<ellipse cx="676.28" cy="234.58" rx="1.08" ry="0.99" fill="#74359a"/>
<ellipse cx="638.76" cy="230.38" rx="1.16" ry="1.1" fill="#8e4eae"/>
<ellipse cx="591.61" cy="235.37" rx="0.88" ry="0.84" fill="#8242a6"/>
<ellipse cx="581.89" cy="256.02" rx="0.68" ry="0.79" fill="#8242a6"/>
<ellipse cx="588.19" cy="233.07" rx="0.87" ry="1.02" fill="#6e3096"/>
<ellipse cx="622.07" cy="248.52" rx="0.92" ry="0.96" fill="#8e4eae"/>
<ellipse cx="619.88" cy="233.4" rx="1.12" ry="1.08" fill="#8242a6"/>
<ellipse cx="596.11" cy="258.7" rx="1.22" ry="1.13" fill="#74359a"/>
<ellipse cx="622.99" cy="224.87" rx="1.18" ry="0.93" fill="#8e4eae"/>
<ellipse cx="615.98" cy="229.43" rx="0.91" ry="0.98" fill="#8e4eae"/>
<ellipse cx="603.13" cy="220.46" rx="1.2" ry="1" fill="#8e4eae"/>
<ellipse cx="581.14" cy="215.33" rx="1.07" ry="0.83" fill="#74359a"/>
<ellipse cx="633.3" cy="225.77" rx="1.46" ry="1.12" fill="#8242a6"/>
<ellipse cx="583.1" cy="263.84" rx="0.97" ry="1.06" fill="#74359a"/>
<ellipse cx="663.8" cy="224.75" rx="0.97" ry="0.85" fill="#6e3096"/>
<ellipse cx="606.29" cy="250.56" rx="1.2" ry="1.11" fill="#74359a"/>
<ellipse cx="634.34" cy="263.04" rx="1.18" ry="1.05" fill="#6e3096"/>
<ellipse cx="591.98" cy="237.5" rx="0.91" ry="0.85" fill="#8e4eae"/>
<ellipse cx="653.22" cy="227.57" rx="0.91" ry="1.12" fill="#6e3096"/>
<ellipse cx="639.37" cy="234.06" rx="0.99" ry="1.06" fill="#74359a"/>
<ellipse cx="581.98" cy="221.14" rx="0.93" ry="1.03" fill="#682c90"/>
<ellipse cx="622.77" cy="216.9" rx="1.32" ry="1.11" fill="#74359a"/>
<ellipse cx="598.3" cy="230.63" rx="0.94" ry="0.92" fill="#682c90"/>
<ellipse cx="580.58" cy="255.48" rx="0.93" ry="0.82" fill="#74359a"/>
<ellipse cx="594.6" cy="246.35" rx="1.31" ry="1.01" fill="#8242a6"/>
<ellipse cx="634.3" cy="256.32" rx="1.03" ry="1.03" fill="#6e3096"/>
<ellipse cx="599.28" cy="236.35" rx="0.93" ry="1.12" fill="#8242a6"/>
<ellipse cx="643.3" cy="262.58" rx="1.22" ry="0.97" fill="#74359a"/>
<ellipse cx="578.29" cy="257.24" rx="0.97" ry="0.8" fill="#74359a"/>
<ellipse cx="669.99" cy="213.65" rx="0.88" ry="1.07" fill="#8242a6"/>
<ellipse cx="675.6" cy="259.87" rx="0.84" ry="0.81" fill="#8e4eae"/>
<ellipse cx="662.89" cy="250.38" rx="0.97" ry="0.76" fill="#74359a"/>
<ellipse cx="597.38" cy="248.29" rx="1.08" ry="1.01" fill="#74359a"/>
<ellipse cx="655.66" cy="250.76" rx="0.94" ry="0.75" fill="#8242a6"/>
<ellipse cx="661.91" cy="232.27" rx="1.08" ry="0.93" fill="#8242a6"/>
<ellipse cx="606.45" cy="224.06" rx="1.04" ry="0.86" fill="#6e3096"/>
<ellipse cx="646.05" cy="264.49" rx="0.78" ry="0.96" fill="#8e4eae"/>
<ellipse cx="639.68" cy="266.25" rx="1.06" ry="0.89" fill="#8e4eae"/>
<ellipse cx="615.91" cy="248.25" rx="1.46" ry="1.14" fill="#8e4eae"/>
<ellipse cx="654.14" cy="231.08" rx="1.03" ry="1.04" fill="#682c90"/>
<ellipse cx="626.24" cy="216.61" rx="0.75" ry="0.84" fill="#682c90"/>
<ellipse cx="661.34" cy="214.04" rx="1.32" ry="1.07" fill="#8e4eae"/>
<ellipse cx="630.34" cy="211.38" rx="1.15" ry="1.02" fill="#6e3096"/>
<ellipse cx="653.34" cy="233.75" rx="0.93" ry="0.84" fill="#74359a"/>
<ellipse cx="645.81" cy="220.18" rx="0.89" ry="0.9" fill="#682c90"/>
<ellipse cx="635.04" cy="236.52" rx="1.02" ry="1.05" fill="#8242a6"/>
<ellipse cx="627.79" cy="265.18" rx="0.86" ry="0.77" fill="#6e3096"/>
<ellipse cx="585.15" cy="258.22" rx="0.92" ry="0.86" fill="#8242a6"/>
<ellipse cx="587.39" cy="239.24" rx="1.01" ry="1.02" fill="#8e4eae"/>
<ellipse cx="602.45" cy="247.7" rx="1.25" ry="1.05" fill="#682c90"/>
<ellipse cx="573.52" cy="238.45" rx="0.96" ry="0.78" fill="#682c90"/>
<ellipse cx="595.25" cy="258.61" rx="1.13" ry="1.09" fill="#6e3096"/>
<ellipse cx="635.32" cy="229.59" rx="1" ry="0.89" fill="#6e3096"/>
<ellipse cx="606.64" cy="239.29" rx="0.92" ry="1.14" fill="#74359a"/>
<ellipse cx="603.45" cy="260.54" rx="0.99" ry="0.82" fill="#682c90"/>
<ellipse cx="592.21" cy="238.74" rx="0.98" ry="1.05" fill="#8e4eae"/>
<ellipse cx="617.95" cy="231.61" rx="0.94" ry="0.8" fill="#6e3096"/>
<ellipse cx="579.16" cy="256.27" rx="0.89" ry="1.08" fill="#682c90"/>
<ellipse cx="628.76" cy="240.45" rx="1.13" ry="1.14" fill="#6e3096"/>
<ellipse cx="627.66" cy="217.23" rx="1.33" ry="1.1" fill="#8e4eae"/>
<ellipse cx="579.58" cy="251.91" rx="0.86" ry="0.79" fill="#6e3096"/>
<ellipse cx="595.01" cy="263.47" rx="0.83" ry="0.8" fill="#6e3096"/>
<ellipse cx="612.02" cy="213.45" rx="0.88" ry="1.02" fill="#8242a6"/>
<ellipse cx="624.72" cy="257.71" rx="1.05" ry="0.82" fill="#8e4eae"/>
<ellipse cx="653.85" cy="245.54" rx="0.73" ry="0.77" fill="#8e4eae"/>
<ellipse cx="650.85" cy="240.03" rx="0.71" ry="0.83" fill="#6e3096"/>
<ellipse cx="625.39" cy="254" rx="1.13" ry="1.12" fill="#8242a6"/>
<ellipse cx="589.96" cy="264.25" rx="0.96" ry="0.92" fill="#8242a6"/>
<ellipse cx="591.13" cy="259.5" rx="0.97" ry="1.1" fill="#8e4eae"/>
<ellipse cx="671.27" cy="240.4" rx="1.19" ry="1.03" fill="#8242a6"/>
<ellipse cx="656.65" cy="222.03" rx="0.95" ry="1.03" fill="#74359a"/>
<ellipse cx="625.4" cy="213.18" rx="0.75" ry="0.81" fill="#8e4eae"/>
<ellipse cx="595.89" cy="210.38" rx="0.85" ry="1.05" fill="#8242a6"/>
<ellipse cx="600.32" cy="223.42" rx="0.81" ry="0.88" fill="#682c90"/>
<ellipse cx="657.06" cy="255.93" rx="0.84" ry="0.75" fill="#8e4eae"/>
<ellipse cx="600.08" cy="237.36" rx="1.11" ry="1.06" fill="#74359a"/>
<ellipse cx="587.06" cy="221.66" rx="1.34" ry="1.04" fill="#8242a6"/>
<ellipse cx="670.52" cy="262.67" rx="1.2" ry="0.95" fill="#8242a6"/>
<ellipse cx="623.48" cy="232.73" rx="0.91" ry="0.94" fill="#6e3096"/>
<ellipse cx="616.09" cy="226.23" rx="0.73" ry="0.88" fill="#6e3096"/>
<ellipse cx="640.69" cy="265.53" rx="0.99" ry="0.78" fill="#682c90"/>
<ellipse cx="617.66" cy="234.9" rx="1.33" ry="1.12" fill="#8e4eae"/>
<ellipse cx="571.37" cy="242.04" rx="1.03" ry="1.09" fill="#74359a"/>
<ellipse cx="625.15" cy="242.1" rx="1.1" ry="1.06" fill="#6e3096"/>
<ellipse cx="671.97" cy="263.23" rx="1.09" ry="1.13" fill="#8e4eae"/>
<ellipse cx="611.66" cy="241.86" rx="1.03" ry="1.03" fill="#8242a6"/>
<ellipse cx="609.84" cy="210.82" rx="0.9" ry="1.04" fill="#8242a6"/>
<ellipse cx="657.68" cy="262.24" rx="1.14" ry="1.01" fill="#8e4eae"/>
<ellipse cx="595.75" cy="262.28" rx="0.86" ry="0.77" fill="#8e4eae"/>
<ellipse cx="651.67" cy="219.67" rx="0.82" ry="0.83" fill="#682c90"/>
<ellipse cx="593.35" cy="217.03" rx="1.04" ry="1.08" fill="#8242a6"/>
<ellipse cx="625.01" cy="221.43" rx="1.28" ry="1.1" fill="#74359a"/>
<ellipse cx="630.25" cy="253.38" rx="1.06" ry="1.05" fill="#6e3096"/>
<ellipse cx="664.58" cy="228.76" rx="1.08" ry="0.98" fill="#8e4eae"/>
<ellipse cx="659.33" cy="210.72" rx="1.21" ry="0.97" fill="#74359a"/>
<ellipse cx="576.57" cy="264.25" rx="1.15" ry="1.04" fill="#682c90"/>
<ellipse cx="572.48" cy="245.95" rx="0.64" ry="0.79" fill="#8242a6"/>
<ellipse cx="628.83" cy="220.66" rx="0.84" ry="0.94" fill="#8242a6"/>
<ellipse cx="601.13" cy="225.23" rx="1.14" ry="1.13" fill="#8e4eae"/>
<ellipse cx="664.52" cy="248.08" rx="0.95" ry="1.06" fill="#6e3096"/>
<ellipse cx="636.91" cy="223.02" rx="0.94" ry="1.14" fill="#682c90"/>
<ellipse cx="642.61" cy="228.72" rx="0.87" ry="0.82" fill="#6e3096"/>
<ellipse cx="604.61" cy="261.95" rx="1.34" ry="1.13" fill="#8e4eae"/>
<ellipse cx="607.54" cy="212.64" rx="0.81" ry="0.77" fill="#6e3096"/>
<ellipse cx="676.64" cy="211.42" rx="0.73" ry="0.76" fill="#74359a"/>
<ellipse cx="627.34" cy="254.82" rx="0.9" ry="0.82" fill="#8242a6"/>
<ellipse cx="611.53" cy="231.37" rx="0.72" ry="0.8" fill="#8e4eae"/>
<ellipse cx="585" cy="265.71" rx="1.36" ry="1.11" fill="#8e4eae"/>
<ellipse cx="602.9" cy="259.08" rx="1.14" ry="1.04" fill="#74359a"/>
<ellipse cx="638.27" cy="260.8" rx="1.08" ry="1.15" fill="#6e3096"/>
<ellipse cx="618.42" cy="212.22" rx="1.17" ry="1.05" fill="#6e3096"/>
<ellipse cx="582.7" cy="259.96" rx="0.77" ry="0.9" fill="#8242a6"/>
<ellipse cx="606.42" cy="226.41" rx="1.3" ry="1.05" fill="#8242a6"/>
<ellipse cx="593.99" cy="215.81" rx="1.19" ry="0.94" fill="#8e4eae"/>
<ellipse cx="576.98" cy="241.12" rx="1.22" ry="0.97" fill="#6e3096"/>
<ellipse cx="607.34" cy="263.93" rx="1.04" ry="1.12" fill="#8242a6"/>
<ellipse cx="622.06" cy="215.12" rx="0.75" ry="0.94" fill="#8242a6"/>
<ellipse cx="639.78" cy="261.85" rx="1" ry="0.86" fill="#8242a6"/>
<ellipse cx="586.05" cy="214.64" rx="1.22" ry="0.99" fill="#6e3096"/>
<ellipse cx="669.98" cy="252.33" rx="1.15" ry="0.99" fill="#682c90"/>
<ellipse cx="657.17" cy="232.46" rx="1.1" ry="0.91" fill="#8242a6"/>
<ellipse cx="581.89" cy="240.7" rx="0.86" ry="0.94" fill="#74359a"/>
<ellipse cx="674.83" cy="260.43" rx="1.08" ry="0.93" fill="#6e3096"/>
<ellipse cx="647.79" cy="247.09" rx="1.16" ry="1.05" fill="#8242a6"/>
<ellipse cx="604.18" cy="234.08" rx="1.45" ry="1.13" fill="#8242a6"/>
<ellipse cx="620.53" cy="254.94" rx="0.84" ry="0.82" fill="#682c90"/>
<ellipse cx="648.81" cy="266.18" rx="0.91" ry="0.97" fill="#8e4eae"/>
<ellipse cx="670.18" cy="212.07" rx="1.21" ry="0.94" fill="#682c90"/>
<ellipse cx="624.75" cy="211.74" rx="1.15" ry="1.06" fill="#682c90"/>
<ellipse cx="659.87" cy="257.84" rx="0.97" ry="0.8" fill="#682c90"/>
<ellipse cx="629.38" cy="237.17" rx="0.95" ry="0.83" fill="#682c90"/>
<ellipse cx="593.91" cy="236.63" rx="0.95" ry="0.88" fill="#74359a"/>
<ellipse cx="645.32" cy="235.12" rx="0.83" ry="0.8" fill="#74359a"/>
<ellipse cx="588.76" cy="243.69" rx="0.77" ry="0.88" fill="#8242a6"/>
<ellipse cx="666.25" cy="224.74" rx="1.02" ry="0.86" fill="#6e3096"/>
<ellipse cx="617.18" cy="226.36" rx="0.9" ry="0.85" fill="#8242a6"/>
<ellipse cx="641.12" cy="238.27" rx="0.76" ry="0.77" fill="#8e4eae"/>
<ellipse cx="631.08" cy="213.6" rx="0.98" ry="0.76" fill="#6e3096"/>
<ellipse cx="641.49" cy="261.15" rx="1.39" ry="1.07" fill="#8e4eae"/>
<ellipse cx="622.38" cy="263.19" rx="0.83" ry="0.84" fill="#74359a"/>
<ellipse cx="666.44" cy="262.71" rx="0.87" ry="0.75" fill="#8242a6"/>
<ellipse cx="602.04" cy="263.22" rx="0.86" ry="1.07" fill="#74359a"/>
<ellipse cx="612.46" cy="213.21" rx="0.74" ry="0.85" fill="#6e3096"/>
<ellipse cx="577.15" cy="265.96" rx="0.81" ry="0.94" fill="#8242a6"/>
<ellipse cx="642.41" cy="241.02" rx="1.11" ry="0.88" fill="#682c90"/>
<ellipse cx="657.66" cy="214.08" rx="1.06" ry="0.99" fill="#8e4eae"/>
<ellipse cx="619.17" cy="226.35" rx="1.12" ry="1.1" fill="#6e3096"/>
<ellipse cx="581.66" cy="264.66" rx="0.89" ry="1.07" fill="#8242a6"/>
<ellipse cx="574.13" cy="254.38" rx="0.73" ry="0.89" fill="#6e3096"/>
<ellipse cx="582.57" cy="251.93" rx="0.94" ry="1.08" fill="#6e3096"/>
<ellipse cx="586.91" cy="253.83" rx="0.88" ry="0.78" fill="#6e3096"/>
<ellipse cx="575.89" cy="260.53" rx="1.1" ry="1.02" fill="#8242a6"/>
<ellipse cx="595.68" cy="217.44" rx="0.71" ry="0.78" fill="#682c90"/>
<ellipse cx="592.62" cy="219.72" rx="0.78" ry="0.86" fill="#8e4eae"/>
<ellipse cx="589.88" cy="212.15" rx="1.68" ry="1.2" fill="#fff8fe" transform="rotate(-30 589.88 212.15)"/>
<ellipse cx="612.1" cy="232.2" rx="1.12" ry="0.8" fill="#fff8fe" transform="rotate(-30 612.1 232.2)"/>
<ellipse cx="649.08" cy="215.79" rx="1.12" ry="0.8" fill="#fff8fe" transform="rotate(-30 649.08 215.79)"/>
<ellipse cx="622.82" cy="227.34" rx="1.12" ry="0.8" fill="#fff8fe" transform="rotate(-30 622.82 227.34)"/>
<ellipse cx="678.21" cy="222.7" rx="0.84" ry="0.6" fill="#fff8fe" transform="rotate(-30 678.21 222.7)"/>
<ellipse cx="572.8" cy="221.02" rx="1.12" ry="0.8" fill="#fff8fe" transform="rotate(-30 572.8 221.02)"/>
<ellipse cx="572.63" cy="264.29" rx="1.12" ry="0.8" fill="#fff8fe" transform="rotate(-30 572.63 264.29)"/>
<ellipse cx="584.33" cy="212.22" rx="0.84" ry="0.6" fill="#fff8fe" transform="rotate(-30 584.33 212.22)"/>
</g></g>
<line x1="571" y1="261" x2="587" y2="256.7" stroke="#fbe6f8" stroke-width="1"/>
<text x="244.3" y="273" font-size="8.6" font-family="Liberation Serif">50um</text>
<line x1="266" y1="272.6" x2="280" y2="272.6" stroke="#111" stroke-width="1.5"/>
</svg>
</body></html>
